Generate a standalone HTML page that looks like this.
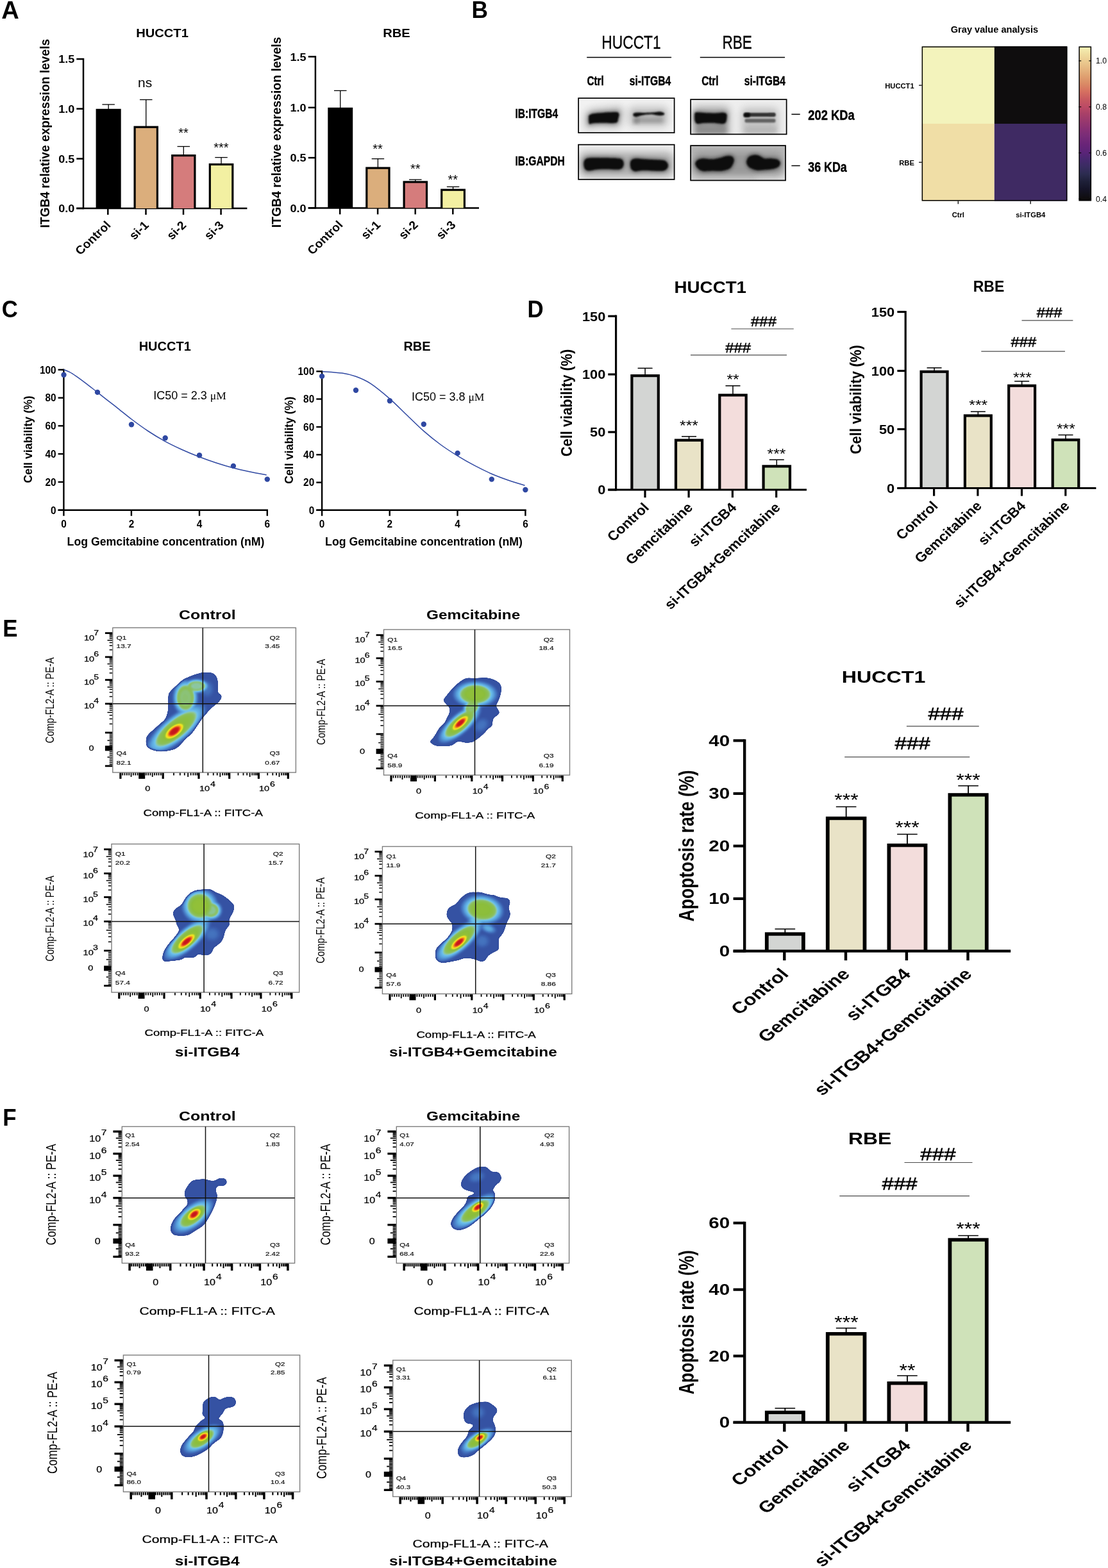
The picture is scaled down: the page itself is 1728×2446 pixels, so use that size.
<!DOCTYPE html>
<html lang="en"><head><meta charset="utf-8"><title>ITGB4 knockdown and gemcitabine sensitivity figure</title>
<style>
html,body{margin:0;padding:0;background:#fff;}
body{width:1728px;height:2446px;overflow:hidden;font-family:"Liberation Sans",sans-serif;}
svg{display:block;}
text{white-space:pre;}
</style></head>
<body>
<svg width="1728" height="2446" viewBox="0 0 1728 2446" role="img" aria-label="Figure: ITGB4 knockdown enhances gemcitabine sensitivity">
<defs>
<filter id="bl1" x="-30%" y="-60%" width="160%" height="220%"><feGaussianBlur stdDeviation="1.25"/></filter>
<filter id="bl2" x="-30%" y="-80%" width="160%" height="260%"><feGaussianBlur stdDeviation="3.2"/></filter>
<filter id="bl3" x="-40%" y="-100%" width="180%" height="300%"><feGaussianBlur stdDeviation="6"/></filter>
<clipPath id="bc1"><rect x="901.3" y="152.3" width="151.20000000000005" height="55.599999999999994"/></clipPath>
<clipPath id="bc2"><rect x="901.3" y="224.8" width="151.20000000000005" height="56.0"/></clipPath>
<clipPath id="bc3"><rect x="1076.3" y="154.3" width="151.20000000000005" height="56.0"/></clipPath>
<clipPath id="bc4"><rect x="1076.3" y="226.3" width="149.60000000000014" height="56.0"/></clipPath>
<linearGradient id="magma" x1="0" y1="0" x2="0" y2="1"><stop offset="0.0000" stop-color="#F5F2B5"/><stop offset="0.0463" stop-color="#F0DDA0"/><stop offset="0.0937" stop-color="#EBCB90"/><stop offset="0.1439" stop-color="#E5B680"/><stop offset="0.1927" stop-color="#DFA070"/><stop offset="0.2415" stop-color="#DA8A65"/><stop offset="0.2902" stop-color="#D67060"/><stop offset="0.3390" stop-color="#C85A60"/><stop offset="0.3912" stop-color="#BC4A65"/><stop offset="0.4366" stop-color="#A84068"/><stop offset="0.4854" stop-color="#98386E"/><stop offset="0.5341" stop-color="#883074"/><stop offset="0.5829" stop-color="#782C78"/><stop offset="0.6317" stop-color="#6A2478"/><stop offset="0.6888" stop-color="#5A2478"/><stop offset="0.7293" stop-color="#482870"/><stop offset="0.7780" stop-color="#3A2C62"/><stop offset="0.8268" stop-color="#2C2C50"/><stop offset="0.8756" stop-color="#1E2038"/><stop offset="0.9244" stop-color="#151428"/><stop offset="0.9863" stop-color="#0F0D0F"/></linearGradient>
<filter id="cmap" color-interpolation-filters="sRGB" x="0" y="0" width="100%" height="100%">
<feGaussianBlur in="SourceGraphic" stdDeviation="1.5" result="b"/>
<feComponentTransfer in="b" result="col"><feFuncR type="table" tableValues="0.204 0.204 0.204 0.204 0.204 0.204 0.204 0.204 0.204 0.204 0.204 0.210 0.223 0.235 0.254 0.272 0.290 0.314 0.337 0.361 0.384 0.408 0.431 0.490 0.549 0.549 0.549 0.549 0.549 0.549 0.549 0.567 0.585 0.603 0.657 0.748 0.839 0.889 0.940 0.963 0.960 0.957 0.947 0.938 0.916 0.882 0.847 0.816 0.784 0.776 0.769"/><feFuncG type="table" tableValues="0.310 0.310 0.310 0.310 0.310 0.310 0.310 0.310 0.310 0.310 0.310 0.325 0.355 0.384 0.424 0.463 0.502 0.554 0.607 0.659 0.693 0.727 0.761 0.773 0.784 0.772 0.759 0.752 0.750 0.747 0.745 0.752 0.759 0.765 0.787 0.825 0.863 0.878 0.894 0.866 0.794 0.722 0.624 0.527 0.420 0.304 0.188 0.141 0.094 0.090 0.086"/><feFuncB type="table" tableValues="0.627 0.627 0.627 0.627 0.627 0.627 0.627 0.627 0.627 0.627 0.627 0.642 0.670 0.698 0.727 0.756 0.784 0.816 0.847 0.878 0.894 0.910 0.925 0.792 0.659 0.546 0.433 0.356 0.316 0.276 0.235 0.226 0.217 0.208 0.196 0.180 0.165 0.146 0.127 0.118 0.118 0.118 0.118 0.118 0.118 0.118 0.118 0.114 0.110 0.110 0.110"/></feComponentTransfer>
<feColorMatrix in="b" type="matrix" values="1 0 0 0 0  0 1 0 0 0  0 0 1 0 0  1 0 0 0 0" result="m0"/>
<feComponentTransfer in="m0" result="mask"><feFuncA type="table" tableValues="0 0 0 0 0 0 1 1 1 1 1 1 1 1 1 1 1 1 1 1 1 1 1 1 1 1 1 1 1 1 1 1 1 1 1 1 1 1 1 1 1 1 1 1 1 1 1 1 1 1 1"/></feComponentTransfer>
<feComposite in="col" in2="mask" operator="in"/>
</filter>
<clipPath id="ol1"><path d="M316.4,1049.1C319.3,1048.8 324.3,1048.5 327.2,1048.9C330.2,1049.2 332.4,1050.1 334.1,1051.2C335.8,1052.3 336.6,1053.7 337.6,1055.5C338.5,1057.4 339.3,1058.4 339.7,1062.4C340.2,1066.5 339.4,1076.3 340.2,1079.7C340.9,1083.2 343.5,1081.9 344.5,1083.2C345.4,1084.4 345.8,1085.6 345.8,1087.0C345.7,1088.5 345.1,1090.1 344.0,1091.8C343.0,1093.4 340.9,1095.4 339.3,1097.0C337.6,1098.5 336.1,1099.6 334.1,1101.3C332.1,1103.0 329.4,1105.2 327.2,1107.3C325.0,1109.5 323.0,1112.2 321.2,1114.2C319.3,1116.2 317.9,1117.1 316.0,1119.4C314.1,1121.7 312.1,1124.9 309.9,1128.0C307.8,1131.2 305.1,1135.5 303.0,1138.4C301.0,1141.3 299.9,1143.1 297.9,1145.3C295.8,1147.5 293.3,1149.0 291.0,1151.3C288.7,1153.6 286.4,1156.7 284.0,1159.1C281.7,1161.6 279.4,1164.3 277.1,1166.0C274.8,1167.7 273.4,1168.5 270.2,1169.5C267.1,1170.4 262.3,1171.3 258.2,1171.6C254.0,1171.9 249.2,1171.8 245.2,1171.2C241.2,1170.5 236.8,1169.2 234.0,1167.7C231.2,1166.3 229.4,1165.3 228.4,1162.6C227.4,1159.8 227.3,1154.4 227.9,1151.3C228.6,1148.3 230.1,1146.9 232.3,1144.4C234.4,1142.0 238.0,1139.3 240.9,1136.7C243.8,1134.1 246.9,1131.2 249.5,1128.9C252.1,1126.6 254.7,1125.0 256.4,1122.9C258.2,1120.7 258.9,1118.8 259.9,1116.0C260.8,1113.1 261.6,1110.8 262.0,1105.6C262.5,1100.4 261.8,1089.5 262.5,1084.9C263.1,1080.3 264.1,1080.3 265.9,1078.0C267.8,1075.7 270.8,1073.7 273.7,1071.1C276.6,1068.5 280.3,1064.7 283.2,1062.4C286.1,1060.1 287.9,1058.8 291.0,1057.3C294.0,1055.7 298.1,1054.1 301.3,1052.9C304.5,1051.8 307.4,1051.0 309.9,1050.4C312.5,1049.7 313.5,1049.3 316.4,1049.1Z"/></clipPath>
<radialGradient id="pg2" gradientUnits="userSpaceOnUse" cx="0" cy="0" r="1"><stop offset="0.000" stop-color="#999999"/><stop offset="0.377" stop-color="#969696"/><stop offset="0.534" stop-color="#8f8f8f"/><stop offset="0.629" stop-color="#808080"/><stop offset="0.674" stop-color="#737373"/><stop offset="0.724" stop-color="#696969"/><stop offset="0.810" stop-color="#5c5c5c"/><stop offset="0.900" stop-color="#4f4f4f"/><stop offset="1.000" stop-color="#3b3b3b"/></radialGradient>
<radialGradient id="pg3" gradientUnits="userSpaceOnUse" cx="0" cy="0" r="1"><stop offset="0.000" stop-color="#858585"/><stop offset="0.377" stop-color="#828282"/><stop offset="0.534" stop-color="#8f8f8f"/><stop offset="0.629" stop-color="#808080"/><stop offset="0.674" stop-color="#737373"/><stop offset="0.724" stop-color="#696969"/><stop offset="0.810" stop-color="#5c5c5c"/><stop offset="0.900" stop-color="#4f4f4f"/><stop offset="1.000" stop-color="#3b3b3b"/></radialGradient>
<radialGradient id="pg4" gradientUnits="userSpaceOnUse" cx="0" cy="0" r="1"><stop offset="0.000" stop-color="#7d7d7d"/><stop offset="0.377" stop-color="#7a7a7a"/><stop offset="0.534" stop-color="#8f8f8f"/><stop offset="0.629" stop-color="#808080"/><stop offset="0.674" stop-color="#737373"/><stop offset="0.724" stop-color="#696969"/><stop offset="0.810" stop-color="#5c5c5c"/><stop offset="0.900" stop-color="#4f4f4f"/><stop offset="1.000" stop-color="#3b3b3b"/></radialGradient>
<radialGradient id="pg5" gradientUnits="userSpaceOnUse" cx="0" cy="0" r="1"><stop offset="0.000" stop-color="#4c4c4c"/><stop offset="0.400" stop-color="#494949"/><stop offset="0.700" stop-color="#3e3e3e"/><stop offset="1.000" stop-color="#333333"/></radialGradient>
<radialGradient id="pg6" gradientUnits="userSpaceOnUse" cx="0" cy="0" r="1"><stop offset="0.000" stop-color="#ffffff"/><stop offset="0.300" stop-color="#f7f7f7"/><stop offset="0.460" stop-color="#ebebeb"/><stop offset="0.580" stop-color="#dbdbdb"/><stop offset="0.700" stop-color="#c9c9c9"/><stop offset="0.820" stop-color="#bababa"/><stop offset="0.920" stop-color="#a8a8a8"/><stop offset="1.000" stop-color="#8c8c8c"/></radialGradient>
<clipPath id="ol7"><path d="M729.0,1057.5C732.2,1057.1 737.1,1057.8 741.1,1057.8C745.2,1057.7 749.5,1057.2 753.2,1057.3C757.0,1057.3 760.4,1057.3 763.6,1057.9C766.7,1058.6 769.6,1059.7 772.2,1061.0C774.8,1062.3 777.5,1064.1 779.1,1065.7C780.7,1067.4 781.2,1068.9 781.7,1070.9C782.2,1072.9 782.2,1075.2 781.9,1077.8C781.6,1080.4 780.9,1083.6 780.0,1086.4C779.1,1089.3 777.5,1092.6 776.5,1095.1C775.5,1097.5 774.0,1099.4 773.9,1101.1C773.9,1102.8 775.2,1103.7 776.1,1105.4C777.0,1107.1 779.2,1109.7 779.1,1111.5C779.0,1113.2 777.2,1114.2 775.7,1115.8C774.1,1117.4 770.8,1119.1 769.6,1121.0C768.4,1122.8 768.8,1125.0 768.3,1127.0C767.9,1129.0 768.1,1131.5 767.0,1133.0C765.9,1134.6 763.9,1134.6 761.8,1136.5C759.8,1138.4 757.2,1142.0 754.9,1144.3C752.6,1146.6 750.3,1148.4 748.0,1150.3C745.7,1152.2 743.1,1154.2 741.1,1155.5C739.1,1156.8 738.3,1157.5 736.0,1158.1C733.7,1158.6 729.9,1159.0 727.3,1158.9C724.7,1158.9 722.7,1157.9 720.4,1157.6C718.1,1157.3 715.5,1156.7 713.5,1157.2C711.5,1157.7 710.1,1159.6 708.3,1160.7C706.6,1161.7 706.2,1162.7 703.2,1163.2C700.1,1163.8 694.2,1164.1 690.2,1164.1C686.2,1164.1 681.9,1164.0 679.0,1163.2C676.1,1162.5 674.4,1160.9 672.9,1159.8C671.5,1158.7 670.1,1158.1 670.4,1156.8C670.6,1155.5 673.1,1154.1 674.7,1152.0C676.3,1149.9 678.1,1147.0 679.9,1144.3C681.6,1141.5 682.9,1138.4 685.0,1135.6C687.2,1132.9 690.8,1130.6 692.8,1127.9C694.8,1125.1 695.8,1121.8 697.1,1119.2C698.4,1116.6 700.0,1114.9 700.6,1112.3C701.1,1109.7 701.1,1105.7 700.6,1103.7C700.0,1101.7 698.4,1101.7 697.1,1100.2C695.8,1098.8 693.7,1096.5 692.8,1095.1C691.9,1093.6 691.2,1092.9 691.5,1091.6C691.8,1090.3 693.0,1089.3 694.5,1087.3C696.0,1085.3 698.3,1082.3 700.6,1079.5C702.9,1076.8 705.9,1073.3 708.3,1070.9C710.8,1068.4 712.9,1066.6 715.2,1064.9C717.5,1063.1 719.8,1061.3 722.1,1060.1C724.4,1058.9 725.9,1057.9 729.0,1057.5Z"/></clipPath>
<radialGradient id="pg8" gradientUnits="userSpaceOnUse" cx="0" cy="0" r="1"><stop offset="0.000" stop-color="#9e9e9e"/><stop offset="0.377" stop-color="#9c9c9c"/><stop offset="0.534" stop-color="#8f8f8f"/><stop offset="0.629" stop-color="#808080"/><stop offset="0.674" stop-color="#737373"/><stop offset="0.724" stop-color="#696969"/><stop offset="0.810" stop-color="#5c5c5c"/><stop offset="0.900" stop-color="#4f4f4f"/><stop offset="1.000" stop-color="#3b3b3b"/></radialGradient>
<radialGradient id="pg9" gradientUnits="userSpaceOnUse" cx="0" cy="0" r="1"><stop offset="0.000" stop-color="#9e9e9e"/><stop offset="0.377" stop-color="#9c9c9c"/><stop offset="0.534" stop-color="#8f8f8f"/><stop offset="0.629" stop-color="#808080"/><stop offset="0.674" stop-color="#737373"/><stop offset="0.724" stop-color="#696969"/><stop offset="0.810" stop-color="#5c5c5c"/><stop offset="0.900" stop-color="#4f4f4f"/><stop offset="1.000" stop-color="#3b3b3b"/></radialGradient>
<radialGradient id="pg10" gradientUnits="userSpaceOnUse" cx="0" cy="0" r="1"><stop offset="0.000" stop-color="#858585"/><stop offset="0.377" stop-color="#828282"/><stop offset="0.534" stop-color="#8f8f8f"/><stop offset="0.629" stop-color="#808080"/><stop offset="0.674" stop-color="#737373"/><stop offset="0.724" stop-color="#696969"/><stop offset="0.810" stop-color="#5c5c5c"/><stop offset="0.900" stop-color="#4f4f4f"/><stop offset="1.000" stop-color="#3b3b3b"/></radialGradient>
<radialGradient id="pg11" gradientUnits="userSpaceOnUse" cx="0" cy="0" r="1"><stop offset="0.000" stop-color="#4c4c4c"/><stop offset="0.400" stop-color="#494949"/><stop offset="0.700" stop-color="#3e3e3e"/><stop offset="1.000" stop-color="#333333"/></radialGradient>
<radialGradient id="pg12" gradientUnits="userSpaceOnUse" cx="0" cy="0" r="1"><stop offset="0.000" stop-color="#ffffff"/><stop offset="0.300" stop-color="#f7f7f7"/><stop offset="0.460" stop-color="#ebebeb"/><stop offset="0.580" stop-color="#dbdbdb"/><stop offset="0.700" stop-color="#c9c9c9"/><stop offset="0.820" stop-color="#bababa"/><stop offset="0.920" stop-color="#a8a8a8"/><stop offset="1.000" stop-color="#8c8c8c"/></radialGradient>
<clipPath id="ol13"><path d="M317.7,1387.9C320.6,1387.7 324.0,1386.9 326.3,1387.1C328.6,1387.2 329.6,1387.9 331.5,1388.8C333.4,1389.7 335.1,1391.1 337.5,1392.3C340.0,1393.4 343.4,1394.3 346.2,1395.7C348.9,1397.2 351.5,1399.0 353.9,1400.9C356.4,1402.8 359.0,1405.2 360.8,1406.9C362.6,1408.7 364.0,1409.4 364.7,1411.3C365.4,1413.1 365.3,1415.9 365.0,1418.2C364.6,1420.5 363.5,1422.9 362.6,1425.1C361.6,1427.2 360.0,1429.1 359.1,1431.1C358.2,1433.1 357.6,1435.1 357.4,1437.1C357.2,1439.2 358.5,1441.2 357.8,1443.2C357.1,1445.2 354.3,1447.2 353.1,1449.2C351.8,1451.2 351.2,1453.1 350.5,1455.3C349.8,1457.4 349.6,1459.9 348.8,1462.2C347.9,1464.5 347.0,1466.9 345.3,1469.1C343.6,1471.2 340.4,1473.4 338.4,1475.1C336.4,1476.8 334.5,1477.7 333.2,1479.4C331.9,1481.2 331.9,1483.8 330.6,1485.5C329.3,1487.2 327.6,1489.0 325.4,1489.8C323.3,1490.6 320.4,1490.4 317.7,1490.2C314.9,1490.1 311.4,1488.4 309.0,1488.9C306.7,1489.4 305.9,1492.4 303.9,1493.2C301.9,1494.1 299.6,1494.0 297.0,1494.1C294.4,1494.3 290.9,1493.5 288.3,1494.1C285.7,1494.7 285.2,1496.7 281.4,1497.6C277.7,1498.4 270.1,1498.9 265.9,1499.3C261.7,1499.6 258.5,1500.2 256.4,1499.7C254.3,1499.3 253.8,1498.4 253.4,1496.7C252.9,1495.0 253.2,1492.4 253.8,1489.8C254.5,1487.2 255.5,1484.2 257.3,1481.2C259.0,1478.1 261.7,1474.7 264.2,1471.7C266.6,1468.6 269.6,1465.9 271.9,1463.0C274.2,1460.2 276.8,1456.7 278.0,1454.4C279.1,1452.1 279.3,1451.2 278.8,1449.2C278.4,1447.2 276.3,1444.6 275.4,1442.3C274.5,1440.0 274.6,1438.2 273.7,1435.4C272.7,1432.7 270.2,1428.4 269.8,1425.9C269.3,1423.5 270.0,1422.5 271.1,1420.7C272.2,1419.0 274.2,1417.1 276.3,1415.6C278.3,1414.0 281.1,1413.3 283.2,1411.3C285.2,1409.2 286.6,1405.9 288.3,1403.5C290.1,1401.0 291.5,1398.6 293.5,1396.6C295.5,1394.6 297.8,1392.7 300.4,1391.4C303.0,1390.1 306.2,1389.4 309.0,1388.8C311.9,1388.2 314.8,1388.2 317.7,1387.9Z"/></clipPath>
<radialGradient id="pg14" gradientUnits="userSpaceOnUse" cx="0" cy="0" r="1"><stop offset="0.000" stop-color="#9e9e9e"/><stop offset="0.377" stop-color="#9c9c9c"/><stop offset="0.534" stop-color="#8f8f8f"/><stop offset="0.629" stop-color="#808080"/><stop offset="0.674" stop-color="#737373"/><stop offset="0.724" stop-color="#696969"/><stop offset="0.810" stop-color="#5c5c5c"/><stop offset="0.900" stop-color="#4f4f4f"/><stop offset="1.000" stop-color="#3b3b3b"/></radialGradient>
<radialGradient id="pg15" gradientUnits="userSpaceOnUse" cx="0" cy="0" r="1"><stop offset="0.000" stop-color="#a1a1a1"/><stop offset="0.377" stop-color="#9e9e9e"/><stop offset="0.534" stop-color="#8f8f8f"/><stop offset="0.629" stop-color="#808080"/><stop offset="0.674" stop-color="#737373"/><stop offset="0.724" stop-color="#696969"/><stop offset="0.810" stop-color="#5c5c5c"/><stop offset="0.900" stop-color="#4f4f4f"/><stop offset="1.000" stop-color="#3b3b3b"/></radialGradient>
<radialGradient id="pg16" gradientUnits="userSpaceOnUse" cx="0" cy="0" r="1"><stop offset="0.000" stop-color="#808080"/><stop offset="0.377" stop-color="#7d7d7d"/><stop offset="0.534" stop-color="#8f8f8f"/><stop offset="0.629" stop-color="#808080"/><stop offset="0.674" stop-color="#737373"/><stop offset="0.724" stop-color="#696969"/><stop offset="0.810" stop-color="#5c5c5c"/><stop offset="0.900" stop-color="#4f4f4f"/><stop offset="1.000" stop-color="#3b3b3b"/></radialGradient>
<radialGradient id="pg17" gradientUnits="userSpaceOnUse" cx="0" cy="0" r="1"><stop offset="0.000" stop-color="#737373"/><stop offset="0.400" stop-color="#696969"/><stop offset="0.700" stop-color="#505050"/><stop offset="1.000" stop-color="#333333"/></radialGradient>
<radialGradient id="pg18" gradientUnits="userSpaceOnUse" cx="0" cy="0" r="1"><stop offset="0.000" stop-color="#4c4c4c"/><stop offset="0.400" stop-color="#494949"/><stop offset="0.700" stop-color="#3e3e3e"/><stop offset="1.000" stop-color="#333333"/></radialGradient>
<radialGradient id="pg19" gradientUnits="userSpaceOnUse" cx="0" cy="0" r="1"><stop offset="0.000" stop-color="#ffffff"/><stop offset="0.300" stop-color="#f7f7f7"/><stop offset="0.460" stop-color="#ebebeb"/><stop offset="0.580" stop-color="#dbdbdb"/><stop offset="0.700" stop-color="#c9c9c9"/><stop offset="0.820" stop-color="#bababa"/><stop offset="0.920" stop-color="#a8a8a8"/><stop offset="1.000" stop-color="#8c8c8c"/></radialGradient>
<clipPath id="ol20"><path d="M741.6,1391.7C744.1,1391.7 747.0,1391.3 749.4,1391.7C751.9,1392.0 754.0,1393.2 756.3,1393.8C758.6,1394.5 760.9,1395.2 763.2,1395.5C765.5,1395.9 768.0,1395.5 770.1,1396.0C772.3,1396.5 774.1,1397.8 776.2,1398.6C778.2,1399.3 779.9,1399.9 782.2,1400.3C784.5,1400.6 788.0,1400.2 790.0,1400.7C792.0,1401.2 793.4,1402.0 794.3,1403.3C795.2,1404.6 795.7,1406.3 795.6,1408.5C795.4,1410.6 793.4,1413.8 793.4,1416.3C793.4,1418.7 795.3,1420.9 795.6,1423.2C795.9,1425.5 795.8,1427.8 795.2,1430.1C794.5,1432.4 792.7,1434.7 791.7,1437.0C790.7,1439.3 790.1,1441.1 789.1,1443.9C788.1,1446.6 787.0,1450.6 785.7,1453.4C784.4,1456.1 782.6,1458.3 781.3,1460.3C780.0,1462.3 778.5,1462.1 777.9,1465.4C777.3,1468.8 778.5,1477.1 777.9,1480.1C777.3,1483.1 776.2,1482.4 774.4,1483.6C772.7,1484.7 769.7,1485.7 767.5,1487.0C765.4,1488.3 763.2,1489.6 761.5,1491.3C759.8,1493.1 758.6,1495.9 757.2,1497.4C755.7,1498.8 754.4,1499.6 752.9,1500.0C751.3,1500.3 749.6,1500.0 747.7,1499.5C745.8,1499.0 743.9,1497.7 741.6,1497.0C739.3,1496.2 736.6,1495.6 733.9,1495.2C731.1,1494.9 728.1,1494.4 725.2,1494.8C722.4,1495.2 720.1,1496.5 716.6,1497.4C713.2,1498.2 708.6,1499.2 704.5,1500.0C700.5,1500.8 695.6,1502.0 692.4,1502.1C689.3,1502.3 687.5,1501.8 685.5,1500.8C683.5,1499.9 681.4,1498.2 680.4,1496.5C679.3,1494.8 679.2,1492.9 679.1,1490.5C678.9,1488.0 678.7,1484.3 679.5,1481.8C680.3,1479.4 681.9,1477.8 683.8,1475.8C685.7,1473.8 688.3,1471.9 690.7,1469.8C693.2,1467.6 696.3,1465.3 698.5,1462.9C700.6,1460.4 702.5,1457.5 703.7,1455.1C704.8,1452.6 705.2,1450.6 705.4,1448.2C705.5,1445.7 705.4,1442.6 704.5,1440.4C703.7,1438.3 701.5,1437.1 700.2,1435.2C698.9,1433.4 697.3,1431.2 696.8,1429.2C696.2,1427.2 696.3,1425.2 696.8,1423.2C697.2,1421.1 698.1,1418.8 699.3,1417.1C700.6,1415.5 702.7,1414.4 704.5,1413.2C706.4,1412.1 708.7,1411.7 710.6,1410.2C712.4,1408.7 713.9,1406.2 715.7,1404.2C717.6,1402.2 719.8,1399.9 721.8,1398.1C723.8,1396.4 725.7,1394.9 727.8,1393.8C730.0,1392.7 732.4,1392.0 734.7,1391.7C737.0,1391.3 739.2,1391.7 741.6,1391.7Z"/></clipPath>
<radialGradient id="pg21" gradientUnits="userSpaceOnUse" cx="0" cy="0" r="1"><stop offset="0.000" stop-color="#9e9e9e"/><stop offset="0.377" stop-color="#9c9c9c"/><stop offset="0.534" stop-color="#8f8f8f"/><stop offset="0.629" stop-color="#808080"/><stop offset="0.674" stop-color="#737373"/><stop offset="0.724" stop-color="#696969"/><stop offset="0.810" stop-color="#5c5c5c"/><stop offset="0.900" stop-color="#4f4f4f"/><stop offset="1.000" stop-color="#3b3b3b"/></radialGradient>
<radialGradient id="pg22" gradientUnits="userSpaceOnUse" cx="0" cy="0" r="1"><stop offset="0.000" stop-color="#9c9c9c"/><stop offset="0.377" stop-color="#999999"/><stop offset="0.534" stop-color="#8f8f8f"/><stop offset="0.629" stop-color="#808080"/><stop offset="0.674" stop-color="#737373"/><stop offset="0.724" stop-color="#696969"/><stop offset="0.810" stop-color="#5c5c5c"/><stop offset="0.900" stop-color="#4f4f4f"/><stop offset="1.000" stop-color="#3b3b3b"/></radialGradient>
<radialGradient id="pg23" gradientUnits="userSpaceOnUse" cx="0" cy="0" r="1"><stop offset="0.000" stop-color="#787878"/><stop offset="0.400" stop-color="#6e6e6e"/><stop offset="0.700" stop-color="#525252"/><stop offset="1.000" stop-color="#333333"/></radialGradient>
<radialGradient id="pg24" gradientUnits="userSpaceOnUse" cx="0" cy="0" r="1"><stop offset="0.000" stop-color="#666666"/><stop offset="0.400" stop-color="#5e5e5e"/><stop offset="0.700" stop-color="#4a4a4a"/><stop offset="1.000" stop-color="#333333"/></radialGradient>
<radialGradient id="pg25" gradientUnits="userSpaceOnUse" cx="0" cy="0" r="1"><stop offset="0.000" stop-color="#4c4c4c"/><stop offset="0.400" stop-color="#494949"/><stop offset="0.700" stop-color="#3e3e3e"/><stop offset="1.000" stop-color="#333333"/></radialGradient>
<radialGradient id="pg26" gradientUnits="userSpaceOnUse" cx="0" cy="0" r="1"><stop offset="0.000" stop-color="#ffffff"/><stop offset="0.300" stop-color="#f7f7f7"/><stop offset="0.460" stop-color="#ebebeb"/><stop offset="0.580" stop-color="#dbdbdb"/><stop offset="0.700" stop-color="#c9c9c9"/><stop offset="0.820" stop-color="#bababa"/><stop offset="0.920" stop-color="#a8a8a8"/><stop offset="1.000" stop-color="#8c8c8c"/></radialGradient>
<clipPath id="ol27"><path d="M320.3,1839.4C322.9,1839.7 326.0,1841.1 328.4,1841.5C330.9,1841.8 332.9,1842.0 335.1,1841.5C337.3,1840.9 339.4,1838.7 341.7,1838.1C344.1,1837.6 347.2,1837.6 349.1,1838.1C351.0,1838.6 352.5,1839.8 353.2,1841.1C353.9,1842.4 353.9,1844.7 353.6,1845.9C353.3,1847.1 352.3,1847.8 351.4,1848.5C350.4,1849.2 349.5,1849.7 347.7,1850.0C345.8,1850.3 342.0,1849.8 340.3,1850.3C338.5,1850.9 337.9,1851.9 337.3,1853.3C336.7,1854.6 336.7,1856.7 336.9,1858.5C337.2,1860.2 338.5,1861.7 338.8,1863.6C339.0,1865.6 338.9,1867.8 338.4,1870.3C337.9,1872.8 337.0,1875.5 335.8,1878.4C334.6,1881.4 332.9,1885.0 331.4,1888.1C329.9,1891.1 328.3,1894.4 326.9,1896.9C325.6,1899.5 324.6,1901.4 323.2,1903.6C321.9,1905.8 320.7,1908.3 318.8,1910.3C317.0,1912.2 314.5,1913.8 312.1,1915.4C309.8,1917.0 307.1,1918.4 304.7,1919.9C302.4,1921.4 300.3,1923.1 298.1,1924.3C295.9,1925.5 295.1,1926.7 291.4,1927.3C287.7,1927.8 279.6,1928.0 275.9,1927.6C272.2,1927.3 270.9,1926.5 269.2,1925.1C267.6,1923.6 266.3,1921.4 265.9,1919.1C265.5,1916.9 266.0,1914.2 266.6,1911.7C267.3,1909.3 268.7,1906.6 270.0,1904.3C271.3,1902.1 272.6,1900.4 274.4,1898.4C276.3,1896.4 279.0,1894.7 281.1,1892.5C283.2,1890.3 285.1,1887.4 287.0,1885.1C288.8,1882.8 291.4,1880.7 292.2,1878.4C293.0,1876.2 292.3,1873.5 291.8,1871.8C291.3,1870.1 289.9,1869.3 289.2,1868.1C288.5,1866.9 287.9,1866.0 287.7,1864.4C287.5,1862.8 287.5,1860.6 288.1,1858.5C288.7,1856.4 289.9,1854.3 291.4,1851.8C293.0,1849.3 295.4,1845.5 297.3,1843.7C299.3,1841.8 300.7,1841.4 303.3,1840.7C305.9,1840.0 310.0,1839.6 312.9,1839.4C315.7,1839.2 317.7,1839.0 320.3,1839.4Z"/></clipPath>
<radialGradient id="pg28" gradientUnits="userSpaceOnUse" cx="0" cy="0" r="1"><stop offset="0.000" stop-color="#9c9c9c"/><stop offset="0.337" stop-color="#999999"/><stop offset="0.478" stop-color="#8f8f8f"/><stop offset="0.562" stop-color="#808080"/><stop offset="0.616" stop-color="#737373"/><stop offset="0.674" stop-color="#696969"/><stop offset="0.776" stop-color="#5c5c5c"/><stop offset="0.883" stop-color="#4f4f4f"/><stop offset="1.000" stop-color="#3b3b3b"/></radialGradient>
<radialGradient id="pg29" gradientUnits="userSpaceOnUse" cx="0" cy="0" r="1"><stop offset="0.000" stop-color="#ffffff"/><stop offset="0.300" stop-color="#f7f7f7"/><stop offset="0.460" stop-color="#ebebeb"/><stop offset="0.580" stop-color="#dbdbdb"/><stop offset="0.700" stop-color="#c9c9c9"/><stop offset="0.820" stop-color="#bababa"/><stop offset="0.920" stop-color="#a8a8a8"/><stop offset="1.000" stop-color="#8c8c8c"/></radialGradient>
<clipPath id="ol30"><path d="M749.2,1820.0C751.4,1819.7 754.6,1819.6 756.6,1820.0C758.6,1820.4 759.3,1821.0 761.0,1822.2C762.7,1823.4 765.0,1826.5 766.9,1827.4C768.9,1828.3 771.0,1827.4 772.9,1827.8C774.7,1828.1 776.6,1828.5 778.0,1829.6C779.5,1830.7 780.7,1832.7 781.4,1834.4C782.0,1836.1 782.2,1837.9 781.7,1839.6C781.3,1841.3 780.0,1843.4 778.8,1844.8C777.5,1846.1 775.7,1846.4 774.3,1847.7C773.0,1849.1 771.6,1851.4 770.6,1852.9C769.7,1854.4 768.7,1855.3 768.8,1856.6C768.9,1858.0 770.9,1859.3 771.4,1861.0C771.9,1862.8 771.9,1864.9 771.7,1867.0C771.6,1869.1 771.4,1871.3 770.6,1873.6C769.8,1876.0 768.4,1878.7 766.9,1881.0C765.5,1883.4 763.7,1885.5 761.8,1887.7C759.8,1889.9 757.3,1892.4 755.1,1894.3C752.9,1896.3 750.4,1897.9 748.4,1899.5C746.5,1901.1 745.4,1902.2 743.3,1904.0C741.2,1905.7 738.3,1908.0 735.9,1909.9C733.4,1911.7 731.2,1913.6 728.5,1915.1C725.8,1916.5 722.3,1917.8 719.6,1918.4C716.9,1918.9 714.4,1918.8 712.2,1918.4C710.0,1918.0 707.8,1917.1 706.3,1915.8C704.8,1914.5 703.7,1912.5 703.3,1910.6C702.9,1908.8 703.2,1906.9 704.1,1904.7C704.9,1902.5 706.6,1899.8 708.5,1897.3C710.3,1894.8 712.8,1892.4 715.2,1889.9C717.5,1887.4 720.6,1885.0 722.6,1882.5C724.5,1880.0 726.1,1877.2 727.0,1875.1C727.9,1873.0 727.5,1871.5 728.1,1869.9C728.7,1868.3 729.1,1866.6 730.7,1865.5C732.2,1864.4 735.7,1864.0 737.3,1863.3C739.0,1862.5 740.3,1861.7 740.3,1861.0C740.3,1860.4 739.2,1860.2 737.3,1859.6C735.5,1859.0 731.7,1858.2 729.2,1857.3C726.7,1856.5 724.2,1855.6 722.6,1854.4C720.9,1853.2 719.7,1851.8 719.2,1849.9C718.7,1848.1 718.9,1845.5 719.6,1843.3C720.3,1841.1 721.6,1838.9 723.3,1836.6C725.0,1834.4 727.6,1831.9 729.9,1830.0C732.3,1828.0 735.1,1826.2 737.3,1824.8C739.6,1823.4 741.3,1822.3 743.3,1821.5C745.2,1820.7 747.0,1820.2 749.2,1820.0Z"/></clipPath>
<radialGradient id="pg31" gradientUnits="userSpaceOnUse" cx="0" cy="0" r="1"><stop offset="0.000" stop-color="#9c9c9c"/><stop offset="0.337" stop-color="#999999"/><stop offset="0.478" stop-color="#8f8f8f"/><stop offset="0.562" stop-color="#808080"/><stop offset="0.616" stop-color="#737373"/><stop offset="0.674" stop-color="#696969"/><stop offset="0.776" stop-color="#5c5c5c"/><stop offset="0.883" stop-color="#4f4f4f"/><stop offset="1.000" stop-color="#3b3b3b"/></radialGradient>
<radialGradient id="pg32" gradientUnits="userSpaceOnUse" cx="0" cy="0" r="1"><stop offset="0.000" stop-color="#4f4f4f"/><stop offset="0.400" stop-color="#4b4b4b"/><stop offset="0.700" stop-color="#404040"/><stop offset="1.000" stop-color="#333333"/></radialGradient>
<radialGradient id="pg33" gradientUnits="userSpaceOnUse" cx="0" cy="0" r="1"><stop offset="0.000" stop-color="#ffffff"/><stop offset="0.300" stop-color="#f7f7f7"/><stop offset="0.460" stop-color="#ebebeb"/><stop offset="0.580" stop-color="#dbdbdb"/><stop offset="0.700" stop-color="#c9c9c9"/><stop offset="0.820" stop-color="#bababa"/><stop offset="0.920" stop-color="#a8a8a8"/><stop offset="1.000" stop-color="#8c8c8c"/></radialGradient>
<clipPath id="ol34"><path d="M330.1,2178.7C332.1,2178.2 333.8,2178.7 335.3,2179.1C336.8,2179.4 337.7,2180.1 339.0,2180.9C340.2,2181.7 341.4,2183.7 342.7,2183.9C343.9,2184.0 344.8,2182.4 346.4,2181.6C348.0,2180.9 350.1,2179.9 352.3,2179.4C354.5,2178.9 357.6,2178.5 359.7,2178.7C361.8,2178.9 363.6,2179.6 364.9,2180.5C366.2,2181.5 367.0,2182.8 367.5,2184.2C368.0,2185.7 368.1,2187.9 367.8,2189.4C367.5,2190.9 366.7,2192.1 365.6,2193.1C364.5,2194.1 363.1,2194.7 361.2,2195.3C359.2,2195.9 355.6,2196.1 353.8,2196.8C351.9,2197.6 351.1,2198.5 350.1,2199.8C349.1,2201.0 348.6,2203.0 347.9,2204.2C347.1,2205.4 346.4,2206.4 345.6,2207.2C344.9,2207.9 343.8,2208.0 343.4,2208.6C343.0,2209.3 344.2,2210.3 343.4,2210.9C342.7,2211.5 339.0,2211.7 339.0,2212.3C339.0,2213.0 342.1,2213.7 343.4,2214.6C344.8,2215.4 346.3,2216.4 347.1,2217.5C348.0,2218.6 348.4,2218.9 348.6,2221.2C348.8,2223.6 348.9,2228.6 348.6,2231.6C348.3,2234.5 347.6,2236.9 346.7,2239.0C345.9,2241.1 345.0,2242.6 343.4,2244.2C341.9,2245.8 339.5,2247.1 337.5,2248.6C335.5,2250.1 333.3,2251.4 331.6,2253.0C329.9,2254.6 328.9,2256.6 327.1,2258.2C325.4,2259.8 323.4,2261.2 321.2,2262.7C319.0,2264.1 316.3,2265.7 313.8,2267.1C311.4,2268.4 309.0,2269.8 306.4,2270.8C303.8,2271.8 301.1,2272.6 298.3,2273.0C295.5,2273.4 291.9,2273.5 289.4,2273.0C286.9,2272.5 284.9,2271.5 283.5,2270.1C282.1,2268.6 281.2,2266.2 280.9,2264.1C280.7,2262.0 281.2,2259.7 282.0,2257.5C282.8,2255.3 284.2,2252.9 285.7,2250.8C287.2,2248.7 289.2,2246.9 290.9,2244.9C292.6,2242.9 294.5,2240.7 296.1,2239.0C297.7,2237.3 299.4,2236.0 300.5,2234.5C301.6,2233.1 302.0,2231.7 302.7,2230.1C303.5,2228.5 303.8,2226.5 304.9,2224.9C306.1,2223.3 307.9,2222.0 309.4,2220.5C310.9,2219.0 312.0,2217.5 313.8,2216.0C315.7,2214.6 320.0,2212.8 320.5,2211.6C321.0,2210.4 317.6,2209.8 316.8,2208.6C315.9,2207.5 315.4,2206.4 315.3,2204.9C315.2,2203.5 315.9,2202.4 316.0,2199.8C316.2,2197.2 316.0,2191.8 316.4,2189.4C316.8,2187.1 317.1,2186.9 318.3,2185.7C319.4,2184.5 321.5,2183.2 323.4,2182.0C325.4,2180.8 328.1,2179.2 330.1,2178.7Z"/></clipPath>
<radialGradient id="pg35" gradientUnits="userSpaceOnUse" cx="0" cy="0" r="1"><stop offset="0.000" stop-color="#9c9c9c"/><stop offset="0.337" stop-color="#999999"/><stop offset="0.478" stop-color="#8f8f8f"/><stop offset="0.562" stop-color="#808080"/><stop offset="0.616" stop-color="#737373"/><stop offset="0.674" stop-color="#696969"/><stop offset="0.776" stop-color="#5c5c5c"/><stop offset="0.883" stop-color="#4f4f4f"/><stop offset="1.000" stop-color="#3b3b3b"/></radialGradient>
<radialGradient id="pg36" gradientUnits="userSpaceOnUse" cx="0" cy="0" r="1"><stop offset="0.000" stop-color="#ffffff"/><stop offset="0.300" stop-color="#f7f7f7"/><stop offset="0.460" stop-color="#ebebeb"/><stop offset="0.580" stop-color="#dbdbdb"/><stop offset="0.700" stop-color="#c9c9c9"/><stop offset="0.820" stop-color="#bababa"/><stop offset="0.920" stop-color="#a8a8a8"/><stop offset="1.000" stop-color="#8c8c8c"/></radialGradient>
<clipPath id="ol37"><path d="M748.4,2187.0C751.9,2186.5 756.8,2186.3 759.5,2186.6C762.3,2187.0 763.0,2187.9 764.7,2188.9C766.4,2189.9 768.4,2191.5 769.9,2192.6C771.4,2193.7 772.7,2194.4 773.6,2195.5C774.5,2196.6 775.2,2197.9 775.4,2199.2C775.7,2200.5 775.6,2202.0 775.1,2203.3C774.5,2204.6 773.0,2205.7 772.1,2207.0C771.2,2208.3 770.1,2209.6 769.5,2211.1C769.0,2212.5 768.6,2214.3 768.8,2215.9C769.0,2217.4 770.0,2218.7 770.6,2220.3C771.3,2221.9 772.1,2223.5 772.5,2225.5C772.9,2227.5 773.4,2229.9 773.2,2232.1C773.0,2234.4 772.4,2236.7 771.4,2238.8C770.3,2240.9 768.7,2242.9 766.9,2244.7C765.2,2246.6 763.0,2248.2 761.0,2249.9C759.0,2251.6 757.0,2253.5 755.1,2255.1C753.3,2256.7 751.7,2258.0 749.9,2259.5C748.2,2261.0 746.3,2262.5 744.7,2264.0C743.1,2265.4 742.5,2267.0 740.3,2268.4C738.1,2269.8 734.3,2271.6 731.4,2272.5C728.6,2273.3 725.6,2273.6 723.3,2273.6C720.9,2273.6 718.9,2273.3 717.4,2272.5C715.9,2271.6 715.0,2269.9 714.4,2268.4C713.8,2266.9 713.4,2265.2 713.7,2263.2C713.9,2261.2 714.7,2258.9 715.9,2256.6C717.1,2254.2 719.3,2251.4 721.1,2249.2C722.8,2246.9 724.9,2245.1 726.3,2243.2C727.6,2241.4 728.5,2239.7 729.2,2238.1C729.9,2236.5 729.7,2235.1 730.3,2233.6C730.9,2232.1 731.6,2230.7 732.9,2229.2C734.2,2227.7 737.6,2226.0 738.1,2224.7C738.6,2223.5 737.2,2222.4 735.9,2221.8C734.5,2221.2 731.7,2221.7 729.9,2221.0C728.2,2220.4 726.6,2219.4 725.5,2218.1C724.4,2216.7 723.7,2215.3 723.3,2212.9C722.9,2210.6 722.8,2206.5 723.3,2204.0C723.8,2201.6 724.9,2200.0 726.3,2198.1C727.6,2196.3 729.3,2194.4 731.4,2192.9C733.5,2191.5 736.0,2190.6 738.8,2189.6C741.7,2188.6 745.0,2187.5 748.4,2187.0Z"/></clipPath>
<radialGradient id="pg38" gradientUnits="userSpaceOnUse" cx="0" cy="0" r="1"><stop offset="0.000" stop-color="#9c9c9c"/><stop offset="0.337" stop-color="#999999"/><stop offset="0.478" stop-color="#8f8f8f"/><stop offset="0.562" stop-color="#808080"/><stop offset="0.616" stop-color="#737373"/><stop offset="0.674" stop-color="#696969"/><stop offset="0.776" stop-color="#5c5c5c"/><stop offset="0.883" stop-color="#4f4f4f"/><stop offset="1.000" stop-color="#3b3b3b"/></radialGradient>
<radialGradient id="pg39" gradientUnits="userSpaceOnUse" cx="0" cy="0" r="1"><stop offset="0.000" stop-color="#575757"/><stop offset="0.400" stop-color="#515151"/><stop offset="0.700" stop-color="#434343"/><stop offset="1.000" stop-color="#333333"/></radialGradient>
<radialGradient id="pg40" gradientUnits="userSpaceOnUse" cx="0" cy="0" r="1"><stop offset="0.000" stop-color="#4c4c4c"/><stop offset="0.400" stop-color="#494949"/><stop offset="0.700" stop-color="#3e3e3e"/><stop offset="1.000" stop-color="#333333"/></radialGradient>
<radialGradient id="pg41" gradientUnits="userSpaceOnUse" cx="0" cy="0" r="1"><stop offset="0.000" stop-color="#ffffff"/><stop offset="0.300" stop-color="#f7f7f7"/><stop offset="0.460" stop-color="#ebebeb"/><stop offset="0.580" stop-color="#dbdbdb"/><stop offset="0.700" stop-color="#c9c9c9"/><stop offset="0.820" stop-color="#bababa"/><stop offset="0.920" stop-color="#a8a8a8"/><stop offset="1.000" stop-color="#8c8c8c"/></radialGradient>
</defs>
<rect x="0" y="0" width="1728" height="2446" fill="#ffffff"/>
<text transform="translate(2.30,29.00) scale(0.9900,1.0000)" font-family='"Liberation Sans", sans-serif' font-size="38.5" font-weight="bold" text-anchor="start" fill="#000" >A</text>
<text transform="translate(735.50,28.30) scale(0.9500,1.0000)" font-family='"Liberation Sans", sans-serif' font-size="37.2" font-weight="bold" text-anchor="start" fill="#000" >B</text>
<text transform="translate(2.70,495.00) scale(0.9200,1.0000)" font-family='"Liberation Sans", sans-serif' font-size="37.7" font-weight="bold" text-anchor="start" fill="#000" >C</text>
<text transform="translate(822.60,495.00) scale(0.9300,1.0000)" font-family='"Liberation Sans", sans-serif' font-size="37.5" font-weight="bold" text-anchor="start" fill="#000" >D</text>
<text transform="translate(4.20,992.80) scale(0.9300,1.0000)" font-family='"Liberation Sans", sans-serif' font-size="37.5" font-weight="bold" text-anchor="start" fill="#000" >E</text>
<text transform="translate(4.20,1755.80) scale(0.9300,1.0000)" font-family='"Liberation Sans", sans-serif' font-size="37.5" font-weight="bold" text-anchor="start" fill="#000" >F</text>
<text transform="translate(253.00,57.90) scale(1.0500,1.0000)" font-family='"Liberation Sans", sans-serif' font-size="19.2" font-weight="bold" text-anchor="middle" fill="#000" >HUCCT1</text>
<text transform="translate(76.80,208.20) scale(1.0600,1) rotate(-90) scale(1.0015,1.0000)" font-family='"Liberation Sans", sans-serif' font-size="19.2" font-weight="bold" text-anchor="middle" fill="#000" >ITGB4 relative expression levels</text>
<line x1="130.00" y1="90.85" x2="130.00" y2="326.25" stroke="#000" stroke-width="2.5" stroke-linecap="butt"/>
<line x1="119.30" y1="92.10" x2="130.00" y2="92.10" stroke="#000" stroke-width="2.5" stroke-linecap="butt"/>
<line x1="119.30" y1="169.70" x2="130.00" y2="169.70" stroke="#000" stroke-width="2.5" stroke-linecap="butt"/>
<line x1="119.30" y1="247.60" x2="130.00" y2="247.60" stroke="#000" stroke-width="2.5" stroke-linecap="butt"/>
<line x1="119.30" y1="325.00" x2="130.00" y2="325.00" stroke="#000" stroke-width="2.5" stroke-linecap="butt"/>
<line x1="119.30" y1="325.00" x2="385.40" y2="325.00" stroke="#000" stroke-width="2.5" stroke-linecap="butt"/>
<line x1="168.30" y1="325.00" x2="168.30" y2="335.00" stroke="#000" stroke-width="2.5" stroke-linecap="butt"/>
<line x1="227.50" y1="325.00" x2="227.50" y2="335.00" stroke="#000" stroke-width="2.5" stroke-linecap="butt"/>
<line x1="286.00" y1="325.00" x2="286.00" y2="335.00" stroke="#000" stroke-width="2.5" stroke-linecap="butt"/>
<line x1="344.60" y1="325.00" x2="344.60" y2="335.00" stroke="#000" stroke-width="2.5" stroke-linecap="butt"/>
<text transform="translate(116.40,98.40) scale(1.0500,1.0000)" font-family='"Liberation Sans", sans-serif' font-size="17.2" font-weight="bold" text-anchor="end" fill="#000" >1.5</text>
<text transform="translate(116.40,176.00) scale(1.0500,1.0000)" font-family='"Liberation Sans", sans-serif' font-size="17.2" font-weight="bold" text-anchor="end" fill="#000" >1.0</text>
<text transform="translate(116.40,253.90) scale(1.0500,1.0000)" font-family='"Liberation Sans", sans-serif' font-size="17.2" font-weight="bold" text-anchor="end" fill="#000" >0.5</text>
<text transform="translate(116.40,331.30) scale(1.0500,1.0000)" font-family='"Liberation Sans", sans-serif' font-size="17.2" font-weight="bold" text-anchor="end" fill="#000" >0.0</text>
<line x1="169.15" y1="163.00" x2="169.15" y2="170.80" stroke="#000" stroke-width="1.3" stroke-linecap="butt"/>
<line x1="159.40" y1="163.00" x2="178.90" y2="163.00" stroke="#000" stroke-width="1.3" stroke-linecap="butt"/>
<rect x="149.60" y="169.80" width="39.10" height="155.20" fill="#000" stroke="none" stroke-width="0" />
<line x1="227.75" y1="155.50" x2="227.75" y2="197.60" stroke="#000" stroke-width="1.3" stroke-linecap="butt"/>
<line x1="218.00" y1="155.50" x2="237.50" y2="155.50" stroke="#000" stroke-width="1.3" stroke-linecap="butt"/>
<rect x="208.50" y="196.60" width="38.50" height="128.40" fill="#000" stroke="none" stroke-width="0" />
<rect x="211.70" y="199.80" width="32.10" height="125.20" fill="#DBAE7C" stroke="none" stroke-width="0" />
<line x1="286.30" y1="228.50" x2="286.30" y2="242.00" stroke="#000" stroke-width="1.3" stroke-linecap="butt"/>
<line x1="276.55" y1="228.50" x2="296.05" y2="228.50" stroke="#000" stroke-width="1.3" stroke-linecap="butt"/>
<rect x="267.10" y="241.00" width="38.40" height="84.00" fill="#000" stroke="none" stroke-width="0" />
<rect x="270.30" y="244.20" width="32.00" height="80.80" fill="#D57C7C" stroke="none" stroke-width="0" />
<line x1="345.05" y1="245.60" x2="345.05" y2="255.90" stroke="#000" stroke-width="1.3" stroke-linecap="butt"/>
<line x1="335.30" y1="245.60" x2="354.80" y2="245.60" stroke="#000" stroke-width="1.3" stroke-linecap="butt"/>
<rect x="325.70" y="254.90" width="38.70" height="70.10" fill="#000" stroke="none" stroke-width="0" />
<rect x="328.90" y="258.10" width="32.30" height="66.90" fill="#F3F0A2" stroke="none" stroke-width="0" />
<text transform="translate(226.20,136.00)" font-family='"Liberation Sans", sans-serif' font-size="21" text-anchor="middle" fill="#000" >ns</text>
<text transform="translate(286.00,213.50)" font-family='"Liberation Sans", sans-serif' font-size="20" text-anchor="middle" fill="#000" >**</text>
<text transform="translate(344.80,237.00)" font-family='"Liberation Sans", sans-serif' font-size="20" text-anchor="middle" fill="#000" >***</text>
<text transform="translate(173.80,352.50) scale(1.0500,1) rotate(-45)" font-family='"Liberation Sans", sans-serif' font-size="18.4" font-weight="bold" text-anchor="end" fill="#000" >Control</text>
<text transform="translate(233.00,352.50) scale(1.0500,1) rotate(-45)" font-family='"Liberation Sans", sans-serif' font-size="18.4" font-weight="bold" text-anchor="end" fill="#000" >si-1</text>
<text transform="translate(291.50,352.50) scale(1.0500,1) rotate(-45)" font-family='"Liberation Sans", sans-serif' font-size="18.4" font-weight="bold" text-anchor="end" fill="#000" >si-2</text>
<text transform="translate(350.10,352.50) scale(1.0500,1) rotate(-45)" font-family='"Liberation Sans", sans-serif' font-size="18.4" font-weight="bold" text-anchor="end" fill="#000" >si-3</text>
<text transform="translate(618.40,57.90) scale(1.0500,1.0000)" font-family='"Liberation Sans", sans-serif' font-size="19.2" font-weight="bold" text-anchor="middle" fill="#000" >RBE</text>
<text transform="translate(438.20,206.50) scale(1.0600,1) rotate(-90) scale(1.0117,1.0000)" font-family='"Liberation Sans", sans-serif' font-size="19.2" font-weight="bold" text-anchor="middle" fill="#000" >ITGB4 relative expression levels</text>
<line x1="491.90" y1="87.15" x2="491.90" y2="325.65" stroke="#000" stroke-width="2.5" stroke-linecap="butt"/>
<line x1="480.70" y1="88.40" x2="491.90" y2="88.40" stroke="#000" stroke-width="2.5" stroke-linecap="butt"/>
<line x1="480.70" y1="167.80" x2="491.90" y2="167.80" stroke="#000" stroke-width="2.5" stroke-linecap="butt"/>
<line x1="480.70" y1="246.10" x2="491.90" y2="246.10" stroke="#000" stroke-width="2.5" stroke-linecap="butt"/>
<line x1="480.70" y1="324.40" x2="491.90" y2="324.40" stroke="#000" stroke-width="2.5" stroke-linecap="butt"/>
<line x1="480.70" y1="324.40" x2="747.00" y2="324.40" stroke="#000" stroke-width="2.5" stroke-linecap="butt"/>
<line x1="530.20" y1="324.40" x2="530.20" y2="334.40" stroke="#000" stroke-width="2.5" stroke-linecap="butt"/>
<line x1="589.10" y1="324.40" x2="589.10" y2="334.40" stroke="#000" stroke-width="2.5" stroke-linecap="butt"/>
<line x1="647.70" y1="324.40" x2="647.70" y2="334.40" stroke="#000" stroke-width="2.5" stroke-linecap="butt"/>
<line x1="706.30" y1="324.40" x2="706.30" y2="334.40" stroke="#000" stroke-width="2.5" stroke-linecap="butt"/>
<text transform="translate(477.60,94.70) scale(1.0500,1.0000)" font-family='"Liberation Sans", sans-serif' font-size="17.2" font-weight="bold" text-anchor="end" fill="#000" >1.5</text>
<text transform="translate(477.60,174.10) scale(1.0500,1.0000)" font-family='"Liberation Sans", sans-serif' font-size="17.2" font-weight="bold" text-anchor="end" fill="#000" >1.0</text>
<text transform="translate(477.60,252.40) scale(1.0500,1.0000)" font-family='"Liberation Sans", sans-serif' font-size="17.2" font-weight="bold" text-anchor="end" fill="#000" >0.5</text>
<text transform="translate(477.60,330.70) scale(1.0500,1.0000)" font-family='"Liberation Sans", sans-serif' font-size="17.2" font-weight="bold" text-anchor="end" fill="#000" >0.0</text>
<line x1="530.75" y1="141.40" x2="530.75" y2="168.80" stroke="#000" stroke-width="1.3" stroke-linecap="butt"/>
<line x1="521.00" y1="141.40" x2="540.50" y2="141.40" stroke="#000" stroke-width="1.3" stroke-linecap="butt"/>
<rect x="511.30" y="167.80" width="38.90" height="156.60" fill="#000" stroke="none" stroke-width="0" />
<line x1="589.40" y1="247.70" x2="589.40" y2="261.50" stroke="#000" stroke-width="1.3" stroke-linecap="butt"/>
<line x1="579.65" y1="247.70" x2="599.15" y2="247.70" stroke="#000" stroke-width="1.3" stroke-linecap="butt"/>
<rect x="570.20" y="260.50" width="38.40" height="63.90" fill="#000" stroke="none" stroke-width="0" />
<rect x="573.40" y="263.70" width="32.00" height="60.70" fill="#DBAE7C" stroke="none" stroke-width="0" />
<line x1="647.80" y1="280.20" x2="647.80" y2="283.30" stroke="#000" stroke-width="1.3" stroke-linecap="butt"/>
<line x1="638.05" y1="280.20" x2="657.55" y2="280.20" stroke="#000" stroke-width="1.3" stroke-linecap="butt"/>
<rect x="628.50" y="282.30" width="38.60" height="42.10" fill="#000" stroke="none" stroke-width="0" />
<rect x="631.70" y="285.50" width="32.20" height="38.90" fill="#D57C7C" stroke="none" stroke-width="0" />
<line x1="706.55" y1="291.40" x2="706.55" y2="295.60" stroke="#000" stroke-width="1.3" stroke-linecap="butt"/>
<line x1="696.80" y1="291.40" x2="716.30" y2="291.40" stroke="#000" stroke-width="1.3" stroke-linecap="butt"/>
<rect x="687.10" y="294.60" width="38.90" height="29.80" fill="#000" stroke="none" stroke-width="0" />
<rect x="690.30" y="297.80" width="32.50" height="26.60" fill="#F3F0A2" stroke="none" stroke-width="0" />
<text transform="translate(589.10,238.50)" font-family='"Liberation Sans", sans-serif' font-size="20" text-anchor="middle" fill="#000" >**</text>
<text transform="translate(647.70,270.00)" font-family='"Liberation Sans", sans-serif' font-size="20" text-anchor="middle" fill="#000" >**</text>
<text transform="translate(706.30,286.50)" font-family='"Liberation Sans", sans-serif' font-size="20" text-anchor="middle" fill="#000" >**</text>
<text transform="translate(535.70,351.90) scale(1.0500,1) rotate(-45)" font-family='"Liberation Sans", sans-serif' font-size="18.4" font-weight="bold" text-anchor="end" fill="#000" >Control</text>
<text transform="translate(594.60,351.90) scale(1.0500,1) rotate(-45)" font-family='"Liberation Sans", sans-serif' font-size="18.4" font-weight="bold" text-anchor="end" fill="#000" >si-1</text>
<text transform="translate(653.20,351.90) scale(1.0500,1) rotate(-45)" font-family='"Liberation Sans", sans-serif' font-size="18.4" font-weight="bold" text-anchor="end" fill="#000" >si-2</text>
<text transform="translate(711.80,351.90) scale(1.0500,1) rotate(-45)" font-family='"Liberation Sans", sans-serif' font-size="18.4" font-weight="bold" text-anchor="end" fill="#000" >si-3</text>
<text transform="translate(938.20,76.40) scale(0.7873,1.0000)" font-family='"Liberation Sans", sans-serif' font-size="29" text-anchor="start" fill="#000" stroke="#000" stroke-width="0.3">HUCCT1</text>
<text transform="translate(1126.40,76.40) scale(0.7815,1.0000)" font-family='"Liberation Sans", sans-serif' font-size="29" text-anchor="start" fill="#000" stroke="#000" stroke-width="0.3">RBE</text>
<line x1="915.20" y1="89.40" x2="1047.10" y2="89.40" stroke="#000" stroke-width="1.5" stroke-linecap="butt"/>
<line x1="1091.80" y1="89.40" x2="1224.10" y2="89.40" stroke="#000" stroke-width="1.5" stroke-linecap="butt"/>
<text transform="translate(915.40,132.60) scale(0.7792,1.0000)" font-family='"Liberation Sans", sans-serif' font-size="19.6" font-weight="bold" text-anchor="start" fill="#000" stroke="#000" stroke-width="0.45">Ctrl</text>
<text transform="translate(981.80,132.60) scale(0.7991,1.0000)" font-family='"Liberation Sans", sans-serif' font-size="19.6" font-weight="bold" text-anchor="start" fill="#000" stroke="#000" stroke-width="0.45">si-ITGB4</text>
<text transform="translate(1094.20,132.60) scale(0.7792,1.0000)" font-family='"Liberation Sans", sans-serif' font-size="19.6" font-weight="bold" text-anchor="start" fill="#000" stroke="#000" stroke-width="0.45">Ctrl</text>
<text transform="translate(1160.80,132.60) scale(0.7966,1.0000)" font-family='"Liberation Sans", sans-serif' font-size="19.6" font-weight="bold" text-anchor="start" fill="#000" stroke="#000" stroke-width="0.45">si-ITGB4</text>
<text transform="translate(803.50,184.40) scale(0.7943,1.0000)" font-family='"Liberation Sans", sans-serif' font-size="19.6" font-weight="bold" text-anchor="start" fill="#000" stroke="#000" stroke-width="0.45">IB:ITGB4</text>
<text transform="translate(803.50,257.60) scale(0.7977,1.0000)" font-family='"Liberation Sans", sans-serif' font-size="19.6" font-weight="bold" text-anchor="start" fill="#000" stroke="#000" stroke-width="0.45">IB:GAPDH</text>
<line x1="1234.40" y1="178.30" x2="1247.70" y2="178.30" stroke="#000" stroke-width="1.5" stroke-linecap="butt"/>
<line x1="1234.40" y1="258.50" x2="1247.70" y2="258.50" stroke="#000" stroke-width="1.5" stroke-linecap="butt"/>
<text transform="translate(1260.30,187.00) scale(0.8584,1.0000)" font-family='"Liberation Sans", sans-serif' font-size="21.4" font-weight="bold" text-anchor="start" fill="#000" stroke="#000" stroke-width="0.45">202 KDa</text>
<text transform="translate(1260.30,267.90) scale(0.8338,1.0000)" font-family='"Liberation Sans", sans-serif' font-size="21.4" font-weight="bold" text-anchor="start" fill="#000" stroke="#000" stroke-width="0.45">36 KDa</text>
<g clip-path="url(#bc1)">
<rect x="901.30" y="152.30" width="151.20" height="55.60" fill="#f2f2f2" stroke="none" stroke-width="0" />
<path d="M913.4,176.4C914.9,174.7 917.1,172.5 921.6,171.2C926.2,169.9 934.4,169.4 940.7,168.7C947.1,168.0 955.2,167.2 959.8,166.9C964.4,166.7 966.5,166.2 968.4,167.3C970.4,168.5 971.3,170.9 971.5,173.9C971.7,176.9 970.3,181.7 969.7,185.5C969.1,189.2 969.5,194.1 967.8,196.3C966.1,198.6 964.3,198.7 959.8,199.0C955.3,199.3 947.1,198.0 940.7,198.0C934.4,198.0 926.1,198.4 921.6,199.0C917.2,199.6 915.8,202.7 914.3,201.7C912.7,200.7 912.8,196.2 912.5,192.8C912.2,189.5 912.3,184.4 912.5,181.6C912.6,178.9 911.9,178.1 913.4,176.4Z" fill="#808080" opacity="0.55" filter="url(#bl3)"/>
<rect x="980.0" y="166.0" width="62.0" height="32.0" rx="8" ry="8" fill="#9a9a9a" opacity="0.5" filter="url(#bl3)"/>
<path d="M918.2,179.6C919.5,178.6 921.3,177.3 925.1,176.5C928.8,175.8 935.5,175.4 940.8,175.0C946.0,174.6 952.7,174.1 956.5,174.0C960.3,173.9 962.0,173.5 963.6,174.2C965.2,174.9 966.0,176.3 966.1,178.1C966.3,179.9 965.2,182.7 964.7,184.9C964.2,187.1 964.5,190.0 963.1,191.3C961.7,192.7 960.2,192.7 956.5,192.9C952.8,193.1 946.0,192.3 940.8,192.3C935.5,192.3 928.7,192.6 925.1,192.9C921.4,193.3 920.2,195.1 919.0,194.5C917.7,193.9 917.8,191.2 917.5,189.3C917.3,187.3 917.4,184.3 917.5,182.7C917.6,181.1 917.0,180.6 918.2,179.6Z" fill="#0d0d0d" opacity="0.5" filter="url(#bl2)"/>
<path d="M918.9,180.1C920.1,179.2 921.9,178.0 925.5,177.3C929.2,176.7 935.7,176.4 940.8,176.0C945.9,175.6 952.3,175.2 956.0,175.1C959.7,175.0 961.4,174.7 963.0,175.3C964.5,175.9 965.2,177.2 965.4,178.8C965.6,180.4 964.5,182.9 964.0,184.9C963.5,186.8 963.8,189.4 962.4,190.6C961.1,191.7 959.6,191.8 956.0,192.0C952.4,192.1 945.9,191.5 940.8,191.5C935.7,191.5 929.0,191.7 925.5,192.0C922.0,192.3 920.8,193.9 919.6,193.4C918.4,192.9 918.4,190.5 918.2,188.7C918.0,187.0 918.1,184.3 918.2,182.8C918.3,181.4 917.7,181.0 918.9,180.1Z" fill="#0d0d0d" opacity="1" filter="url(#bl1)"/>
<rect x="989.0" y="184.5" width="46.0" height="6.5" rx="3" ry="3" fill="#7c7c7c" opacity="0.75" filter="url(#bl2)"/>
<rect x="988.0" y="186.0" width="8.0" height="5.5" rx="3" ry="3" fill="#555" opacity="0.7" filter="url(#bl2)"/>
<path d="M987.4,178.6C987.6,177.7 988.0,176.7 989.6,176.2C991.2,175.7 993.8,175.7 996.7,175.7C999.6,175.7 1003.5,176.0 1006.9,176.0C1010.3,176.0 1014.0,175.8 1017.1,175.6C1020.1,175.4 1022.7,174.8 1025.2,174.7C1027.8,174.6 1030.5,174.5 1032.3,174.9C1034.2,175.3 1035.9,176.3 1036.2,177.1C1036.5,177.9 1035.7,179.1 1034.2,179.6C1032.7,180.1 1030.1,180.3 1027.2,180.1C1024.4,179.9 1020.5,178.6 1017.1,178.3C1013.7,178.1 1010.3,178.3 1006.9,178.8C1003.5,179.2 999.3,180.3 996.7,180.9C994.2,181.5 993.1,182.2 991.6,182.2C990.2,182.2 989.0,181.7 988.3,181.1C987.6,180.5 987.1,179.4 987.4,178.6Z" fill="#0d0d0d" opacity="1" filter="url(#bl1)"/>
<path d="M987.4,178.6C987.6,177.7 988.0,176.7 989.6,176.2C991.2,175.7 993.8,175.7 996.7,175.7C999.6,175.7 1003.5,176.0 1006.9,176.0C1010.3,176.0 1014.0,175.8 1017.1,175.6C1020.1,175.4 1022.7,174.8 1025.2,174.7C1027.8,174.6 1030.5,174.5 1032.3,174.9C1034.2,175.3 1035.9,176.3 1036.2,177.1C1036.5,177.9 1035.7,179.1 1034.2,179.6C1032.7,180.1 1030.1,180.3 1027.2,180.1C1024.4,179.9 1020.5,178.6 1017.1,178.3C1013.7,178.1 1010.3,178.3 1006.9,178.8C1003.5,179.2 999.3,180.3 996.7,180.9C994.2,181.5 993.1,182.2 991.6,182.2C990.2,182.2 989.0,181.7 988.3,181.1C987.6,180.5 987.1,179.4 987.4,178.6Z" fill="#0d0d0d" opacity="0.35" filter="url(#bl2)"/>
</g>
<rect x="902.15" y="153.15" width="149.50" height="53.90" fill="none" stroke="#000" stroke-width="1.7" />
<g clip-path="url(#bc2)">
<rect x="901.30" y="224.80" width="151.20" height="56.00" fill="#efefef" stroke="none" stroke-width="0" />
<rect x="903.0" y="237.0" width="148.0" height="39.0" rx="12" ry="12" fill="#858585" opacity="0.62" filter="url(#bl3)"/>
<path d="M909.6,255.8C909.6,253.0 909.9,249.7 911.6,247.9C913.4,246.1 915.0,245.6 919.8,245.1C924.7,244.7 933.8,245.0 940.8,245.1C947.8,245.2 956.7,245.3 961.7,245.7C966.8,246.2 969.0,246.4 971.0,247.9C972.9,249.4 973.3,252.4 973.5,254.6C973.6,256.9 973.3,259.6 972.0,261.4C970.7,263.2 970.3,264.7 965.9,265.3C961.6,265.9 952.0,264.9 946.0,264.9C940.1,264.9 935.0,264.9 930.3,265.3C925.6,265.8 920.8,267.7 917.7,267.6C914.6,267.6 913.0,266.8 911.6,264.9C910.3,262.9 909.6,258.6 909.6,255.8Z" fill="#0d0d0d" opacity="0.55" filter="url(#bl2)"/>
<path d="M982.1,255.6C982.1,253.0 982.4,250.5 983.9,248.9C985.4,247.3 987.3,246.4 991.1,246.1C994.9,245.8 1000.7,246.9 1006.8,247.2C1012.9,247.6 1022.5,247.9 1027.7,248.4C1033.0,248.9 1035.7,248.6 1038.2,250.0C1040.7,251.4 1042.1,254.5 1042.6,256.8C1043.1,259.0 1042.4,261.7 1041.2,263.5C1039.9,265.3 1039.1,266.8 1035.1,267.4C1031.1,268.1 1022.8,267.5 1017.3,267.4C1011.7,267.3 1006.1,266.8 1001.5,267.0C997.0,267.2 993.0,269.0 990.0,268.6C987.1,268.2 985.3,266.8 983.9,264.6C982.6,262.5 982.1,258.2 982.1,255.6Z" fill="#0d0d0d" opacity="0.55" filter="url(#bl2)"/>
<path d="M910.5,255.9C910.5,253.4 910.8,250.5 912.5,249.0C914.2,247.4 915.7,246.9 920.4,246.5C925.1,246.1 934.0,246.4 940.8,246.5C947.6,246.6 956.2,246.6 961.1,247.0C966.0,247.4 968.2,247.6 970.1,249.0C972.0,250.3 972.3,252.9 972.5,254.9C972.7,256.8 972.3,259.2 971.1,260.8C969.9,262.3 969.4,263.7 965.2,264.2C961.0,264.7 951.6,263.8 945.9,263.8C940.1,263.8 935.2,263.8 930.6,264.2C926.0,264.6 921.4,266.3 918.4,266.2C915.4,266.2 913.8,265.5 912.5,263.8C911.2,262.1 910.5,258.3 910.5,255.9Z" fill="#0d0d0d" opacity="1" filter="url(#bl1)"/>
<path d="M982.9,255.9C982.9,253.6 983.3,251.4 984.7,250.0C986.2,248.6 987.9,247.8 991.6,247.5C995.3,247.3 1001.0,248.2 1006.9,248.5C1012.8,248.9 1022.2,249.2 1027.2,249.6C1032.3,250.0 1035.0,249.8 1037.4,251.0C1039.8,252.2 1041.2,254.9 1041.7,256.9C1042.2,258.9 1041.5,261.2 1040.3,262.8C1039.0,264.3 1038.2,265.7 1034.4,266.2C1030.5,266.8 1022.5,266.3 1017.1,266.2C1011.6,266.2 1006.2,265.7 1001.8,265.8C997.4,266.0 993.5,267.6 990.6,267.3C987.8,266.9 986.0,265.7 984.7,263.8C983.4,261.9 982.9,258.2 982.9,255.9Z" fill="#0d0d0d" opacity="1" filter="url(#bl1)"/>
</g>
<rect x="902.15" y="225.65" width="149.50" height="54.30" fill="none" stroke="#000" stroke-width="1.7" />
<g clip-path="url(#bc3)">
<rect x="1076.30" y="154.30" width="151.20" height="56.00" fill="#eeeeee" stroke="none" stroke-width="0" />
<rect x="1080.0" y="166.0" width="58.0" height="48.0" rx="8" ry="8" fill="#777" opacity="0.55" filter="url(#bl3)"/>
<rect x="1156.0" y="168.0" width="58.0" height="46.0" rx="8" ry="8" fill="#999" opacity="0.5" filter="url(#bl3)"/>
<rect x="1085.0" y="196.0" width="48.0" height="12.5" rx="3" ry="3" fill="#868686" opacity="0.85" filter="url(#bl2)"/>
<path d="M1082.8,177.9C1083.2,175.3 1082.9,174.6 1085.8,174.2C1088.7,173.8 1095.2,175.1 1100.3,175.3C1105.3,175.6 1111.4,176.0 1116.0,175.9C1120.5,175.8 1124.6,174.6 1127.5,174.8C1130.4,175.0 1132.5,175.5 1133.6,176.9C1134.7,178.4 1134.2,181.2 1134.0,183.6C1133.8,185.9 1133.6,189.6 1132.5,191.3C1131.5,193.0 1131.1,193.8 1127.5,194.0C1123.9,194.2 1116.2,192.6 1110.7,192.4C1105.3,192.2 1099.0,192.6 1095.0,192.9C1091.0,193.2 1088.8,194.6 1086.9,194.0C1084.9,193.4 1084.0,191.9 1083.3,189.2C1082.6,186.6 1082.3,180.4 1082.8,177.9Z" fill="#0d0d0d" opacity="0.5" filter="url(#bl2)"/>
<path d="M1083.5,178.5C1083.9,176.3 1083.6,175.6 1086.5,175.3C1089.3,174.9 1095.6,176.0 1100.5,176.3C1105.4,176.5 1111.4,176.9 1115.8,176.8C1120.2,176.7 1124.1,175.6 1127.0,175.8C1129.8,175.9 1131.8,176.4 1132.9,177.7C1133.9,179.0 1133.4,181.5 1133.3,183.6C1133.1,185.7 1132.9,189.0 1131.9,190.5C1130.8,192.1 1130.5,192.8 1127.0,193.0C1123.4,193.1 1115.9,191.7 1110.7,191.5C1105.4,191.4 1099.3,191.7 1095.4,191.9C1091.6,192.2 1089.4,193.5 1087.5,193.0C1085.6,192.4 1084.7,191.1 1084.0,188.7C1083.4,186.3 1083.1,180.8 1083.5,178.5Z" fill="#0d0d0d" opacity="1" filter="url(#bl1)"/>
<rect x="1161.0" y="176.0" width="48.5" height="6.0" rx="2.5" ry="2.5" fill="#333" opacity="1" filter="url(#bl1)"/>
<rect x="1159.5" y="176.0" width="10.5" height="7.0" rx="3" ry="3" fill="#0d0d0d" opacity="1" filter="url(#bl1)"/>
<rect x="1198.0" y="176.8" width="11.0" height="3.8" rx="2" ry="2" fill="#3a3a3a" opacity="0.8" filter="url(#bl1)"/>
<rect x="1161.5" y="185.2" width="48.0" height="6.0" rx="2.5" ry="2.5" fill="#5c5c5c" opacity="0.95" filter="url(#bl1)"/>
<rect x="1162.0" y="198.5" width="49.0" height="7.0" rx="3" ry="3" fill="#b4b4b4" opacity="0.95" filter="url(#bl2)"/>
</g>
<rect x="1077.15" y="155.15" width="149.50" height="54.30" fill="none" stroke="#000" stroke-width="1.7" />
<g clip-path="url(#bc4)">
<rect x="1076.30" y="226.30" width="149.60" height="56.00" fill="#d6d6d6" stroke="none" stroke-width="0" />
<rect x="1070.0" y="222.0" width="162.0" height="20.0" rx="0" ry="0" fill="#b0b0b0" opacity="0.85" filter="url(#bl3)"/>
<rect x="1180.0" y="268.0" width="52.0" height="22.0" rx="0" ry="0" fill="#e6e6e6" opacity="0.9" filter="url(#bl3)"/>
<rect x="1078.0" y="238.0" width="146.0" height="38.0" rx="12" ry="12" fill="#707070" opacity="0.6" filter="url(#bl3)"/>
<path d="M1083.6,256.0C1083.4,253.6 1084.6,250.9 1086.6,249.3C1088.7,247.7 1091.9,246.8 1095.9,246.5C1099.8,246.2 1106.0,247.8 1110.5,247.7C1115.1,247.5 1119.3,246.3 1123.1,245.3C1126.9,244.4 1130.4,242.3 1133.6,241.9C1136.7,241.4 1140.0,241.4 1142.0,242.4C1143.9,243.4 1145.0,245.6 1145.3,247.9C1145.6,250.1 1145.0,253.3 1143.9,256.0C1142.7,258.7 1141.4,261.9 1138.6,263.9C1135.9,265.9 1132.0,267.2 1127.3,267.8C1122.6,268.5 1115.8,267.7 1110.5,267.8C1105.3,267.9 1099.7,269.1 1095.9,268.4C1092.1,267.8 1089.7,266.0 1087.7,263.9C1085.6,261.8 1083.8,258.4 1083.6,256.0Z" fill="#0d0d0d" opacity="0.55" filter="url(#bl2)"/>
<path d="M1163.7,251.5C1164.1,249.2 1165.3,245.5 1167.2,243.6C1169.2,241.7 1172.6,240.6 1175.4,240.3C1178.2,239.9 1181.0,240.4 1183.8,241.4C1186.6,242.5 1189.0,245.7 1192.2,246.5C1195.3,247.4 1199.2,246.2 1202.7,246.5C1206.1,246.8 1210.6,247.0 1213.1,248.3C1215.6,249.5 1217.2,251.8 1217.5,253.8C1217.8,255.9 1216.8,258.8 1215.0,260.6C1213.2,262.3 1210.6,263.6 1206.8,264.5C1203.0,265.4 1196.7,265.9 1192.2,266.2C1187.6,266.6 1183.4,267.4 1179.6,266.8C1175.8,266.3 1171.8,264.5 1169.3,262.9C1166.9,261.3 1165.7,259.2 1164.7,257.3C1163.8,255.4 1163.3,253.8 1163.7,251.5Z" fill="#0d0d0d" opacity="0.55" filter="url(#bl2)"/>
<path d="M1084.5,255.8C1084.4,253.7 1085.5,251.3 1087.5,249.9C1089.5,248.5 1092.6,247.7 1096.4,247.5C1100.3,247.3 1106.3,248.7 1110.7,248.5C1115.1,248.3 1119.2,247.3 1122.9,246.5C1126.6,245.6 1130.0,243.8 1133.1,243.4C1136.1,243.0 1139.3,243.0 1141.2,243.9C1143.1,244.8 1144.2,246.7 1144.5,248.7C1144.8,250.7 1144.1,253.5 1143.0,255.8C1142.0,258.2 1140.6,261.0 1138.0,262.8C1135.3,264.5 1131.5,265.6 1127.0,266.2C1122.4,266.8 1115.8,266.1 1110.7,266.2C1105.6,266.3 1100.1,267.3 1096.4,266.7C1092.8,266.1 1090.5,264.6 1088.5,262.8C1086.5,260.9 1084.7,258.0 1084.5,255.8Z" fill="#0d0d0d" opacity="1" filter="url(#bl1)"/>
<path d="M1164.4,251.8C1164.8,249.8 1166.0,246.5 1167.9,244.8C1169.8,243.2 1173.1,242.2 1175.8,241.9C1178.5,241.6 1181.2,242.0 1183.9,242.9C1186.6,243.8 1189.0,246.6 1192.1,247.4C1195.1,248.1 1198.9,247.1 1202.2,247.4C1205.6,247.6 1210.0,247.8 1212.4,248.9C1214.8,250.0 1216.4,252.0 1216.7,253.8C1217.0,255.6 1216.0,258.1 1214.3,259.7C1212.5,261.3 1210.0,262.3 1206.3,263.2C1202.6,264.0 1196.5,264.3 1192.1,264.7C1187.7,265.0 1183.6,265.7 1179.9,265.2C1176.2,264.7 1172.3,263.1 1169.9,261.7C1167.5,260.3 1166.3,258.5 1165.4,256.9C1164.5,255.2 1164.0,253.8 1164.4,251.8Z" fill="#0d0d0d" opacity="1" filter="url(#bl1)"/>
</g>
<rect x="1077.15" y="227.15" width="147.90" height="54.30" fill="none" stroke="#000" stroke-width="1.7" />
<text transform="translate(1550.90,51.40)" font-family='"Liberation Sans", sans-serif' font-size="14.6" font-weight="bold" text-anchor="middle" fill="#000" >Gray value analysis</text>
<rect x="1437.60" y="72.40" width="113.20" height="120.60" fill="#F3F3BC" stroke="none" stroke-width="0" />
<rect x="1550.80" y="72.40" width="113.60" height="120.60" fill="#0F0D0E" stroke="none" stroke-width="0" />
<rect x="1437.60" y="193.00" width="113.20" height="120.50" fill="#F0DEA6" stroke="none" stroke-width="0" />
<rect x="1550.80" y="193.00" width="113.60" height="120.50" fill="#3F2A63" stroke="none" stroke-width="0" />
<rect x="1438.35" y="73.15" width="225.30" height="239.60" fill="none" stroke="#000" stroke-width="1.5" />
<line x1="1433.10" y1="133.10" x2="1437.60" y2="133.10" stroke="#000" stroke-width="1.3" stroke-linecap="butt"/>
<line x1="1433.10" y1="253.20" x2="1437.60" y2="253.20" stroke="#000" stroke-width="1.3" stroke-linecap="butt"/>
<line x1="1494.30" y1="313.50" x2="1494.30" y2="318.30" stroke="#000" stroke-width="1.3" stroke-linecap="butt"/>
<line x1="1607.20" y1="313.50" x2="1607.20" y2="318.30" stroke="#000" stroke-width="1.3" stroke-linecap="butt"/>
<text transform="translate(1425.60,137.90)" font-family='"Liberation Sans", sans-serif' font-size="11.2" font-weight="bold" text-anchor="end" fill="#000" >HUCCT1</text>
<text transform="translate(1425.90,258.00)" font-family='"Liberation Sans", sans-serif' font-size="11.2" font-weight="bold" text-anchor="end" fill="#000" >RBE</text>
<text transform="translate(1494.30,339.00)" font-family='"Liberation Sans", sans-serif' font-size="11.2" font-weight="bold" text-anchor="middle" fill="#000" >Ctrl</text>
<text transform="translate(1607.20,339.00)" font-family='"Liberation Sans", sans-serif' font-size="11.2" font-weight="bold" text-anchor="middle" fill="#000" >si-ITGB4</text>
<rect x="1683.15" y="73.15" width="18.20" height="239.60" fill="url(#magma)" stroke="#000" stroke-width="1.5" />
<line x1="1682.40" y1="94.90" x2="1686.20" y2="94.90" stroke="#000" stroke-width="1.2" stroke-linecap="butt"/>
<line x1="1698.30" y1="94.90" x2="1702.10" y2="94.90" stroke="#000" stroke-width="1.2" stroke-linecap="butt"/>
<text transform="translate(1709.00,99.30)" font-family='"Liberation Sans", sans-serif' font-size="12.2" text-anchor="start" fill="#000" >1.0</text>
<line x1="1682.40" y1="166.70" x2="1686.20" y2="166.70" stroke="#000" stroke-width="1.2" stroke-linecap="butt"/>
<line x1="1698.30" y1="166.70" x2="1702.10" y2="166.70" stroke="#000" stroke-width="1.2" stroke-linecap="butt"/>
<text transform="translate(1709.00,171.10)" font-family='"Liberation Sans", sans-serif' font-size="12.2" text-anchor="start" fill="#000" >0.8</text>
<line x1="1682.40" y1="238.50" x2="1686.20" y2="238.50" stroke="#000" stroke-width="1.2" stroke-linecap="butt"/>
<line x1="1698.30" y1="238.50" x2="1702.10" y2="238.50" stroke="#000" stroke-width="1.2" stroke-linecap="butt"/>
<text transform="translate(1709.00,242.90)" font-family='"Liberation Sans", sans-serif' font-size="12.2" text-anchor="start" fill="#000" >0.6</text>
<line x1="1682.40" y1="310.20" x2="1686.20" y2="310.20" stroke="#000" stroke-width="1.2" stroke-linecap="butt"/>
<line x1="1698.30" y1="310.20" x2="1702.10" y2="310.20" stroke="#000" stroke-width="1.2" stroke-linecap="butt"/>
<text transform="translate(1709.00,314.60)" font-family='"Liberation Sans", sans-serif' font-size="12.2" text-anchor="start" fill="#000" >0.4</text>
<line x1="99.40" y1="575.60" x2="99.40" y2="797.00" stroke="#000" stroke-width="2.4" stroke-linecap="butt"/>
<line x1="90.60" y1="576.80" x2="99.40" y2="576.80" stroke="#000" stroke-width="2.4" stroke-linecap="butt"/>
<line x1="90.60" y1="620.60" x2="99.40" y2="620.60" stroke="#000" stroke-width="2.4" stroke-linecap="butt"/>
<line x1="90.60" y1="664.30" x2="99.40" y2="664.30" stroke="#000" stroke-width="2.4" stroke-linecap="butt"/>
<line x1="90.60" y1="708.10" x2="99.40" y2="708.10" stroke="#000" stroke-width="2.4" stroke-linecap="butt"/>
<line x1="90.60" y1="751.90" x2="99.40" y2="751.90" stroke="#000" stroke-width="2.4" stroke-linecap="butt"/>
<line x1="90.60" y1="795.80" x2="99.40" y2="795.80" stroke="#000" stroke-width="2.4" stroke-linecap="butt"/>
<line x1="90.60" y1="795.80" x2="418.00" y2="795.80" stroke="#000" stroke-width="2.4" stroke-linecap="butt"/>
<line x1="99.40" y1="795.80" x2="99.40" y2="804.80" stroke="#000" stroke-width="2.4" stroke-linecap="butt"/>
<line x1="204.90" y1="795.80" x2="204.90" y2="804.80" stroke="#000" stroke-width="2.4" stroke-linecap="butt"/>
<line x1="311.00" y1="795.80" x2="311.00" y2="804.80" stroke="#000" stroke-width="2.4" stroke-linecap="butt"/>
<line x1="416.80" y1="795.80" x2="416.80" y2="804.80" stroke="#000" stroke-width="2.4" stroke-linecap="butt"/>
<text transform="translate(87.60,582.50) scale(0.9600,1.0000)" font-family='"Liberation Sans", sans-serif' font-size="16.0" font-weight="bold" text-anchor="end" fill="#000" >100</text>
<text transform="translate(87.60,626.30) scale(0.9600,1.0000)" font-family='"Liberation Sans", sans-serif' font-size="16.0" font-weight="bold" text-anchor="end" fill="#000" >80</text>
<text transform="translate(87.60,670.00) scale(0.9600,1.0000)" font-family='"Liberation Sans", sans-serif' font-size="16.0" font-weight="bold" text-anchor="end" fill="#000" >60</text>
<text transform="translate(87.60,713.80) scale(0.9600,1.0000)" font-family='"Liberation Sans", sans-serif' font-size="16.0" font-weight="bold" text-anchor="end" fill="#000" >40</text>
<text transform="translate(87.60,757.60) scale(0.9600,1.0000)" font-family='"Liberation Sans", sans-serif' font-size="16.0" font-weight="bold" text-anchor="end" fill="#000" >20</text>
<text transform="translate(87.60,801.50) scale(0.9600,1.0000)" font-family='"Liberation Sans", sans-serif' font-size="16.0" font-weight="bold" text-anchor="end" fill="#000" >0</text>
<text transform="translate(99.40,823.30) scale(0.9600,1.0000)" font-family='"Liberation Sans", sans-serif' font-size="16.0" font-weight="bold" text-anchor="middle" fill="#000" >0</text>
<text transform="translate(204.90,823.30) scale(0.9600,1.0000)" font-family='"Liberation Sans", sans-serif' font-size="16.0" font-weight="bold" text-anchor="middle" fill="#000" >2</text>
<text transform="translate(311.00,823.30) scale(0.9600,1.0000)" font-family='"Liberation Sans", sans-serif' font-size="16.0" font-weight="bold" text-anchor="middle" fill="#000" >4</text>
<text transform="translate(416.80,823.30) scale(0.9600,1.0000)" font-family='"Liberation Sans", sans-serif' font-size="16.0" font-weight="bold" text-anchor="middle" fill="#000" >6</text>
<text transform="translate(257.20,546.80)" font-family='"Liberation Sans", sans-serif' font-size="20" font-weight="bold" text-anchor="middle" fill="#000" >HUCCT1</text>
<text transform="translate(50.40,685.40) rotate(-90)" font-family='"Liberation Sans", sans-serif' font-size="17.8" font-weight="bold" text-anchor="middle" fill="#000" >Cell viability (%)</text>
<text transform="translate(258.50,851.20)" font-family='"Liberation Sans", sans-serif' font-size="17.7" font-weight="bold" text-anchor="middle" fill="#000" >Log Gemcitabine concentration (nM)</text>
<path d="M99.40,576.60 C100.92,577.22 105.27,578.60 108.50,580.30 C111.73,582.00 114.92,584.13 118.80,586.80 C122.68,589.47 127.33,592.93 131.80,596.30 C136.27,599.67 142.22,604.35 145.60,607.00 C148.98,609.65 148.65,609.47 152.10,612.20 C155.55,614.93 161.05,619.30 166.30,623.40 C171.55,627.50 177.12,631.70 183.60,636.80 C190.08,641.90 197.30,648.05 205.20,654.00 C213.10,659.95 222.25,666.73 231.00,672.50 C239.75,678.27 248.87,683.77 257.70,688.60 C266.53,693.43 275.12,697.47 284.00,701.50 C292.88,705.53 302.17,709.38 311.00,712.80 C319.83,716.22 328.18,719.13 337.00,722.00 C345.82,724.87 355.07,727.67 363.90,730.00 C372.73,732.33 381.37,734.17 390.00,736.00 C398.63,737.83 411.42,740.17 415.70,741.00" fill="none" stroke="#2F48A2" stroke-width="1.5"/>
<circle cx="99.5" cy="584.7" r="4.2" fill="#2F48A2"/>
<circle cx="152.0" cy="611.9" r="4.2" fill="#2F48A2"/>
<circle cx="205.0" cy="662.3" r="4.2" fill="#2F48A2"/>
<circle cx="257.7" cy="683.3" r="4.2" fill="#2F48A2"/>
<circle cx="311.0" cy="710.3" r="4.2" fill="#2F48A2"/>
<circle cx="363.9" cy="726.9" r="4.2" fill="#2F48A2"/>
<circle cx="416.8" cy="747.6" r="4.2" fill="#2F48A2"/>
<text x="239.2" y="622.6" font-family='"Liberation Sans", sans-serif' font-size="18" fill="#000">IC50 = 2.3 <tspan font-family='"Liberation Serif", serif' font-size="17.5">μM</tspan></text>
<line x1="502.10" y1="578.10" x2="502.10" y2="797.00" stroke="#000" stroke-width="2.4" stroke-linecap="butt"/>
<line x1="493.30" y1="579.30" x2="502.10" y2="579.30" stroke="#000" stroke-width="2.4" stroke-linecap="butt"/>
<line x1="493.30" y1="622.50" x2="502.10" y2="622.50" stroke="#000" stroke-width="2.4" stroke-linecap="butt"/>
<line x1="493.30" y1="666.00" x2="502.10" y2="666.00" stroke="#000" stroke-width="2.4" stroke-linecap="butt"/>
<line x1="493.30" y1="709.30" x2="502.10" y2="709.30" stroke="#000" stroke-width="2.4" stroke-linecap="butt"/>
<line x1="493.30" y1="752.60" x2="502.10" y2="752.60" stroke="#000" stroke-width="2.4" stroke-linecap="butt"/>
<line x1="493.30" y1="795.80" x2="502.10" y2="795.80" stroke="#000" stroke-width="2.4" stroke-linecap="butt"/>
<line x1="493.30" y1="795.80" x2="820.70" y2="795.80" stroke="#000" stroke-width="2.4" stroke-linecap="butt"/>
<line x1="502.10" y1="795.80" x2="502.10" y2="804.80" stroke="#000" stroke-width="2.4" stroke-linecap="butt"/>
<line x1="607.70" y1="795.80" x2="607.70" y2="804.80" stroke="#000" stroke-width="2.4" stroke-linecap="butt"/>
<line x1="713.50" y1="795.80" x2="713.50" y2="804.80" stroke="#000" stroke-width="2.4" stroke-linecap="butt"/>
<line x1="819.40" y1="795.80" x2="819.40" y2="804.80" stroke="#000" stroke-width="2.4" stroke-linecap="butt"/>
<text transform="translate(490.20,585.00) scale(0.9600,1.0000)" font-family='"Liberation Sans", sans-serif' font-size="16.0" font-weight="bold" text-anchor="end" fill="#000" >100</text>
<text transform="translate(490.20,628.20) scale(0.9600,1.0000)" font-family='"Liberation Sans", sans-serif' font-size="16.0" font-weight="bold" text-anchor="end" fill="#000" >80</text>
<text transform="translate(490.20,671.70) scale(0.9600,1.0000)" font-family='"Liberation Sans", sans-serif' font-size="16.0" font-weight="bold" text-anchor="end" fill="#000" >60</text>
<text transform="translate(490.20,715.00) scale(0.9600,1.0000)" font-family='"Liberation Sans", sans-serif' font-size="16.0" font-weight="bold" text-anchor="end" fill="#000" >40</text>
<text transform="translate(490.20,758.30) scale(0.9600,1.0000)" font-family='"Liberation Sans", sans-serif' font-size="16.0" font-weight="bold" text-anchor="end" fill="#000" >20</text>
<text transform="translate(490.20,801.50) scale(0.9600,1.0000)" font-family='"Liberation Sans", sans-serif' font-size="16.0" font-weight="bold" text-anchor="end" fill="#000" >0</text>
<text transform="translate(502.10,823.30) scale(0.9600,1.0000)" font-family='"Liberation Sans", sans-serif' font-size="16.0" font-weight="bold" text-anchor="middle" fill="#000" >0</text>
<text transform="translate(607.70,823.30) scale(0.9600,1.0000)" font-family='"Liberation Sans", sans-serif' font-size="16.0" font-weight="bold" text-anchor="middle" fill="#000" >2</text>
<text transform="translate(713.50,823.30) scale(0.9600,1.0000)" font-family='"Liberation Sans", sans-serif' font-size="16.0" font-weight="bold" text-anchor="middle" fill="#000" >4</text>
<text transform="translate(819.40,823.30) scale(0.9600,1.0000)" font-family='"Liberation Sans", sans-serif' font-size="16.0" font-weight="bold" text-anchor="middle" fill="#000" >6</text>
<text transform="translate(650.50,546.80)" font-family='"Liberation Sans", sans-serif' font-size="20" font-weight="bold" text-anchor="middle" fill="#000" >RBE</text>
<text transform="translate(456.70,686.70) rotate(-90)" font-family='"Liberation Sans", sans-serif' font-size="17.8" font-weight="bold" text-anchor="middle" fill="#000" >Cell viability (%)</text>
<text transform="translate(661.00,851.20)" font-family='"Liberation Sans", sans-serif' font-size="17.7" font-weight="bold" text-anchor="middle" fill="#000" >Log Gemcitabine concentration (nM)</text>
<path d="M502.50,579.50 C507.68,579.93 524.85,580.80 533.60,582.10 C542.35,583.40 547.60,584.58 555.00,587.30 C562.40,590.02 569.18,592.60 578.00,598.40 C586.82,604.20 598.57,614.00 607.90,622.10 C617.23,630.20 625.18,638.62 634.00,647.00 C642.82,655.38 651.97,664.65 660.80,672.40 C669.63,680.15 678.20,687.05 687.00,693.50 C695.80,699.95 704.77,705.65 713.60,711.10 C722.43,716.55 731.13,721.52 740.00,726.20 C748.87,730.88 757.97,735.37 766.80,739.20 C775.63,743.03 784.38,746.20 793.00,749.20 C801.62,752.20 814.25,755.87 818.50,757.20" fill="none" stroke="#2F48A2" stroke-width="1.5"/>
<circle cx="502.1" cy="586.9" r="4.2" fill="#2F48A2"/>
<circle cx="555.0" cy="608.8" r="4.2" fill="#2F48A2"/>
<circle cx="607.9" cy="625.2" r="4.2" fill="#2F48A2"/>
<circle cx="660.8" cy="661.8" r="4.2" fill="#2F48A2"/>
<circle cx="713.6" cy="706.9" r="4.2" fill="#2F48A2"/>
<circle cx="766.8" cy="747.6" r="4.2" fill="#2F48A2"/>
<circle cx="819.4" cy="764.0" r="4.2" fill="#2F48A2"/>
<text x="641.9" y="624.5" font-family='"Liberation Sans", sans-serif' font-size="18" fill="#000">IC50 = 3.8 <tspan font-family='"Liberation Serif", serif' font-size="17.5">μM</tspan></text>
<line x1="1006.10" y1="574.40" x2="1006.10" y2="585.00" stroke="#000" stroke-width="1.5" stroke-linecap="butt"/>
<line x1="994.60" y1="574.40" x2="1017.60" y2="574.40" stroke="#000" stroke-width="1.5" stroke-linecap="butt"/>
<rect x="983.30" y="584.00" width="45.60" height="180.00" fill="#000" stroke="none" stroke-width="0" />
<rect x="987.50" y="588.20" width="37.20" height="175.80" fill="#D3D5D3" stroke="none" stroke-width="0" />
<line x1="1074.55" y1="680.90" x2="1074.55" y2="685.60" stroke="#000" stroke-width="1.5" stroke-linecap="butt"/>
<line x1="1063.05" y1="680.90" x2="1086.05" y2="680.90" stroke="#000" stroke-width="1.5" stroke-linecap="butt"/>
<rect x="1051.90" y="684.60" width="45.30" height="79.40" fill="#000" stroke="none" stroke-width="0" />
<rect x="1056.10" y="688.80" width="36.90" height="75.20" fill="#E9E3C7" stroke="none" stroke-width="0" />
<line x1="1143.00" y1="601.80" x2="1143.00" y2="615.30" stroke="#000" stroke-width="1.5" stroke-linecap="butt"/>
<line x1="1131.50" y1="601.80" x2="1154.50" y2="601.80" stroke="#000" stroke-width="1.5" stroke-linecap="butt"/>
<rect x="1120.20" y="614.30" width="45.60" height="149.70" fill="#000" stroke="none" stroke-width="0" />
<rect x="1124.40" y="618.50" width="37.20" height="145.50" fill="#F3DDDC" stroke="none" stroke-width="0" />
<line x1="1211.30" y1="717.20" x2="1211.30" y2="726.30" stroke="#000" stroke-width="1.5" stroke-linecap="butt"/>
<line x1="1199.80" y1="717.20" x2="1222.80" y2="717.20" stroke="#000" stroke-width="1.5" stroke-linecap="butt"/>
<rect x="1188.50" y="725.30" width="45.60" height="38.70" fill="#000" stroke="none" stroke-width="0" />
<rect x="1192.70" y="729.50" width="37.20" height="34.50" fill="#CFE2B9" stroke="none" stroke-width="0" />
<line x1="960.60" y1="491.60" x2="960.60" y2="765.60" stroke="#000" stroke-width="3.2" stroke-linecap="butt"/>
<line x1="948.30" y1="493.20" x2="960.60" y2="493.20" stroke="#000" stroke-width="3.2" stroke-linecap="butt"/>
<line x1="948.30" y1="584.00" x2="960.60" y2="584.00" stroke="#000" stroke-width="3.2" stroke-linecap="butt"/>
<line x1="948.30" y1="674.00" x2="960.60" y2="674.00" stroke="#000" stroke-width="3.2" stroke-linecap="butt"/>
<line x1="948.30" y1="764.00" x2="960.60" y2="764.00" stroke="#000" stroke-width="3.2" stroke-linecap="butt"/>
<line x1="948.30" y1="764.00" x2="1258.00" y2="764.00" stroke="#000" stroke-width="3.2" stroke-linecap="butt"/>
<line x1="1006.00" y1="764.00" x2="1006.00" y2="776.20" stroke="#000" stroke-width="3.2" stroke-linecap="butt"/>
<line x1="1074.10" y1="764.00" x2="1074.10" y2="776.20" stroke="#000" stroke-width="3.2" stroke-linecap="butt"/>
<line x1="1142.40" y1="764.00" x2="1142.40" y2="776.20" stroke="#000" stroke-width="3.2" stroke-linecap="butt"/>
<line x1="1210.70" y1="764.00" x2="1210.70" y2="776.20" stroke="#000" stroke-width="3.2" stroke-linecap="butt"/>
<text transform="translate(944.40,500.60) scale(1.0600,1.0000)" font-family='"Liberation Sans", sans-serif' font-size="20.6" font-weight="bold" text-anchor="end" fill="#000" >150</text>
<text transform="translate(944.40,591.40) scale(1.0600,1.0000)" font-family='"Liberation Sans", sans-serif' font-size="20.6" font-weight="bold" text-anchor="end" fill="#000" >100</text>
<text transform="translate(944.40,681.40) scale(1.0600,1.0000)" font-family='"Liberation Sans", sans-serif' font-size="20.6" font-weight="bold" text-anchor="end" fill="#000" >50</text>
<text transform="translate(944.40,771.40) scale(1.0600,1.0000)" font-family='"Liberation Sans", sans-serif' font-size="20.6" font-weight="bold" text-anchor="end" fill="#000" >0</text>
<text transform="translate(1107.80,457.40) scale(1.0835,1.0000)" font-family='"Liberation Sans", sans-serif' font-size="25.6" font-weight="bold" text-anchor="middle" fill="#000" >HUCCT1</text>
<text transform="translate(892.30,628.40) scale(1.0850,1) rotate(-90) scale(0.9940,1.0000)" font-family='"Liberation Sans", sans-serif' font-size="22.0" font-weight="bold" text-anchor="middle" fill="#000" >Cell viability (%)</text>
<text transform="translate(1074.50,670.90) scale(1.0850,1.0000)" font-family='"Liberation Sans", sans-serif' font-size="22.8" text-anchor="middle" fill="#000" >***</text>
<text transform="translate(1143.00,599.40) scale(1.0850,1.0000)" font-family='"Liberation Sans", sans-serif' font-size="22.8" text-anchor="middle" fill="#000" >**</text>
<text transform="translate(1211.00,715.30) scale(1.0850,1.0000)" font-family='"Liberation Sans", sans-serif' font-size="22.8" text-anchor="middle" fill="#000" >***</text>
<text transform="translate(1191.00,508.90) scale(1.0600,1.0000)" font-family='"Liberation Sans", sans-serif' font-size="22.6" text-anchor="middle" fill="#000" stroke="#000" stroke-width="0.5">###</text>
<line x1="1140.40" y1="513.00" x2="1237.80" y2="513.00" stroke="#4a4a4a" stroke-width="1.1" stroke-linecap="butt"/>
<text transform="translate(1151.20,549.60) scale(1.0600,1.0000)" font-family='"Liberation Sans", sans-serif' font-size="22.6" text-anchor="middle" fill="#000" stroke="#000" stroke-width="0.5">###</text>
<line x1="1077.00" y1="553.90" x2="1227.00" y2="553.90" stroke="#4a4a4a" stroke-width="1.1" stroke-linecap="butt"/>
<text transform="translate(1013.50,793.00) scale(1.0850,1) rotate(-45)" font-family='"Liberation Sans", sans-serif' font-size="21.0" font-weight="bold" text-anchor="end" fill="#000" >Control</text>
<text transform="translate(1081.60,793.00) scale(1.0850,1) rotate(-45)" font-family='"Liberation Sans", sans-serif' font-size="21.0" font-weight="bold" text-anchor="end" fill="#000" >Gemcitabine</text>
<text transform="translate(1149.90,793.00) scale(1.0850,1) rotate(-45)" font-family='"Liberation Sans", sans-serif' font-size="21.0" font-weight="bold" text-anchor="end" fill="#000" >si-ITGB4</text>
<text transform="translate(1218.20,793.00) scale(1.0850,1) rotate(-45)" font-family='"Liberation Sans", sans-serif' font-size="21.0" font-weight="bold" text-anchor="end" fill="#000" >si-ITGB4+Gemcitabine</text>
<line x1="1457.05" y1="573.80" x2="1457.05" y2="578.70" stroke="#000" stroke-width="1.5" stroke-linecap="butt"/>
<line x1="1445.55" y1="573.80" x2="1468.55" y2="573.80" stroke="#000" stroke-width="1.5" stroke-linecap="butt"/>
<rect x="1434.50" y="577.70" width="45.10" height="183.80" fill="#000" stroke="none" stroke-width="0" />
<rect x="1438.70" y="581.90" width="36.70" height="179.60" fill="#D3D5D3" stroke="none" stroke-width="0" />
<line x1="1525.35" y1="642.10" x2="1525.35" y2="647.30" stroke="#000" stroke-width="1.5" stroke-linecap="butt"/>
<line x1="1513.85" y1="642.10" x2="1536.85" y2="642.10" stroke="#000" stroke-width="1.5" stroke-linecap="butt"/>
<rect x="1502.80" y="646.30" width="45.10" height="115.20" fill="#000" stroke="none" stroke-width="0" />
<rect x="1507.00" y="650.50" width="36.70" height="111.00" fill="#E9E3C7" stroke="none" stroke-width="0" />
<line x1="1593.65" y1="594.70" x2="1593.65" y2="600.60" stroke="#000" stroke-width="1.5" stroke-linecap="butt"/>
<line x1="1582.15" y1="594.70" x2="1605.15" y2="594.70" stroke="#000" stroke-width="1.5" stroke-linecap="butt"/>
<rect x="1571.10" y="599.60" width="45.10" height="161.90" fill="#000" stroke="none" stroke-width="0" />
<rect x="1575.30" y="603.80" width="36.70" height="157.70" fill="#F3DDDC" stroke="none" stroke-width="0" />
<line x1="1662.00" y1="678.50" x2="1662.00" y2="685.10" stroke="#000" stroke-width="1.5" stroke-linecap="butt"/>
<line x1="1650.50" y1="678.50" x2="1673.50" y2="678.50" stroke="#000" stroke-width="1.5" stroke-linecap="butt"/>
<rect x="1639.60" y="684.10" width="44.80" height="77.40" fill="#000" stroke="none" stroke-width="0" />
<rect x="1643.80" y="688.30" width="36.40" height="73.20" fill="#CFE2B9" stroke="none" stroke-width="0" />
<line x1="1412.20" y1="484.90" x2="1412.20" y2="763.10" stroke="#000" stroke-width="3.2" stroke-linecap="butt"/>
<line x1="1399.40" y1="486.50" x2="1412.20" y2="486.50" stroke="#000" stroke-width="3.2" stroke-linecap="butt"/>
<line x1="1399.40" y1="578.50" x2="1412.20" y2="578.50" stroke="#000" stroke-width="3.2" stroke-linecap="butt"/>
<line x1="1399.40" y1="669.50" x2="1412.20" y2="669.50" stroke="#000" stroke-width="3.2" stroke-linecap="butt"/>
<line x1="1399.40" y1="761.50" x2="1412.20" y2="761.50" stroke="#000" stroke-width="3.2" stroke-linecap="butt"/>
<line x1="1399.40" y1="761.50" x2="1709.40" y2="761.50" stroke="#000" stroke-width="3.2" stroke-linecap="butt"/>
<line x1="1456.60" y1="761.50" x2="1456.60" y2="773.70" stroke="#000" stroke-width="3.2" stroke-linecap="butt"/>
<line x1="1524.90" y1="761.50" x2="1524.90" y2="773.70" stroke="#000" stroke-width="3.2" stroke-linecap="butt"/>
<line x1="1593.50" y1="761.50" x2="1593.50" y2="773.70" stroke="#000" stroke-width="3.2" stroke-linecap="butt"/>
<line x1="1661.80" y1="761.50" x2="1661.80" y2="773.70" stroke="#000" stroke-width="3.2" stroke-linecap="butt"/>
<text transform="translate(1395.20,493.90) scale(1.0600,1.0000)" font-family='"Liberation Sans", sans-serif' font-size="20.6" font-weight="bold" text-anchor="end" fill="#000" >150</text>
<text transform="translate(1395.20,585.90) scale(1.0600,1.0000)" font-family='"Liberation Sans", sans-serif' font-size="20.6" font-weight="bold" text-anchor="end" fill="#000" >100</text>
<text transform="translate(1395.20,676.90) scale(1.0600,1.0000)" font-family='"Liberation Sans", sans-serif' font-size="20.6" font-weight="bold" text-anchor="end" fill="#000" >50</text>
<text transform="translate(1395.20,768.90) scale(1.0600,1.0000)" font-family='"Liberation Sans", sans-serif' font-size="20.6" font-weight="bold" text-anchor="end" fill="#000" >0</text>
<text transform="translate(1542.00,454.80) scale(0.9817,1.0000)" font-family='"Liberation Sans", sans-serif' font-size="23.4" font-weight="bold" text-anchor="middle" fill="#000" >RBE</text>
<text transform="translate(1343.20,623.30) scale(1.0850,1) rotate(-90) scale(1.0112,1.0000)" font-family='"Liberation Sans", sans-serif' font-size="22.0" font-weight="bold" text-anchor="middle" fill="#000" >Cell viability (%)</text>
<text transform="translate(1525.80,638.50) scale(1.0850,1.0000)" font-family='"Liberation Sans", sans-serif' font-size="22.8" text-anchor="middle" fill="#000" >***</text>
<text transform="translate(1594.50,595.70) scale(1.0850,1.0000)" font-family='"Liberation Sans", sans-serif' font-size="22.8" text-anchor="middle" fill="#000" >***</text>
<text transform="translate(1662.40,675.60) scale(1.0850,1.0000)" font-family='"Liberation Sans", sans-serif' font-size="22.8" text-anchor="middle" fill="#000" >***</text>
<text transform="translate(1636.60,494.80) scale(1.0600,1.0000)" font-family='"Liberation Sans", sans-serif' font-size="22.6" text-anchor="middle" fill="#000" stroke="#000" stroke-width="0.5">###</text>
<line x1="1593.50" y1="499.90" x2="1673.40" y2="499.90" stroke="#4a4a4a" stroke-width="1.1" stroke-linecap="butt"/>
<text transform="translate(1596.40,540.70) scale(1.0600,1.0000)" font-family='"Liberation Sans", sans-serif' font-size="22.6" text-anchor="middle" fill="#000" stroke="#000" stroke-width="0.5">###</text>
<line x1="1530.30" y1="548.10" x2="1661.00" y2="548.10" stroke="#4a4a4a" stroke-width="1.1" stroke-linecap="butt"/>
<text transform="translate(1464.10,790.50) scale(1.0850,1) rotate(-45)" font-family='"Liberation Sans", sans-serif' font-size="21.0" font-weight="bold" text-anchor="end" fill="#000" >Control</text>
<text transform="translate(1532.40,790.50) scale(1.0850,1) rotate(-45)" font-family='"Liberation Sans", sans-serif' font-size="21.0" font-weight="bold" text-anchor="end" fill="#000" >Gemcitabine</text>
<text transform="translate(1601.00,790.50) scale(1.0850,1) rotate(-45)" font-family='"Liberation Sans", sans-serif' font-size="21.0" font-weight="bold" text-anchor="end" fill="#000" >si-ITGB4</text>
<text transform="translate(1669.30,790.50) scale(1.0850,1) rotate(-45)" font-family='"Liberation Sans", sans-serif' font-size="21.0" font-weight="bold" text-anchor="end" fill="#000" >si-ITGB4+Gemcitabine</text>
<line x1="1224.35" y1="1449.20" x2="1224.35" y2="1455.30" stroke="#000" stroke-width="1.8" stroke-linecap="butt"/>
<line x1="1208.55" y1="1449.20" x2="1240.15" y2="1449.20" stroke="#000" stroke-width="1.5" stroke-linecap="butt"/>
<rect x="1192.90" y="1454.30" width="62.90" height="29.40" fill="#000" stroke="none" stroke-width="0" />
<rect x="1198.70" y="1459.70" width="51.30" height="24.00" fill="#D3D5D3" stroke="none" stroke-width="0" />
<line x1="1319.65" y1="1258.60" x2="1319.65" y2="1274.80" stroke="#000" stroke-width="1.8" stroke-linecap="butt"/>
<line x1="1303.85" y1="1258.60" x2="1335.45" y2="1258.60" stroke="#000" stroke-width="1.5" stroke-linecap="butt"/>
<rect x="1287.90" y="1273.80" width="63.50" height="209.90" fill="#000" stroke="none" stroke-width="0" />
<rect x="1293.70" y="1279.20" width="51.90" height="204.50" fill="#E9E3C7" stroke="none" stroke-width="0" />
<line x1="1414.95" y1="1301.40" x2="1414.95" y2="1316.90" stroke="#000" stroke-width="1.8" stroke-linecap="butt"/>
<line x1="1399.15" y1="1301.40" x2="1430.75" y2="1301.40" stroke="#000" stroke-width="1.5" stroke-linecap="butt"/>
<rect x="1383.50" y="1315.90" width="62.90" height="167.80" fill="#000" stroke="none" stroke-width="0" />
<rect x="1389.30" y="1321.30" width="51.30" height="162.40" fill="#F3DDDC" stroke="none" stroke-width="0" />
<line x1="1510.10" y1="1225.80" x2="1510.10" y2="1238.20" stroke="#000" stroke-width="1.8" stroke-linecap="butt"/>
<line x1="1494.30" y1="1225.80" x2="1525.90" y2="1225.80" stroke="#000" stroke-width="1.5" stroke-linecap="butt"/>
<rect x="1478.50" y="1237.20" width="63.20" height="246.50" fill="#000" stroke="none" stroke-width="0" />
<rect x="1484.30" y="1242.60" width="51.60" height="241.10" fill="#CFE2B9" stroke="none" stroke-width="0" />
<line x1="1161.20" y1="1153.20" x2="1161.20" y2="1485.80" stroke="#000" stroke-width="4.4" stroke-linecap="butt"/>
<line x1="1143.60" y1="1155.30" x2="1161.20" y2="1155.30" stroke="#000" stroke-width="4.2" stroke-linecap="butt"/>
<line x1="1143.60" y1="1237.90" x2="1161.20" y2="1237.90" stroke="#000" stroke-width="4.2" stroke-linecap="butt"/>
<line x1="1143.60" y1="1319.70" x2="1161.20" y2="1319.70" stroke="#000" stroke-width="4.2" stroke-linecap="butt"/>
<line x1="1143.60" y1="1401.90" x2="1161.20" y2="1401.90" stroke="#000" stroke-width="4.2" stroke-linecap="butt"/>
<line x1="1143.60" y1="1483.70" x2="1161.20" y2="1483.70" stroke="#000" stroke-width="4.2" stroke-linecap="butt"/>
<line x1="1143.60" y1="1483.70" x2="1576.20" y2="1483.70" stroke="#000" stroke-width="4.2" stroke-linecap="butt"/>
<line x1="1223.30" y1="1483.70" x2="1223.30" y2="1498.20" stroke="#000" stroke-width="4.4" stroke-linecap="butt"/>
<line x1="1319.00" y1="1483.70" x2="1319.00" y2="1498.20" stroke="#000" stroke-width="4.4" stroke-linecap="butt"/>
<line x1="1413.90" y1="1483.70" x2="1413.90" y2="1498.20" stroke="#000" stroke-width="4.4" stroke-linecap="butt"/>
<line x1="1509.50" y1="1483.70" x2="1509.50" y2="1498.20" stroke="#000" stroke-width="4.4" stroke-linecap="butt"/>
<text transform="translate(1138.20,1163.80) scale(1.2200,1.0000)" font-family='"Liberation Sans", sans-serif' font-size="24.3" font-weight="bold" text-anchor="end" fill="#000" >40</text>
<text transform="translate(1138.20,1246.40) scale(1.2200,1.0000)" font-family='"Liberation Sans", sans-serif' font-size="24.3" font-weight="bold" text-anchor="end" fill="#000" >30</text>
<text transform="translate(1138.20,1328.20) scale(1.2200,1.0000)" font-family='"Liberation Sans", sans-serif' font-size="24.3" font-weight="bold" text-anchor="end" fill="#000" >20</text>
<text transform="translate(1138.20,1410.40) scale(1.2200,1.0000)" font-family='"Liberation Sans", sans-serif' font-size="24.3" font-weight="bold" text-anchor="end" fill="#000" >10</text>
<text transform="translate(1138.20,1492.20) scale(1.2200,1.0000)" font-family='"Liberation Sans", sans-serif' font-size="24.3" font-weight="bold" text-anchor="end" fill="#000" >0</text>
<text transform="translate(1312.80,1064.90) scale(1.2142,1.0000)" font-family='"Liberation Sans", sans-serif' font-size="26.5" font-weight="bold" text-anchor="start" fill="#000" >HUCCT1</text>
<text transform="translate(1081.60,1319.50) scale(1.2200,1) rotate(-90) scale(0.9989,1.0000)" font-family='"Liberation Sans", sans-serif' font-size="26.8" font-weight="bold" text-anchor="middle" fill="#000" >Apoptosis rate (%)</text>
<text transform="translate(1320.00,1256.70) scale(1.1700,1.0000)" font-family='"Liberation Sans", sans-serif' font-size="27.5" text-anchor="middle" fill="#000" >***</text>
<text transform="translate(1415.00,1299.90) scale(1.1700,1.0000)" font-family='"Liberation Sans", sans-serif' font-size="27.5" text-anchor="middle" fill="#000" >***</text>
<text transform="translate(1510.00,1225.60) scale(1.1700,1.0000)" font-family='"Liberation Sans", sans-serif' font-size="27.5" text-anchor="middle" fill="#000" >***</text>
<text transform="translate(1447.40,1122.50) scale(1.1816,1.0000)" font-family='"Liberation Sans", sans-serif' font-size="28" text-anchor="start" fill="#000" stroke="#000" stroke-width="0.5">###</text>
<line x1="1413.90" y1="1132.90" x2="1526.80" y2="1132.90" stroke="#4a4a4a" stroke-width="1.2" stroke-linecap="butt"/>
<text transform="translate(1395.60,1168.50) scale(1.1837,1.0000)" font-family='"Liberation Sans", sans-serif' font-size="28" text-anchor="start" fill="#000" stroke="#000" stroke-width="0.5">###</text>
<line x1="1317.20" y1="1180.90" x2="1512.30" y2="1180.90" stroke="#4a4a4a" stroke-width="1.2" stroke-linecap="butt"/>
<text transform="translate(1231.30,1521.20) scale(1.2450,1) rotate(-45)" font-family='"Liberation Sans", sans-serif' font-size="25.0" font-weight="bold" text-anchor="end" fill="#000" >Control</text>
<text transform="translate(1327.00,1521.20) scale(1.2450,1) rotate(-45)" font-family='"Liberation Sans", sans-serif' font-size="25.0" font-weight="bold" text-anchor="end" fill="#000" >Gemcitabine</text>
<text transform="translate(1421.90,1521.20) scale(1.2450,1) rotate(-45)" font-family='"Liberation Sans", sans-serif' font-size="25.0" font-weight="bold" text-anchor="end" fill="#000" >si-ITGB4</text>
<text transform="translate(1517.50,1521.20) scale(1.2450,1) rotate(-45)" font-family='"Liberation Sans", sans-serif' font-size="25.0" font-weight="bold" text-anchor="end" fill="#000" >si-ITGB4+Gemcitabine</text>
<line x1="1224.35" y1="2196.80" x2="1224.35" y2="2201.60" stroke="#000" stroke-width="1.8" stroke-linecap="butt"/>
<line x1="1208.55" y1="2196.80" x2="1240.15" y2="2196.80" stroke="#000" stroke-width="1.5" stroke-linecap="butt"/>
<rect x="1192.90" y="2200.60" width="62.90" height="18.30" fill="#000" stroke="none" stroke-width="0" />
<rect x="1198.70" y="2206.00" width="51.30" height="12.90" fill="#D3D5D3" stroke="none" stroke-width="0" />
<line x1="1319.65" y1="2071.80" x2="1319.65" y2="2079.00" stroke="#000" stroke-width="1.8" stroke-linecap="butt"/>
<line x1="1303.85" y1="2071.80" x2="1335.45" y2="2071.80" stroke="#000" stroke-width="1.5" stroke-linecap="butt"/>
<rect x="1287.90" y="2078.00" width="63.50" height="140.90" fill="#000" stroke="none" stroke-width="0" />
<rect x="1293.70" y="2083.40" width="51.90" height="135.50" fill="#E9E3C7" stroke="none" stroke-width="0" />
<line x1="1414.95" y1="2146.00" x2="1414.95" y2="2156.00" stroke="#000" stroke-width="1.8" stroke-linecap="butt"/>
<line x1="1399.15" y1="2146.00" x2="1430.75" y2="2146.00" stroke="#000" stroke-width="1.5" stroke-linecap="butt"/>
<rect x="1383.50" y="2155.00" width="62.90" height="63.90" fill="#000" stroke="none" stroke-width="0" />
<rect x="1389.30" y="2160.40" width="51.30" height="58.50" fill="#F3DDDC" stroke="none" stroke-width="0" />
<line x1="1510.10" y1="1927.50" x2="1510.10" y2="1932.30" stroke="#000" stroke-width="1.8" stroke-linecap="butt"/>
<line x1="1494.30" y1="1927.50" x2="1525.90" y2="1927.50" stroke="#000" stroke-width="1.5" stroke-linecap="butt"/>
<rect x="1478.50" y="1931.30" width="63.20" height="287.60" fill="#000" stroke="none" stroke-width="0" />
<rect x="1484.30" y="1936.70" width="51.60" height="282.20" fill="#CFE2B9" stroke="none" stroke-width="0" />
<line x1="1161.20" y1="1905.70" x2="1161.20" y2="2221.00" stroke="#000" stroke-width="4.4" stroke-linecap="butt"/>
<line x1="1143.60" y1="1907.80" x2="1161.20" y2="1907.80" stroke="#000" stroke-width="4.2" stroke-linecap="butt"/>
<line x1="1143.60" y1="2011.70" x2="1161.20" y2="2011.70" stroke="#000" stroke-width="4.2" stroke-linecap="butt"/>
<line x1="1143.60" y1="2115.30" x2="1161.20" y2="2115.30" stroke="#000" stroke-width="4.2" stroke-linecap="butt"/>
<line x1="1143.60" y1="2218.90" x2="1161.20" y2="2218.90" stroke="#000" stroke-width="4.2" stroke-linecap="butt"/>
<line x1="1143.60" y1="2218.90" x2="1576.20" y2="2218.90" stroke="#000" stroke-width="4.2" stroke-linecap="butt"/>
<line x1="1223.30" y1="2218.90" x2="1223.30" y2="2233.40" stroke="#000" stroke-width="4.4" stroke-linecap="butt"/>
<line x1="1319.00" y1="2218.90" x2="1319.00" y2="2233.40" stroke="#000" stroke-width="4.4" stroke-linecap="butt"/>
<line x1="1413.90" y1="2218.90" x2="1413.90" y2="2233.40" stroke="#000" stroke-width="4.4" stroke-linecap="butt"/>
<line x1="1509.50" y1="2218.90" x2="1509.50" y2="2233.40" stroke="#000" stroke-width="4.4" stroke-linecap="butt"/>
<text transform="translate(1138.20,1916.30) scale(1.2200,1.0000)" font-family='"Liberation Sans", sans-serif' font-size="24.3" font-weight="bold" text-anchor="end" fill="#000" >60</text>
<text transform="translate(1138.20,2020.20) scale(1.2200,1.0000)" font-family='"Liberation Sans", sans-serif' font-size="24.3" font-weight="bold" text-anchor="end" fill="#000" >40</text>
<text transform="translate(1138.20,2123.80) scale(1.2200,1.0000)" font-family='"Liberation Sans", sans-serif' font-size="24.3" font-weight="bold" text-anchor="end" fill="#000" >20</text>
<text transform="translate(1138.20,2227.40) scale(1.2200,1.0000)" font-family='"Liberation Sans", sans-serif' font-size="24.3" font-weight="bold" text-anchor="end" fill="#000" >0</text>
<text transform="translate(1323.10,1784.50) scale(1.2028,1.0000)" font-family='"Liberation Sans", sans-serif' font-size="26.5" font-weight="bold" text-anchor="start" fill="#000" >RBE</text>
<text transform="translate(1081.60,2062.80) scale(1.2200,1) rotate(-90) scale(0.9512,1.0000)" font-family='"Liberation Sans", sans-serif' font-size="26.8" font-weight="bold" text-anchor="middle" fill="#000" >Apoptosis rate (%)</text>
<text transform="translate(1320.00,2072.00) scale(1.1700,1.0000)" font-family='"Liberation Sans", sans-serif' font-size="27.5" text-anchor="middle" fill="#000" >***</text>
<text transform="translate(1415.00,2147.20) scale(1.1700,1.0000)" font-family='"Liberation Sans", sans-serif' font-size="27.5" text-anchor="middle" fill="#000" >**</text>
<text transform="translate(1510.00,1926.30) scale(1.1700,1.0000)" font-family='"Liberation Sans", sans-serif' font-size="27.5" text-anchor="middle" fill="#000" >***</text>
<text transform="translate(1435.30,1809.70) scale(1.1837,1.0000)" font-family='"Liberation Sans", sans-serif' font-size="28" text-anchor="start" fill="#000" stroke="#000" stroke-width="0.5">###</text>
<line x1="1410.50" y1="1813.50" x2="1516.50" y2="1813.50" stroke="#4a4a4a" stroke-width="1.2" stroke-linecap="butt"/>
<text transform="translate(1375.60,1856.00) scale(1.1816,1.0000)" font-family='"Liberation Sans", sans-serif' font-size="28" text-anchor="start" fill="#000" stroke="#000" stroke-width="0.5">###</text>
<line x1="1309.30" y1="1865.70" x2="1512.00" y2="1865.70" stroke="#4a4a4a" stroke-width="1.2" stroke-linecap="butt"/>
<text transform="translate(1231.30,2256.40) scale(1.2450,1) rotate(-45)" font-family='"Liberation Sans", sans-serif' font-size="25.0" font-weight="bold" text-anchor="end" fill="#000" >Control</text>
<text transform="translate(1327.00,2256.40) scale(1.2450,1) rotate(-45)" font-family='"Liberation Sans", sans-serif' font-size="25.0" font-weight="bold" text-anchor="end" fill="#000" >Gemcitabine</text>
<text transform="translate(1421.90,2256.40) scale(1.2450,1) rotate(-45)" font-family='"Liberation Sans", sans-serif' font-size="25.0" font-weight="bold" text-anchor="end" fill="#000" >si-ITGB4</text>
<text transform="translate(1517.50,2256.40) scale(1.2450,1) rotate(-45)" font-family='"Liberation Sans", sans-serif' font-size="25.0" font-weight="bold" text-anchor="end" fill="#000" >si-ITGB4+Gemcitabine</text>
<rect x="175.80" y="979.30" width="285.60" height="225.70" fill="#fff" stroke="#7d7d7d" stroke-width="1.4" />
<rect x="190.33" y="1205.70" width="1.80" height="3.80" fill="#000" stroke="none" stroke-width="0" />
<rect x="193.66" y="1205.70" width="1.80" height="3.80" fill="#000" stroke="none" stroke-width="0" />
<rect x="196.99" y="1205.70" width="1.80" height="3.80" fill="#000" stroke="none" stroke-width="0" />
<rect x="200.32" y="1205.70" width="1.80" height="3.80" fill="#000" stroke="none" stroke-width="0" />
<rect x="203.65" y="1205.70" width="1.80" height="6.20" fill="#000" stroke="none" stroke-width="0" />
<rect x="206.98" y="1205.70" width="1.80" height="3.80" fill="#000" stroke="none" stroke-width="0" />
<rect x="210.31" y="1205.70" width="1.80" height="3.80" fill="#000" stroke="none" stroke-width="0" />
<rect x="213.64" y="1205.70" width="1.80" height="3.80" fill="#000" stroke="none" stroke-width="0" />
<rect x="216.97" y="1205.70" width="1.80" height="3.80" fill="#000" stroke="none" stroke-width="0" />
<rect x="223.60" y="1205.70" width="1.80" height="3.80" fill="#000" stroke="none" stroke-width="0" />
<rect x="226.90" y="1205.70" width="1.80" height="3.80" fill="#000" stroke="none" stroke-width="0" />
<rect x="230.20" y="1205.70" width="1.80" height="3.80" fill="#000" stroke="none" stroke-width="0" />
<rect x="233.50" y="1205.70" width="1.80" height="3.80" fill="#000" stroke="none" stroke-width="0" />
<rect x="236.80" y="1205.70" width="1.80" height="6.20" fill="#000" stroke="none" stroke-width="0" />
<rect x="240.10" y="1205.70" width="1.80" height="3.80" fill="#000" stroke="none" stroke-width="0" />
<rect x="243.40" y="1205.70" width="1.80" height="3.80" fill="#000" stroke="none" stroke-width="0" />
<rect x="246.70" y="1205.70" width="1.80" height="3.80" fill="#000" stroke="none" stroke-width="0" />
<rect x="250.00" y="1205.70" width="1.80" height="3.80" fill="#000" stroke="none" stroke-width="0" />
<rect x="270.10" y="1205.70" width="1.80" height="3.80" fill="#000" stroke="none" stroke-width="0" />
<rect x="279.92" y="1205.70" width="1.80" height="3.80" fill="#000" stroke="none" stroke-width="0" />
<rect x="286.89" y="1205.70" width="1.80" height="3.80" fill="#000" stroke="none" stroke-width="0" />
<rect x="292.30" y="1205.70" width="1.80" height="6.20" fill="#000" stroke="none" stroke-width="0" />
<rect x="296.72" y="1205.70" width="1.80" height="3.80" fill="#000" stroke="none" stroke-width="0" />
<rect x="300.46" y="1205.70" width="1.80" height="3.80" fill="#000" stroke="none" stroke-width="0" />
<rect x="303.69" y="1205.70" width="1.80" height="3.80" fill="#000" stroke="none" stroke-width="0" />
<rect x="306.55" y="1205.70" width="1.80" height="3.80" fill="#000" stroke="none" stroke-width="0" />
<rect x="323.46" y="1205.70" width="1.80" height="3.80" fill="#000" stroke="none" stroke-width="0" />
<rect x="331.86" y="1205.70" width="1.80" height="3.80" fill="#000" stroke="none" stroke-width="0" />
<rect x="337.82" y="1205.70" width="1.80" height="3.80" fill="#000" stroke="none" stroke-width="0" />
<rect x="342.44" y="1205.70" width="1.80" height="6.20" fill="#000" stroke="none" stroke-width="0" />
<rect x="346.22" y="1205.70" width="1.80" height="3.80" fill="#000" stroke="none" stroke-width="0" />
<rect x="349.41" y="1205.70" width="1.80" height="3.80" fill="#000" stroke="none" stroke-width="0" />
<rect x="352.18" y="1205.70" width="1.80" height="3.80" fill="#000" stroke="none" stroke-width="0" />
<rect x="354.62" y="1205.70" width="1.80" height="3.80" fill="#000" stroke="none" stroke-width="0" />
<rect x="370.56" y="1205.70" width="1.80" height="3.80" fill="#000" stroke="none" stroke-width="0" />
<rect x="378.60" y="1205.70" width="1.80" height="3.80" fill="#000" stroke="none" stroke-width="0" />
<rect x="384.31" y="1205.70" width="1.80" height="3.80" fill="#000" stroke="none" stroke-width="0" />
<rect x="388.74" y="1205.70" width="1.80" height="6.20" fill="#000" stroke="none" stroke-width="0" />
<rect x="392.36" y="1205.70" width="1.80" height="3.80" fill="#000" stroke="none" stroke-width="0" />
<rect x="395.42" y="1205.70" width="1.80" height="3.80" fill="#000" stroke="none" stroke-width="0" />
<rect x="398.07" y="1205.70" width="1.80" height="3.80" fill="#000" stroke="none" stroke-width="0" />
<rect x="400.41" y="1205.70" width="1.80" height="3.80" fill="#000" stroke="none" stroke-width="0" />
<rect x="416.32" y="1205.70" width="1.80" height="3.80" fill="#000" stroke="none" stroke-width="0" />
<rect x="424.40" y="1205.70" width="1.80" height="3.80" fill="#000" stroke="none" stroke-width="0" />
<rect x="430.13" y="1205.70" width="1.80" height="3.80" fill="#000" stroke="none" stroke-width="0" />
<rect x="434.58" y="1205.70" width="1.80" height="6.20" fill="#000" stroke="none" stroke-width="0" />
<rect x="438.22" y="1205.70" width="1.80" height="3.80" fill="#000" stroke="none" stroke-width="0" />
<rect x="441.29" y="1205.70" width="1.80" height="3.80" fill="#000" stroke="none" stroke-width="0" />
<rect x="443.95" y="1205.70" width="1.80" height="3.80" fill="#000" stroke="none" stroke-width="0" />
<rect x="446.30" y="1205.70" width="1.80" height="3.80" fill="#000" stroke="none" stroke-width="0" />
<rect x="186.30" y="1205.70" width="3.20" height="9.20" fill="#000" stroke="none" stroke-width="0" />
<rect x="216.20" y="1205.70" width="10.00" height="9.20" fill="#000" stroke="none" stroke-width="0" />
<rect x="252.60" y="1205.70" width="3.20" height="9.20" fill="#000" stroke="none" stroke-width="0" />
<rect x="308.40" y="1205.70" width="3.20" height="9.20" fill="#000" stroke="none" stroke-width="0" />
<rect x="356.10" y="1205.70" width="3.20" height="9.20" fill="#000" stroke="none" stroke-width="0" />
<rect x="401.80" y="1205.70" width="3.20" height="9.20" fill="#000" stroke="none" stroke-width="0" />
<rect x="447.70" y="1205.70" width="3.20" height="9.20" fill="#000" stroke="none" stroke-width="0" />
<rect x="170.70" y="1191.39" width="4.40" height="1.50" fill="#000" stroke="none" stroke-width="0" />
<rect x="170.70" y="1188.63" width="4.40" height="1.50" fill="#000" stroke="none" stroke-width="0" />
<rect x="170.70" y="1185.87" width="4.40" height="1.50" fill="#000" stroke="none" stroke-width="0" />
<rect x="170.70" y="1183.11" width="4.40" height="1.50" fill="#000" stroke="none" stroke-width="0" />
<rect x="167.50" y="1180.35" width="7.60" height="1.50" fill="#000" stroke="none" stroke-width="0" />
<rect x="170.70" y="1177.59" width="4.40" height="1.50" fill="#000" stroke="none" stroke-width="0" />
<rect x="170.70" y="1174.83" width="4.40" height="1.50" fill="#000" stroke="none" stroke-width="0" />
<rect x="170.70" y="1172.07" width="4.40" height="1.50" fill="#000" stroke="none" stroke-width="0" />
<rect x="170.70" y="1169.31" width="4.40" height="1.50" fill="#000" stroke="none" stroke-width="0" />
<rect x="170.70" y="1164.11" width="4.40" height="1.50" fill="#000" stroke="none" stroke-width="0" />
<rect x="170.70" y="1161.67" width="4.40" height="1.50" fill="#000" stroke="none" stroke-width="0" />
<rect x="170.70" y="1159.23" width="4.40" height="1.50" fill="#000" stroke="none" stroke-width="0" />
<rect x="170.70" y="1156.79" width="4.40" height="1.50" fill="#000" stroke="none" stroke-width="0" />
<rect x="167.50" y="1154.35" width="7.60" height="1.50" fill="#000" stroke="none" stroke-width="0" />
<rect x="170.70" y="1151.91" width="4.40" height="1.50" fill="#000" stroke="none" stroke-width="0" />
<rect x="170.70" y="1149.47" width="4.40" height="1.50" fill="#000" stroke="none" stroke-width="0" />
<rect x="170.70" y="1147.03" width="4.40" height="1.50" fill="#000" stroke="none" stroke-width="0" />
<rect x="170.70" y="1144.59" width="4.40" height="1.50" fill="#000" stroke="none" stroke-width="0" />
<rect x="170.70" y="1128.57" width="4.40" height="1.50" fill="#000" stroke="none" stroke-width="0" />
<rect x="170.70" y="1120.63" width="4.40" height="1.50" fill="#000" stroke="none" stroke-width="0" />
<rect x="170.70" y="1115.00" width="4.40" height="1.50" fill="#000" stroke="none" stroke-width="0" />
<rect x="167.50" y="1110.63" width="7.60" height="1.50" fill="#000" stroke="none" stroke-width="0" />
<rect x="170.70" y="1107.06" width="4.40" height="1.50" fill="#000" stroke="none" stroke-width="0" />
<rect x="170.70" y="1104.04" width="4.40" height="1.50" fill="#000" stroke="none" stroke-width="0" />
<rect x="170.70" y="1101.42" width="4.40" height="1.50" fill="#000" stroke="none" stroke-width="0" />
<rect x="170.70" y="1099.11" width="4.40" height="1.50" fill="#000" stroke="none" stroke-width="0" />
<rect x="170.70" y="1085.85" width="4.40" height="1.50" fill="#000" stroke="none" stroke-width="0" />
<rect x="170.70" y="1079.30" width="4.40" height="1.50" fill="#000" stroke="none" stroke-width="0" />
<rect x="170.70" y="1074.65" width="4.40" height="1.50" fill="#000" stroke="none" stroke-width="0" />
<rect x="167.50" y="1071.05" width="7.60" height="1.50" fill="#000" stroke="none" stroke-width="0" />
<rect x="170.70" y="1068.10" width="4.40" height="1.50" fill="#000" stroke="none" stroke-width="0" />
<rect x="170.70" y="1065.61" width="4.40" height="1.50" fill="#000" stroke="none" stroke-width="0" />
<rect x="170.70" y="1063.46" width="4.40" height="1.50" fill="#000" stroke="none" stroke-width="0" />
<rect x="170.70" y="1061.55" width="4.40" height="1.50" fill="#000" stroke="none" stroke-width="0" />
<rect x="170.70" y="1049.10" width="4.40" height="1.50" fill="#000" stroke="none" stroke-width="0" />
<rect x="170.70" y="1042.82" width="4.40" height="1.50" fill="#000" stroke="none" stroke-width="0" />
<rect x="170.70" y="1038.36" width="4.40" height="1.50" fill="#000" stroke="none" stroke-width="0" />
<rect x="167.50" y="1034.90" width="7.60" height="1.50" fill="#000" stroke="none" stroke-width="0" />
<rect x="170.70" y="1032.07" width="4.40" height="1.50" fill="#000" stroke="none" stroke-width="0" />
<rect x="170.70" y="1029.68" width="4.40" height="1.50" fill="#000" stroke="none" stroke-width="0" />
<rect x="170.70" y="1027.61" width="4.40" height="1.50" fill="#000" stroke="none" stroke-width="0" />
<rect x="170.70" y="1025.78" width="4.40" height="1.50" fill="#000" stroke="none" stroke-width="0" />
<rect x="170.70" y="1012.92" width="4.40" height="1.50" fill="#000" stroke="none" stroke-width="0" />
<rect x="170.70" y="1006.35" width="4.40" height="1.50" fill="#000" stroke="none" stroke-width="0" />
<rect x="170.70" y="1001.69" width="4.40" height="1.50" fill="#000" stroke="none" stroke-width="0" />
<rect x="167.50" y="998.08" width="7.60" height="1.50" fill="#000" stroke="none" stroke-width="0" />
<rect x="170.70" y="995.12" width="4.40" height="1.50" fill="#000" stroke="none" stroke-width="0" />
<rect x="170.70" y="992.63" width="4.40" height="1.50" fill="#000" stroke="none" stroke-width="0" />
<rect x="170.70" y="990.46" width="4.40" height="1.50" fill="#000" stroke="none" stroke-width="0" />
<rect x="170.70" y="988.56" width="4.40" height="1.50" fill="#000" stroke="none" stroke-width="0" />
<rect x="163.90" y="1193.50" width="11.20" height="2.80" fill="#000" stroke="none" stroke-width="0" />
<rect x="163.90" y="1163.30" width="11.20" height="8.00" fill="#000" stroke="none" stroke-width="0" />
<rect x="163.90" y="1141.50" width="11.20" height="2.80" fill="#000" stroke="none" stroke-width="0" />
<rect x="163.90" y="1096.40" width="11.20" height="2.80" fill="#000" stroke="none" stroke-width="0" />
<rect x="163.90" y="1059.20" width="11.20" height="2.80" fill="#000" stroke="none" stroke-width="0" />
<rect x="163.90" y="1023.50" width="11.20" height="2.80" fill="#000" stroke="none" stroke-width="0" />
<rect x="163.90" y="986.20" width="11.20" height="2.80" fill="#000" stroke="none" stroke-width="0" />
<g filter="url(#cmap)">
<rect x="219.9" y="1040.9" width="133.8" height="138.7" fill="#000"/>
<g clip-path="url(#ol1)">
<rect x="219.9" y="1040.9" width="133.8" height="138.7" fill="#383838"/>
<ellipse cx="0" cy="0" rx="1" ry="1" transform="translate(274.55,1137.10) rotate(-39) scale(59.45,21.25)" fill="url(#pg2)" style="mix-blend-mode:lighten"/>
<ellipse cx="0" cy="0" rx="1" ry="1" transform="translate(289.23,1088.33) rotate(0) scale(20.76,29.43)" fill="url(#pg3)" style="mix-blend-mode:lighten"/>
<ellipse cx="0" cy="0" rx="1" ry="1" transform="translate(306.49,1070.21) rotate(0) scale(20.76,11.99)" fill="url(#pg4)" style="mix-blend-mode:lighten"/>
<ellipse cx="0" cy="0" rx="1" ry="1" transform="translate(322.89,1074.52) rotate(0) scale(13.81,17.26)" fill="url(#pg5)" style="mix-blend-mode:lighten"/>
<ellipse cx="0" cy="0" rx="1" ry="1" transform="translate(271.97,1140.55) rotate(-37) scale(19.33,9.18)" fill="url(#pg6)" style="mix-blend-mode:lighten"/>
</g></g>
<line x1="316.30" y1="979.30" x2="316.30" y2="1205.00" stroke="#111" stroke-width="1.5" stroke-linecap="butt"/>
<line x1="175.80" y1="1097.80" x2="461.40" y2="1097.80" stroke="#111" stroke-width="1.5" stroke-linecap="butt"/>
<text transform="translate(181.60,997.70) scale(1.2000,1.0000)" font-family='"Liberation Sans", sans-serif' font-size="9.9" text-anchor="start" fill="#111" stroke="#111" stroke-width="0.2">Q1</text>
<text transform="translate(181.60,1011.30) scale(1.2000,1.0000)" font-family='"Liberation Sans", sans-serif' font-size="9.9" text-anchor="start" fill="#111" stroke="#111" stroke-width="0.2">13.7</text>
<text transform="translate(436.40,997.70) scale(1.2000,1.0000)" font-family='"Liberation Sans", sans-serif' font-size="9.9" text-anchor="end" fill="#111" stroke="#111" stroke-width="0.2">Q2</text>
<text transform="translate(436.40,1011.30) scale(1.2000,1.0000)" font-family='"Liberation Sans", sans-serif' font-size="9.9" text-anchor="end" fill="#111" stroke="#111" stroke-width="0.2">3.45</text>
<text transform="translate(436.40,1178.20) scale(1.2000,1.0000)" font-family='"Liberation Sans", sans-serif' font-size="9.9" text-anchor="end" fill="#111" stroke="#111" stroke-width="0.2">Q3</text>
<text transform="translate(436.40,1192.60) scale(1.2000,1.0000)" font-family='"Liberation Sans", sans-serif' font-size="9.9" text-anchor="end" fill="#111" stroke="#111" stroke-width="0.2">0.67</text>
<text transform="translate(181.60,1178.20) scale(1.2000,1.0000)" font-family='"Liberation Sans", sans-serif' font-size="9.9" text-anchor="start" fill="#111" stroke="#111" stroke-width="0.2">Q4</text>
<text transform="translate(181.60,1192.60) scale(1.2000,1.0000)" font-family='"Liberation Sans", sans-serif' font-size="9.9" text-anchor="start" fill="#111" stroke="#111" stroke-width="0.2">82.1</text>
<text transform="translate(130.90,999.20) scale(1.2800,1.0000)" font-family='"Liberation Sans", sans-serif' font-size="11.4" text-anchor="start" fill="#000" stroke="#000" stroke-width="0.25">10</text>
<text transform="translate(146.23,991.22) scale(1.2800,1.0000)" font-family='"Liberation Sans", sans-serif' font-size="11.058" text-anchor="start" fill="#000" stroke="#000" stroke-width="0.25">7</text>
<text transform="translate(130.90,1031.90) scale(1.2800,1.0000)" font-family='"Liberation Sans", sans-serif' font-size="11.4" text-anchor="start" fill="#000" stroke="#000" stroke-width="0.25">10</text>
<text transform="translate(146.23,1023.92) scale(1.2800,1.0000)" font-family='"Liberation Sans", sans-serif' font-size="11.058" text-anchor="start" fill="#000" stroke="#000" stroke-width="0.25">6</text>
<text transform="translate(130.90,1067.60) scale(1.2800,1.0000)" font-family='"Liberation Sans", sans-serif' font-size="11.4" text-anchor="start" fill="#000" stroke="#000" stroke-width="0.25">10</text>
<text transform="translate(146.23,1059.62) scale(1.2800,1.0000)" font-family='"Liberation Sans", sans-serif' font-size="11.058" text-anchor="start" fill="#000" stroke="#000" stroke-width="0.25">5</text>
<text transform="translate(130.90,1104.80) scale(1.2800,1.0000)" font-family='"Liberation Sans", sans-serif' font-size="11.4" text-anchor="start" fill="#000" stroke="#000" stroke-width="0.25">10</text>
<text transform="translate(146.23,1096.82) scale(1.2800,1.0000)" font-family='"Liberation Sans", sans-serif' font-size="11.058" text-anchor="start" fill="#000" stroke="#000" stroke-width="0.25">4</text>
<text transform="translate(138.50,1170.90) scale(1.2800,1.0000)" font-family='"Liberation Sans", sans-serif' font-size="11.4" text-anchor="start" fill="#000" stroke="#000" stroke-width="0.25">0</text>
<text transform="translate(230.40,1234.40) scale(1.2800,1.0000)" font-family='"Liberation Sans", sans-serif' font-size="11.4" text-anchor="middle" fill="#000" stroke="#000" stroke-width="0.25">0</text>
<text transform="translate(310.90,1234.40) scale(1.2800,1.0000)" font-family='"Liberation Sans", sans-serif' font-size="11.4" text-anchor="start" fill="#000" stroke="#000" stroke-width="0.25">10</text>
<text transform="translate(328.03,1227.10) scale(1.2800,1.0000)" font-family='"Liberation Sans", sans-serif' font-size="11.058" text-anchor="start" fill="#000" stroke="#000" stroke-width="0.25">4</text>
<text transform="translate(403.90,1234.40) scale(1.2800,1.0000)" font-family='"Liberation Sans", sans-serif' font-size="11.4" text-anchor="start" fill="#000" stroke="#000" stroke-width="0.25">10</text>
<text transform="translate(421.03,1227.10) scale(1.2800,1.0000)" font-family='"Liberation Sans", sans-serif' font-size="11.058" text-anchor="start" fill="#000" stroke="#000" stroke-width="0.25">6</text>
<text transform="translate(223.50,1273.30) scale(1.3033,1.0000)" font-family='"Liberation Sans", sans-serif' font-size="14.3" text-anchor="start" fill="#000" stroke="#000" stroke-width="0.25">Comp-FL1-A :: FITC-A</text>
<text transform="translate(84.20,1092.30) scale(1.3000,1) rotate(-90) scale(1.0002,1.0000)" font-family='"Liberation Sans", sans-serif' font-size="14.7" text-anchor="middle" fill="#000" >Comp-FL2-A :: PE-A</text>
<text transform="translate(279.00,966.10) scale(1.2127,1.0000)" font-family='"Liberation Sans", sans-serif' font-size="20.6" font-weight="bold" text-anchor="start" fill="#000" >Control</text>
<rect x="598.50" y="982.10" width="290.00" height="227.00" fill="#fff" stroke="#7d7d7d" stroke-width="1.4" />
<rect x="612.60" y="1209.80" width="1.80" height="3.80" fill="#000" stroke="none" stroke-width="0" />
<rect x="616.10" y="1209.80" width="1.80" height="3.80" fill="#000" stroke="none" stroke-width="0" />
<rect x="619.60" y="1209.80" width="1.80" height="3.80" fill="#000" stroke="none" stroke-width="0" />
<rect x="623.10" y="1209.80" width="1.80" height="3.80" fill="#000" stroke="none" stroke-width="0" />
<rect x="626.60" y="1209.80" width="1.80" height="6.20" fill="#000" stroke="none" stroke-width="0" />
<rect x="630.10" y="1209.80" width="1.80" height="3.80" fill="#000" stroke="none" stroke-width="0" />
<rect x="633.60" y="1209.80" width="1.80" height="3.80" fill="#000" stroke="none" stroke-width="0" />
<rect x="637.10" y="1209.80" width="1.80" height="3.80" fill="#000" stroke="none" stroke-width="0" />
<rect x="640.60" y="1209.80" width="1.80" height="3.80" fill="#000" stroke="none" stroke-width="0" />
<rect x="647.44" y="1209.80" width="1.80" height="3.80" fill="#000" stroke="none" stroke-width="0" />
<rect x="650.78" y="1209.80" width="1.80" height="3.80" fill="#000" stroke="none" stroke-width="0" />
<rect x="654.12" y="1209.80" width="1.80" height="3.80" fill="#000" stroke="none" stroke-width="0" />
<rect x="657.46" y="1209.80" width="1.80" height="3.80" fill="#000" stroke="none" stroke-width="0" />
<rect x="660.80" y="1209.80" width="1.80" height="6.20" fill="#000" stroke="none" stroke-width="0" />
<rect x="664.14" y="1209.80" width="1.80" height="3.80" fill="#000" stroke="none" stroke-width="0" />
<rect x="667.48" y="1209.80" width="1.80" height="3.80" fill="#000" stroke="none" stroke-width="0" />
<rect x="670.82" y="1209.80" width="1.80" height="3.80" fill="#000" stroke="none" stroke-width="0" />
<rect x="674.16" y="1209.80" width="1.80" height="3.80" fill="#000" stroke="none" stroke-width="0" />
<rect x="694.78" y="1209.80" width="1.80" height="3.80" fill="#000" stroke="none" stroke-width="0" />
<rect x="704.89" y="1209.80" width="1.80" height="3.80" fill="#000" stroke="none" stroke-width="0" />
<rect x="712.06" y="1209.80" width="1.80" height="3.80" fill="#000" stroke="none" stroke-width="0" />
<rect x="717.62" y="1209.80" width="1.80" height="6.20" fill="#000" stroke="none" stroke-width="0" />
<rect x="722.17" y="1209.80" width="1.80" height="3.80" fill="#000" stroke="none" stroke-width="0" />
<rect x="726.01" y="1209.80" width="1.80" height="3.80" fill="#000" stroke="none" stroke-width="0" />
<rect x="729.34" y="1209.80" width="1.80" height="3.80" fill="#000" stroke="none" stroke-width="0" />
<rect x="732.27" y="1209.80" width="1.80" height="3.80" fill="#000" stroke="none" stroke-width="0" />
<rect x="749.26" y="1209.80" width="1.80" height="3.80" fill="#000" stroke="none" stroke-width="0" />
<rect x="757.66" y="1209.80" width="1.80" height="3.80" fill="#000" stroke="none" stroke-width="0" />
<rect x="763.62" y="1209.80" width="1.80" height="3.80" fill="#000" stroke="none" stroke-width="0" />
<rect x="768.24" y="1209.80" width="1.80" height="6.20" fill="#000" stroke="none" stroke-width="0" />
<rect x="772.02" y="1209.80" width="1.80" height="3.80" fill="#000" stroke="none" stroke-width="0" />
<rect x="775.21" y="1209.80" width="1.80" height="3.80" fill="#000" stroke="none" stroke-width="0" />
<rect x="777.98" y="1209.80" width="1.80" height="3.80" fill="#000" stroke="none" stroke-width="0" />
<rect x="780.42" y="1209.80" width="1.80" height="3.80" fill="#000" stroke="none" stroke-width="0" />
<rect x="797.02" y="1209.80" width="1.80" height="3.80" fill="#000" stroke="none" stroke-width="0" />
<rect x="805.45" y="1209.80" width="1.80" height="3.80" fill="#000" stroke="none" stroke-width="0" />
<rect x="811.44" y="1209.80" width="1.80" height="3.80" fill="#000" stroke="none" stroke-width="0" />
<rect x="816.08" y="1209.80" width="1.80" height="6.20" fill="#000" stroke="none" stroke-width="0" />
<rect x="819.87" y="1209.80" width="1.80" height="3.80" fill="#000" stroke="none" stroke-width="0" />
<rect x="823.08" y="1209.80" width="1.80" height="3.80" fill="#000" stroke="none" stroke-width="0" />
<rect x="825.86" y="1209.80" width="1.80" height="3.80" fill="#000" stroke="none" stroke-width="0" />
<rect x="828.31" y="1209.80" width="1.80" height="3.80" fill="#000" stroke="none" stroke-width="0" />
<rect x="844.32" y="1209.80" width="1.80" height="3.80" fill="#000" stroke="none" stroke-width="0" />
<rect x="852.40" y="1209.80" width="1.80" height="3.80" fill="#000" stroke="none" stroke-width="0" />
<rect x="858.13" y="1209.80" width="1.80" height="3.80" fill="#000" stroke="none" stroke-width="0" />
<rect x="862.58" y="1209.80" width="1.80" height="6.20" fill="#000" stroke="none" stroke-width="0" />
<rect x="866.22" y="1209.80" width="1.80" height="3.80" fill="#000" stroke="none" stroke-width="0" />
<rect x="869.29" y="1209.80" width="1.80" height="3.80" fill="#000" stroke="none" stroke-width="0" />
<rect x="871.95" y="1209.80" width="1.80" height="3.80" fill="#000" stroke="none" stroke-width="0" />
<rect x="874.30" y="1209.80" width="1.80" height="3.80" fill="#000" stroke="none" stroke-width="0" />
<rect x="608.40" y="1209.80" width="3.20" height="9.20" fill="#000" stroke="none" stroke-width="0" />
<rect x="640.00" y="1209.80" width="10.00" height="9.20" fill="#000" stroke="none" stroke-width="0" />
<rect x="676.80" y="1209.80" width="3.20" height="9.20" fill="#000" stroke="none" stroke-width="0" />
<rect x="734.20" y="1209.80" width="3.20" height="9.20" fill="#000" stroke="none" stroke-width="0" />
<rect x="781.90" y="1209.80" width="3.20" height="9.20" fill="#000" stroke="none" stroke-width="0" />
<rect x="829.80" y="1209.80" width="3.20" height="9.20" fill="#000" stroke="none" stroke-width="0" />
<rect x="875.70" y="1209.80" width="3.20" height="9.20" fill="#000" stroke="none" stroke-width="0" />
<rect x="593.40" y="1195.29" width="4.40" height="1.50" fill="#000" stroke="none" stroke-width="0" />
<rect x="593.40" y="1192.63" width="4.40" height="1.50" fill="#000" stroke="none" stroke-width="0" />
<rect x="593.40" y="1189.97" width="4.40" height="1.50" fill="#000" stroke="none" stroke-width="0" />
<rect x="593.40" y="1187.31" width="4.40" height="1.50" fill="#000" stroke="none" stroke-width="0" />
<rect x="590.20" y="1184.65" width="7.60" height="1.50" fill="#000" stroke="none" stroke-width="0" />
<rect x="593.40" y="1181.99" width="4.40" height="1.50" fill="#000" stroke="none" stroke-width="0" />
<rect x="593.40" y="1179.33" width="4.40" height="1.50" fill="#000" stroke="none" stroke-width="0" />
<rect x="593.40" y="1176.67" width="4.40" height="1.50" fill="#000" stroke="none" stroke-width="0" />
<rect x="593.40" y="1174.01" width="4.40" height="1.50" fill="#000" stroke="none" stroke-width="0" />
<rect x="593.40" y="1168.65" width="4.40" height="1.50" fill="#000" stroke="none" stroke-width="0" />
<rect x="593.40" y="1165.95" width="4.40" height="1.50" fill="#000" stroke="none" stroke-width="0" />
<rect x="593.40" y="1163.25" width="4.40" height="1.50" fill="#000" stroke="none" stroke-width="0" />
<rect x="593.40" y="1160.55" width="4.40" height="1.50" fill="#000" stroke="none" stroke-width="0" />
<rect x="590.20" y="1157.85" width="7.60" height="1.50" fill="#000" stroke="none" stroke-width="0" />
<rect x="593.40" y="1155.15" width="4.40" height="1.50" fill="#000" stroke="none" stroke-width="0" />
<rect x="593.40" y="1152.45" width="4.40" height="1.50" fill="#000" stroke="none" stroke-width="0" />
<rect x="593.40" y="1149.75" width="4.40" height="1.50" fill="#000" stroke="none" stroke-width="0" />
<rect x="593.40" y="1147.05" width="4.40" height="1.50" fill="#000" stroke="none" stroke-width="0" />
<rect x="593.40" y="1131.07" width="4.40" height="1.50" fill="#000" stroke="none" stroke-width="0" />
<rect x="593.40" y="1123.31" width="4.40" height="1.50" fill="#000" stroke="none" stroke-width="0" />
<rect x="593.40" y="1117.80" width="4.40" height="1.50" fill="#000" stroke="none" stroke-width="0" />
<rect x="590.20" y="1113.53" width="7.60" height="1.50" fill="#000" stroke="none" stroke-width="0" />
<rect x="593.40" y="1110.03" width="4.40" height="1.50" fill="#000" stroke="none" stroke-width="0" />
<rect x="593.40" y="1107.08" width="4.40" height="1.50" fill="#000" stroke="none" stroke-width="0" />
<rect x="593.40" y="1104.52" width="4.40" height="1.50" fill="#000" stroke="none" stroke-width="0" />
<rect x="593.40" y="1102.27" width="4.40" height="1.50" fill="#000" stroke="none" stroke-width="0" />
<rect x="593.40" y="1088.87" width="4.40" height="1.50" fill="#000" stroke="none" stroke-width="0" />
<rect x="593.40" y="1082.21" width="4.40" height="1.50" fill="#000" stroke="none" stroke-width="0" />
<rect x="593.40" y="1077.49" width="4.40" height="1.50" fill="#000" stroke="none" stroke-width="0" />
<rect x="590.20" y="1073.83" width="7.60" height="1.50" fill="#000" stroke="none" stroke-width="0" />
<rect x="593.40" y="1070.84" width="4.40" height="1.50" fill="#000" stroke="none" stroke-width="0" />
<rect x="593.40" y="1068.31" width="4.40" height="1.50" fill="#000" stroke="none" stroke-width="0" />
<rect x="593.40" y="1066.11" width="4.40" height="1.50" fill="#000" stroke="none" stroke-width="0" />
<rect x="593.40" y="1064.18" width="4.40" height="1.50" fill="#000" stroke="none" stroke-width="0" />
<rect x="593.40" y="1051.49" width="4.40" height="1.50" fill="#000" stroke="none" stroke-width="0" />
<rect x="593.40" y="1045.08" width="4.40" height="1.50" fill="#000" stroke="none" stroke-width="0" />
<rect x="593.40" y="1040.54" width="4.40" height="1.50" fill="#000" stroke="none" stroke-width="0" />
<rect x="590.20" y="1037.01" width="7.60" height="1.50" fill="#000" stroke="none" stroke-width="0" />
<rect x="593.40" y="1034.13" width="4.40" height="1.50" fill="#000" stroke="none" stroke-width="0" />
<rect x="593.40" y="1031.69" width="4.40" height="1.50" fill="#000" stroke="none" stroke-width="0" />
<rect x="593.40" y="1029.58" width="4.40" height="1.50" fill="#000" stroke="none" stroke-width="0" />
<rect x="593.40" y="1027.72" width="4.40" height="1.50" fill="#000" stroke="none" stroke-width="0" />
<rect x="593.40" y="1015.18" width="4.40" height="1.50" fill="#000" stroke="none" stroke-width="0" />
<rect x="593.40" y="1008.83" width="4.40" height="1.50" fill="#000" stroke="none" stroke-width="0" />
<rect x="593.40" y="1004.32" width="4.40" height="1.50" fill="#000" stroke="none" stroke-width="0" />
<rect x="590.20" y="1000.82" width="7.60" height="1.50" fill="#000" stroke="none" stroke-width="0" />
<rect x="593.40" y="997.96" width="4.40" height="1.50" fill="#000" stroke="none" stroke-width="0" />
<rect x="593.40" y="995.54" width="4.40" height="1.50" fill="#000" stroke="none" stroke-width="0" />
<rect x="593.40" y="993.45" width="4.40" height="1.50" fill="#000" stroke="none" stroke-width="0" />
<rect x="593.40" y="991.60" width="4.40" height="1.50" fill="#000" stroke="none" stroke-width="0" />
<rect x="586.60" y="1197.30" width="11.20" height="2.80" fill="#000" stroke="none" stroke-width="0" />
<rect x="586.60" y="1168.10" width="11.20" height="8.00" fill="#000" stroke="none" stroke-width="0" />
<rect x="586.60" y="1143.70" width="11.20" height="2.80" fill="#000" stroke="none" stroke-width="0" />
<rect x="586.60" y="1099.60" width="11.20" height="2.80" fill="#000" stroke="none" stroke-width="0" />
<rect x="586.60" y="1061.80" width="11.20" height="2.80" fill="#000" stroke="none" stroke-width="0" />
<rect x="586.60" y="1025.40" width="11.20" height="2.80" fill="#000" stroke="none" stroke-width="0" />
<rect x="586.60" y="989.30" width="11.20" height="2.80" fill="#000" stroke="none" stroke-width="0" />
<g filter="url(#cmap)">
<rect x="662.4" y="1049.3" width="127.5" height="122.9" fill="#000"/>
<g clip-path="url(#ol7)">
<rect x="662.4" y="1049.3" width="127.5" height="122.9" fill="#383838"/>
<ellipse cx="0" cy="0" rx="1" ry="1" transform="translate(716.97,1129.15) rotate(-41) scale(43.66,16.37)" fill="url(#pg8)" style="mix-blend-mode:lighten"/>
<ellipse cx="0" cy="0" rx="1" ry="1" transform="translate(741.13,1082.98) rotate(0) scale(36.06,21.83)" fill="url(#pg9)" style="mix-blend-mode:lighten"/>
<ellipse cx="0" cy="0" rx="1" ry="1" transform="translate(735.95,1103.69) rotate(-40) scale(16.37,13.06)" fill="url(#pg10)" style="mix-blend-mode:lighten"/>
<ellipse cx="0" cy="0" rx="1" ry="1" transform="translate(750.63,1131.31) rotate(-40) scale(17.26,12.95)" fill="url(#pg11)" style="mix-blend-mode:lighten"/>
<ellipse cx="0" cy="0" rx="1" ry="1" transform="translate(717.83,1127.86) rotate(-41) scale(17.88,6.96)" fill="url(#pg12)" style="mix-blend-mode:lighten"/>
</g></g>
<line x1="740.50" y1="982.10" x2="740.50" y2="1209.10" stroke="#111" stroke-width="1.5" stroke-linecap="butt"/>
<line x1="598.50" y1="1101.00" x2="888.50" y2="1101.00" stroke="#111" stroke-width="1.5" stroke-linecap="butt"/>
<text transform="translate(604.30,1000.50) scale(1.2000,1.0000)" font-family='"Liberation Sans", sans-serif' font-size="9.9" text-anchor="start" fill="#111" stroke="#111" stroke-width="0.2">Q1</text>
<text transform="translate(604.30,1014.10) scale(1.2000,1.0000)" font-family='"Liberation Sans", sans-serif' font-size="9.9" text-anchor="start" fill="#111" stroke="#111" stroke-width="0.2">16.5</text>
<text transform="translate(863.50,1000.50) scale(1.2000,1.0000)" font-family='"Liberation Sans", sans-serif' font-size="9.9" text-anchor="end" fill="#111" stroke="#111" stroke-width="0.2">Q2</text>
<text transform="translate(863.50,1014.10) scale(1.2000,1.0000)" font-family='"Liberation Sans", sans-serif' font-size="9.9" text-anchor="end" fill="#111" stroke="#111" stroke-width="0.2">18.4</text>
<text transform="translate(863.50,1182.30) scale(1.2000,1.0000)" font-family='"Liberation Sans", sans-serif' font-size="9.9" text-anchor="end" fill="#111" stroke="#111" stroke-width="0.2">Q3</text>
<text transform="translate(863.50,1196.70) scale(1.2000,1.0000)" font-family='"Liberation Sans", sans-serif' font-size="9.9" text-anchor="end" fill="#111" stroke="#111" stroke-width="0.2">6.19</text>
<text transform="translate(604.30,1182.30) scale(1.2000,1.0000)" font-family='"Liberation Sans", sans-serif' font-size="9.9" text-anchor="start" fill="#111" stroke="#111" stroke-width="0.2">Q4</text>
<text transform="translate(604.30,1196.70) scale(1.2000,1.0000)" font-family='"Liberation Sans", sans-serif' font-size="9.9" text-anchor="start" fill="#111" stroke="#111" stroke-width="0.2">58.9</text>
<text transform="translate(553.50,1002.30) scale(1.2800,1.0000)" font-family='"Liberation Sans", sans-serif' font-size="11.4" text-anchor="start" fill="#000" stroke="#000" stroke-width="0.25">10</text>
<text transform="translate(568.83,994.32) scale(1.2800,1.0000)" font-family='"Liberation Sans", sans-serif' font-size="11.058" text-anchor="start" fill="#000" stroke="#000" stroke-width="0.25">7</text>
<text transform="translate(553.50,1033.80) scale(1.2800,1.0000)" font-family='"Liberation Sans", sans-serif' font-size="11.4" text-anchor="start" fill="#000" stroke="#000" stroke-width="0.25">10</text>
<text transform="translate(568.83,1025.82) scale(1.2800,1.0000)" font-family='"Liberation Sans", sans-serif' font-size="11.058" text-anchor="start" fill="#000" stroke="#000" stroke-width="0.25">6</text>
<text transform="translate(553.50,1070.20) scale(1.2800,1.0000)" font-family='"Liberation Sans", sans-serif' font-size="11.4" text-anchor="start" fill="#000" stroke="#000" stroke-width="0.25">10</text>
<text transform="translate(568.83,1062.22) scale(1.2800,1.0000)" font-family='"Liberation Sans", sans-serif' font-size="11.058" text-anchor="start" fill="#000" stroke="#000" stroke-width="0.25">5</text>
<text transform="translate(553.50,1108.00) scale(1.2800,1.0000)" font-family='"Liberation Sans", sans-serif' font-size="11.4" text-anchor="start" fill="#000" stroke="#000" stroke-width="0.25">10</text>
<text transform="translate(568.83,1100.02) scale(1.2800,1.0000)" font-family='"Liberation Sans", sans-serif' font-size="11.058" text-anchor="start" fill="#000" stroke="#000" stroke-width="0.25">4</text>
<text transform="translate(561.10,1175.70) scale(1.2800,1.0000)" font-family='"Liberation Sans", sans-serif' font-size="11.4" text-anchor="start" fill="#000" stroke="#000" stroke-width="0.25">0</text>
<text transform="translate(653.00,1237.80) scale(1.2800,1.0000)" font-family='"Liberation Sans", sans-serif' font-size="11.4" text-anchor="middle" fill="#000" stroke="#000" stroke-width="0.25">0</text>
<text transform="translate(736.70,1237.80) scale(1.2800,1.0000)" font-family='"Liberation Sans", sans-serif' font-size="11.4" text-anchor="start" fill="#000" stroke="#000" stroke-width="0.25">10</text>
<text transform="translate(753.83,1230.50) scale(1.2800,1.0000)" font-family='"Liberation Sans", sans-serif' font-size="11.058" text-anchor="start" fill="#000" stroke="#000" stroke-width="0.25">4</text>
<text transform="translate(831.40,1237.80) scale(1.2800,1.0000)" font-family='"Liberation Sans", sans-serif' font-size="11.4" text-anchor="start" fill="#000" stroke="#000" stroke-width="0.25">10</text>
<text transform="translate(848.53,1230.50) scale(1.2800,1.0000)" font-family='"Liberation Sans", sans-serif' font-size="11.058" text-anchor="start" fill="#000" stroke="#000" stroke-width="0.25">6</text>
<text transform="translate(647.30,1276.80) scale(1.3082,1.0000)" font-family='"Liberation Sans", sans-serif' font-size="14.3" text-anchor="start" fill="#000" stroke="#000" stroke-width="0.25">Comp-FL1-A :: FITC-A</text>
<text transform="translate(506.60,1095.00) scale(1.3000,1) rotate(-90) scale(1.0002,1.0000)" font-family='"Liberation Sans", sans-serif' font-size="14.7" text-anchor="middle" fill="#000" >Comp-FL2-A :: PE-A</text>
<text transform="translate(665.10,966.10) scale(1.1825,1.0000)" font-family='"Liberation Sans", sans-serif' font-size="20.6" font-weight="bold" text-anchor="start" fill="#000" >Gemcitabine</text>
<rect x="174.00" y="1316.60" width="292.70" height="231.40" fill="#fff" stroke="#7d7d7d" stroke-width="1.4" />
<rect x="188.37" y="1548.70" width="1.80" height="3.80" fill="#000" stroke="none" stroke-width="0" />
<rect x="191.84" y="1548.70" width="1.80" height="3.80" fill="#000" stroke="none" stroke-width="0" />
<rect x="195.31" y="1548.70" width="1.80" height="3.80" fill="#000" stroke="none" stroke-width="0" />
<rect x="198.78" y="1548.70" width="1.80" height="3.80" fill="#000" stroke="none" stroke-width="0" />
<rect x="202.25" y="1548.70" width="1.80" height="6.20" fill="#000" stroke="none" stroke-width="0" />
<rect x="205.72" y="1548.70" width="1.80" height="3.80" fill="#000" stroke="none" stroke-width="0" />
<rect x="209.19" y="1548.70" width="1.80" height="3.80" fill="#000" stroke="none" stroke-width="0" />
<rect x="212.66" y="1548.70" width="1.80" height="3.80" fill="#000" stroke="none" stroke-width="0" />
<rect x="216.13" y="1548.70" width="1.80" height="3.80" fill="#000" stroke="none" stroke-width="0" />
<rect x="223.15" y="1548.70" width="1.80" height="3.80" fill="#000" stroke="none" stroke-width="0" />
<rect x="226.70" y="1548.70" width="1.80" height="3.80" fill="#000" stroke="none" stroke-width="0" />
<rect x="230.25" y="1548.70" width="1.80" height="3.80" fill="#000" stroke="none" stroke-width="0" />
<rect x="233.80" y="1548.70" width="1.80" height="3.80" fill="#000" stroke="none" stroke-width="0" />
<rect x="237.35" y="1548.70" width="1.80" height="6.20" fill="#000" stroke="none" stroke-width="0" />
<rect x="240.90" y="1548.70" width="1.80" height="3.80" fill="#000" stroke="none" stroke-width="0" />
<rect x="244.45" y="1548.70" width="1.80" height="3.80" fill="#000" stroke="none" stroke-width="0" />
<rect x="248.00" y="1548.70" width="1.80" height="3.80" fill="#000" stroke="none" stroke-width="0" />
<rect x="251.55" y="1548.70" width="1.80" height="3.80" fill="#000" stroke="none" stroke-width="0" />
<rect x="272.02" y="1548.70" width="1.80" height="3.80" fill="#000" stroke="none" stroke-width="0" />
<rect x="281.91" y="1548.70" width="1.80" height="3.80" fill="#000" stroke="none" stroke-width="0" />
<rect x="288.94" y="1548.70" width="1.80" height="3.80" fill="#000" stroke="none" stroke-width="0" />
<rect x="294.38" y="1548.70" width="1.80" height="6.20" fill="#000" stroke="none" stroke-width="0" />
<rect x="298.83" y="1548.70" width="1.80" height="3.80" fill="#000" stroke="none" stroke-width="0" />
<rect x="302.59" y="1548.70" width="1.80" height="3.80" fill="#000" stroke="none" stroke-width="0" />
<rect x="305.85" y="1548.70" width="1.80" height="3.80" fill="#000" stroke="none" stroke-width="0" />
<rect x="308.73" y="1548.70" width="1.80" height="3.80" fill="#000" stroke="none" stroke-width="0" />
<rect x="325.99" y="1548.70" width="1.80" height="3.80" fill="#000" stroke="none" stroke-width="0" />
<rect x="334.58" y="1548.70" width="1.80" height="3.80" fill="#000" stroke="none" stroke-width="0" />
<rect x="340.68" y="1548.70" width="1.80" height="3.80" fill="#000" stroke="none" stroke-width="0" />
<rect x="345.41" y="1548.70" width="1.80" height="6.20" fill="#000" stroke="none" stroke-width="0" />
<rect x="349.27" y="1548.70" width="1.80" height="3.80" fill="#000" stroke="none" stroke-width="0" />
<rect x="352.54" y="1548.70" width="1.80" height="3.80" fill="#000" stroke="none" stroke-width="0" />
<rect x="355.37" y="1548.70" width="1.80" height="3.80" fill="#000" stroke="none" stroke-width="0" />
<rect x="357.87" y="1548.70" width="1.80" height="3.80" fill="#000" stroke="none" stroke-width="0" />
<rect x="373.92" y="1548.70" width="1.80" height="3.80" fill="#000" stroke="none" stroke-width="0" />
<rect x="382.00" y="1548.70" width="1.80" height="3.80" fill="#000" stroke="none" stroke-width="0" />
<rect x="387.73" y="1548.70" width="1.80" height="3.80" fill="#000" stroke="none" stroke-width="0" />
<rect x="392.18" y="1548.70" width="1.80" height="6.20" fill="#000" stroke="none" stroke-width="0" />
<rect x="395.82" y="1548.70" width="1.80" height="3.80" fill="#000" stroke="none" stroke-width="0" />
<rect x="398.89" y="1548.70" width="1.80" height="3.80" fill="#000" stroke="none" stroke-width="0" />
<rect x="401.55" y="1548.70" width="1.80" height="3.80" fill="#000" stroke="none" stroke-width="0" />
<rect x="403.90" y="1548.70" width="1.80" height="3.80" fill="#000" stroke="none" stroke-width="0" />
<rect x="420.42" y="1548.70" width="1.80" height="3.80" fill="#000" stroke="none" stroke-width="0" />
<rect x="428.85" y="1548.70" width="1.80" height="3.80" fill="#000" stroke="none" stroke-width="0" />
<rect x="434.84" y="1548.70" width="1.80" height="3.80" fill="#000" stroke="none" stroke-width="0" />
<rect x="439.48" y="1548.70" width="1.80" height="6.20" fill="#000" stroke="none" stroke-width="0" />
<rect x="443.27" y="1548.70" width="1.80" height="3.80" fill="#000" stroke="none" stroke-width="0" />
<rect x="446.48" y="1548.70" width="1.80" height="3.80" fill="#000" stroke="none" stroke-width="0" />
<rect x="449.26" y="1548.70" width="1.80" height="3.80" fill="#000" stroke="none" stroke-width="0" />
<rect x="451.71" y="1548.70" width="1.80" height="3.80" fill="#000" stroke="none" stroke-width="0" />
<rect x="184.20" y="1548.70" width="3.20" height="9.20" fill="#000" stroke="none" stroke-width="0" />
<rect x="215.50" y="1548.70" width="10.00" height="9.20" fill="#000" stroke="none" stroke-width="0" />
<rect x="254.40" y="1548.70" width="3.20" height="9.20" fill="#000" stroke="none" stroke-width="0" />
<rect x="310.60" y="1548.70" width="3.20" height="9.20" fill="#000" stroke="none" stroke-width="0" />
<rect x="359.40" y="1548.70" width="3.20" height="9.20" fill="#000" stroke="none" stroke-width="0" />
<rect x="405.30" y="1548.70" width="3.20" height="9.20" fill="#000" stroke="none" stroke-width="0" />
<rect x="453.20" y="1548.70" width="3.20" height="9.20" fill="#000" stroke="none" stroke-width="0" />
<rect x="168.90" y="1534.23" width="4.40" height="1.50" fill="#000" stroke="none" stroke-width="0" />
<rect x="168.90" y="1531.51" width="4.40" height="1.50" fill="#000" stroke="none" stroke-width="0" />
<rect x="168.90" y="1528.79" width="4.40" height="1.50" fill="#000" stroke="none" stroke-width="0" />
<rect x="168.90" y="1526.07" width="4.40" height="1.50" fill="#000" stroke="none" stroke-width="0" />
<rect x="165.70" y="1523.35" width="7.60" height="1.50" fill="#000" stroke="none" stroke-width="0" />
<rect x="168.90" y="1520.63" width="4.40" height="1.50" fill="#000" stroke="none" stroke-width="0" />
<rect x="168.90" y="1517.91" width="4.40" height="1.50" fill="#000" stroke="none" stroke-width="0" />
<rect x="168.90" y="1515.19" width="4.40" height="1.50" fill="#000" stroke="none" stroke-width="0" />
<rect x="168.90" y="1512.47" width="4.40" height="1.50" fill="#000" stroke="none" stroke-width="0" />
<rect x="168.90" y="1507.00" width="4.40" height="1.50" fill="#000" stroke="none" stroke-width="0" />
<rect x="168.90" y="1504.25" width="4.40" height="1.50" fill="#000" stroke="none" stroke-width="0" />
<rect x="168.90" y="1501.50" width="4.40" height="1.50" fill="#000" stroke="none" stroke-width="0" />
<rect x="168.90" y="1498.75" width="4.40" height="1.50" fill="#000" stroke="none" stroke-width="0" />
<rect x="165.70" y="1496.00" width="7.60" height="1.50" fill="#000" stroke="none" stroke-width="0" />
<rect x="168.90" y="1493.25" width="4.40" height="1.50" fill="#000" stroke="none" stroke-width="0" />
<rect x="168.90" y="1490.50" width="4.40" height="1.50" fill="#000" stroke="none" stroke-width="0" />
<rect x="168.90" y="1487.75" width="4.40" height="1.50" fill="#000" stroke="none" stroke-width="0" />
<rect x="168.90" y="1485.00" width="4.40" height="1.50" fill="#000" stroke="none" stroke-width="0" />
<rect x="168.90" y="1468.52" width="4.40" height="1.50" fill="#000" stroke="none" stroke-width="0" />
<rect x="168.90" y="1460.49" width="4.40" height="1.50" fill="#000" stroke="none" stroke-width="0" />
<rect x="168.90" y="1454.80" width="4.40" height="1.50" fill="#000" stroke="none" stroke-width="0" />
<rect x="165.70" y="1450.38" width="7.60" height="1.50" fill="#000" stroke="none" stroke-width="0" />
<rect x="168.90" y="1446.77" width="4.40" height="1.50" fill="#000" stroke="none" stroke-width="0" />
<rect x="168.90" y="1443.71" width="4.40" height="1.50" fill="#000" stroke="none" stroke-width="0" />
<rect x="168.90" y="1441.07" width="4.40" height="1.50" fill="#000" stroke="none" stroke-width="0" />
<rect x="168.90" y="1438.74" width="4.40" height="1.50" fill="#000" stroke="none" stroke-width="0" />
<rect x="168.90" y="1425.24" width="4.40" height="1.50" fill="#000" stroke="none" stroke-width="0" />
<rect x="168.90" y="1418.57" width="4.40" height="1.50" fill="#000" stroke="none" stroke-width="0" />
<rect x="168.90" y="1413.83" width="4.40" height="1.50" fill="#000" stroke="none" stroke-width="0" />
<rect x="165.70" y="1410.16" width="7.60" height="1.50" fill="#000" stroke="none" stroke-width="0" />
<rect x="168.90" y="1407.16" width="4.40" height="1.50" fill="#000" stroke="none" stroke-width="0" />
<rect x="168.90" y="1404.62" width="4.40" height="1.50" fill="#000" stroke="none" stroke-width="0" />
<rect x="168.90" y="1402.42" width="4.40" height="1.50" fill="#000" stroke="none" stroke-width="0" />
<rect x="168.90" y="1400.48" width="4.40" height="1.50" fill="#000" stroke="none" stroke-width="0" />
<rect x="168.90" y="1387.61" width="4.40" height="1.50" fill="#000" stroke="none" stroke-width="0" />
<rect x="168.90" y="1381.10" width="4.40" height="1.50" fill="#000" stroke="none" stroke-width="0" />
<rect x="168.90" y="1376.47" width="4.40" height="1.50" fill="#000" stroke="none" stroke-width="0" />
<rect x="165.70" y="1372.89" width="7.60" height="1.50" fill="#000" stroke="none" stroke-width="0" />
<rect x="168.90" y="1369.96" width="4.40" height="1.50" fill="#000" stroke="none" stroke-width="0" />
<rect x="168.90" y="1367.48" width="4.40" height="1.50" fill="#000" stroke="none" stroke-width="0" />
<rect x="168.90" y="1365.34" width="4.40" height="1.50" fill="#000" stroke="none" stroke-width="0" />
<rect x="168.90" y="1363.44" width="4.40" height="1.50" fill="#000" stroke="none" stroke-width="0" />
<rect x="168.90" y="1350.43" width="4.40" height="1.50" fill="#000" stroke="none" stroke-width="0" />
<rect x="168.90" y="1343.81" width="4.40" height="1.50" fill="#000" stroke="none" stroke-width="0" />
<rect x="168.90" y="1339.11" width="4.40" height="1.50" fill="#000" stroke="none" stroke-width="0" />
<rect x="165.70" y="1335.47" width="7.60" height="1.50" fill="#000" stroke="none" stroke-width="0" />
<rect x="168.90" y="1332.49" width="4.40" height="1.50" fill="#000" stroke="none" stroke-width="0" />
<rect x="168.90" y="1329.97" width="4.40" height="1.50" fill="#000" stroke="none" stroke-width="0" />
<rect x="168.90" y="1327.79" width="4.40" height="1.50" fill="#000" stroke="none" stroke-width="0" />
<rect x="168.90" y="1325.87" width="4.40" height="1.50" fill="#000" stroke="none" stroke-width="0" />
<rect x="162.10" y="1536.30" width="11.20" height="2.80" fill="#000" stroke="none" stroke-width="0" />
<rect x="162.10" y="1506.50" width="11.20" height="8.00" fill="#000" stroke="none" stroke-width="0" />
<rect x="162.10" y="1481.60" width="11.20" height="2.80" fill="#000" stroke="none" stroke-width="0" />
<rect x="162.10" y="1436.00" width="11.20" height="2.80" fill="#000" stroke="none" stroke-width="0" />
<rect x="162.10" y="1398.10" width="11.20" height="2.80" fill="#000" stroke="none" stroke-width="0" />
<rect x="162.10" y="1361.10" width="11.20" height="2.80" fill="#000" stroke="none" stroke-width="0" />
<rect x="162.10" y="1323.50" width="11.20" height="2.80" fill="#000" stroke="none" stroke-width="0" />
<g filter="url(#cmap)">
<rect x="245.4" y="1379.1" width="127.6" height="128.6" fill="#000"/>
<g clip-path="url(#ol13)">
<rect x="245.4" y="1379.1" width="127.6" height="128.6" fill="#383838"/>
<ellipse cx="0" cy="0" rx="1" ry="1" transform="translate(291.79,1465.20) rotate(-41) scale(46.98,17.45)" fill="url(#pg14)" style="mix-blend-mode:lighten"/>
<ellipse cx="0" cy="0" rx="1" ry="1" transform="translate(311.64,1412.98) rotate(0) scale(29.43,28.36)" fill="url(#pg15)" style="mix-blend-mode:lighten"/>
<ellipse cx="0" cy="0" rx="1" ry="1" transform="translate(328.90,1419.88) rotate(0) scale(18.52,16.37)" fill="url(#pg16)" style="mix-blend-mode:lighten"/>
<ellipse cx="0" cy="0" rx="1" ry="1" transform="translate(317.68,1434.55) rotate(0) scale(14.67,9.49)" fill="url(#pg17)" style="mix-blend-mode:lighten"/>
<ellipse cx="0" cy="0" rx="1" ry="1" transform="translate(330.63,1457.00) rotate(0) scale(17.26,14.67)" fill="url(#pg18)" style="mix-blend-mode:lighten"/>
<ellipse cx="0" cy="0" rx="1" ry="1" transform="translate(290.92,1468.65) rotate(-40) scale(18.85,7.25)" fill="url(#pg19)" style="mix-blend-mode:lighten"/>
</g></g>
<line x1="318.10" y1="1316.60" x2="318.10" y2="1548.00" stroke="#111" stroke-width="1.5" stroke-linecap="butt"/>
<line x1="174.00" y1="1437.40" x2="466.70" y2="1437.40" stroke="#111" stroke-width="1.5" stroke-linecap="butt"/>
<text transform="translate(179.80,1335.00) scale(1.2000,1.0000)" font-family='"Liberation Sans", sans-serif' font-size="9.9" text-anchor="start" fill="#111" stroke="#111" stroke-width="0.2">Q1</text>
<text transform="translate(179.80,1348.60) scale(1.2000,1.0000)" font-family='"Liberation Sans", sans-serif' font-size="9.9" text-anchor="start" fill="#111" stroke="#111" stroke-width="0.2">20.2</text>
<text transform="translate(441.70,1335.00) scale(1.2000,1.0000)" font-family='"Liberation Sans", sans-serif' font-size="9.9" text-anchor="end" fill="#111" stroke="#111" stroke-width="0.2">Q2</text>
<text transform="translate(441.70,1348.60) scale(1.2000,1.0000)" font-family='"Liberation Sans", sans-serif' font-size="9.9" text-anchor="end" fill="#111" stroke="#111" stroke-width="0.2">15.7</text>
<text transform="translate(441.70,1521.20) scale(1.2000,1.0000)" font-family='"Liberation Sans", sans-serif' font-size="9.9" text-anchor="end" fill="#111" stroke="#111" stroke-width="0.2">Q3</text>
<text transform="translate(441.70,1535.60) scale(1.2000,1.0000)" font-family='"Liberation Sans", sans-serif' font-size="9.9" text-anchor="end" fill="#111" stroke="#111" stroke-width="0.2">6.72</text>
<text transform="translate(179.80,1521.20) scale(1.2000,1.0000)" font-family='"Liberation Sans", sans-serif' font-size="9.9" text-anchor="start" fill="#111" stroke="#111" stroke-width="0.2">Q4</text>
<text transform="translate(179.80,1535.60) scale(1.2000,1.0000)" font-family='"Liberation Sans", sans-serif' font-size="9.9" text-anchor="start" fill="#111" stroke="#111" stroke-width="0.2">57.4</text>
<text transform="translate(129.60,1336.50) scale(1.2800,1.0000)" font-family='"Liberation Sans", sans-serif' font-size="11.4" text-anchor="start" fill="#000" stroke="#000" stroke-width="0.25">10</text>
<text transform="translate(144.93,1328.52) scale(1.2800,1.0000)" font-family='"Liberation Sans", sans-serif' font-size="11.058" text-anchor="start" fill="#000" stroke="#000" stroke-width="0.25">7</text>
<text transform="translate(129.60,1369.50) scale(1.2800,1.0000)" font-family='"Liberation Sans", sans-serif' font-size="11.4" text-anchor="start" fill="#000" stroke="#000" stroke-width="0.25">10</text>
<text transform="translate(144.93,1361.52) scale(1.2800,1.0000)" font-family='"Liberation Sans", sans-serif' font-size="11.058" text-anchor="start" fill="#000" stroke="#000" stroke-width="0.25">6</text>
<text transform="translate(129.60,1406.50) scale(1.2800,1.0000)" font-family='"Liberation Sans", sans-serif' font-size="11.4" text-anchor="start" fill="#000" stroke="#000" stroke-width="0.25">10</text>
<text transform="translate(144.93,1398.52) scale(1.2800,1.0000)" font-family='"Liberation Sans", sans-serif' font-size="11.058" text-anchor="start" fill="#000" stroke="#000" stroke-width="0.25">5</text>
<text transform="translate(129.60,1444.40) scale(1.2800,1.0000)" font-family='"Liberation Sans", sans-serif' font-size="11.4" text-anchor="start" fill="#000" stroke="#000" stroke-width="0.25">10</text>
<text transform="translate(144.93,1436.42) scale(1.2800,1.0000)" font-family='"Liberation Sans", sans-serif' font-size="11.058" text-anchor="start" fill="#000" stroke="#000" stroke-width="0.25">4</text>
<text transform="translate(129.60,1490.00) scale(1.2800,1.0000)" font-family='"Liberation Sans", sans-serif' font-size="11.4" text-anchor="start" fill="#000" stroke="#000" stroke-width="0.25">10</text>
<text transform="translate(144.93,1482.02) scale(1.2800,1.0000)" font-family='"Liberation Sans", sans-serif' font-size="11.058" text-anchor="start" fill="#000" stroke="#000" stroke-width="0.25">3</text>
<text transform="translate(137.20,1514.10) scale(1.2800,1.0000)" font-family='"Liberation Sans", sans-serif' font-size="11.4" text-anchor="start" fill="#000" stroke="#000" stroke-width="0.25">0</text>
<text transform="translate(228.50,1577.60) scale(1.2800,1.0000)" font-family='"Liberation Sans", sans-serif' font-size="11.4" text-anchor="middle" fill="#000" stroke="#000" stroke-width="0.25">0</text>
<text transform="translate(312.20,1577.60) scale(1.2800,1.0000)" font-family='"Liberation Sans", sans-serif' font-size="11.4" text-anchor="start" fill="#000" stroke="#000" stroke-width="0.25">10</text>
<text transform="translate(329.33,1570.30) scale(1.2800,1.0000)" font-family='"Liberation Sans", sans-serif' font-size="11.058" text-anchor="start" fill="#000" stroke="#000" stroke-width="0.25">4</text>
<text transform="translate(407.80,1577.60) scale(1.2800,1.0000)" font-family='"Liberation Sans", sans-serif' font-size="11.4" text-anchor="start" fill="#000" stroke="#000" stroke-width="0.25">10</text>
<text transform="translate(424.93,1570.30) scale(1.2800,1.0000)" font-family='"Liberation Sans", sans-serif' font-size="11.058" text-anchor="start" fill="#000" stroke="#000" stroke-width="0.25">6</text>
<text transform="translate(225.50,1615.50) scale(1.2991,1.0000)" font-family='"Liberation Sans", sans-serif' font-size="14.3" text-anchor="start" fill="#000" stroke="#000" stroke-width="0.25">Comp-FL1-A :: FITC-A</text>
<text transform="translate(83.60,1432.80) scale(1.3000,1) rotate(-90) scale(1.0002,1.0000)" font-family='"Liberation Sans", sans-serif' font-size="14.7" text-anchor="middle" fill="#000" >Comp-FL2-A :: PE-A</text>
<text transform="translate(272.80,1647.50) scale(1.1924,1.0000)" font-family='"Liberation Sans", sans-serif' font-size="20.6" font-weight="bold" text-anchor="start" fill="#000" >si-ITGB4</text>
<rect x="596.40" y="1320.50" width="295.40" height="229.90" fill="#fff" stroke="#7d7d7d" stroke-width="1.4" />
<rect x="610.65" y="1551.10" width="1.80" height="3.80" fill="#000" stroke="none" stroke-width="0" />
<rect x="614.20" y="1551.10" width="1.80" height="3.80" fill="#000" stroke="none" stroke-width="0" />
<rect x="617.75" y="1551.10" width="1.80" height="3.80" fill="#000" stroke="none" stroke-width="0" />
<rect x="621.30" y="1551.10" width="1.80" height="3.80" fill="#000" stroke="none" stroke-width="0" />
<rect x="624.85" y="1551.10" width="1.80" height="6.20" fill="#000" stroke="none" stroke-width="0" />
<rect x="628.40" y="1551.10" width="1.80" height="3.80" fill="#000" stroke="none" stroke-width="0" />
<rect x="631.95" y="1551.10" width="1.80" height="3.80" fill="#000" stroke="none" stroke-width="0" />
<rect x="635.50" y="1551.10" width="1.80" height="3.80" fill="#000" stroke="none" stroke-width="0" />
<rect x="639.05" y="1551.10" width="1.80" height="3.80" fill="#000" stroke="none" stroke-width="0" />
<rect x="646.09" y="1551.10" width="1.80" height="3.80" fill="#000" stroke="none" stroke-width="0" />
<rect x="649.58" y="1551.10" width="1.80" height="3.80" fill="#000" stroke="none" stroke-width="0" />
<rect x="653.07" y="1551.10" width="1.80" height="3.80" fill="#000" stroke="none" stroke-width="0" />
<rect x="656.56" y="1551.10" width="1.80" height="3.80" fill="#000" stroke="none" stroke-width="0" />
<rect x="660.05" y="1551.10" width="1.80" height="6.20" fill="#000" stroke="none" stroke-width="0" />
<rect x="663.54" y="1551.10" width="1.80" height="3.80" fill="#000" stroke="none" stroke-width="0" />
<rect x="667.03" y="1551.10" width="1.80" height="3.80" fill="#000" stroke="none" stroke-width="0" />
<rect x="670.52" y="1551.10" width="1.80" height="3.80" fill="#000" stroke="none" stroke-width="0" />
<rect x="674.01" y="1551.10" width="1.80" height="3.80" fill="#000" stroke="none" stroke-width="0" />
<rect x="694.78" y="1551.10" width="1.80" height="3.80" fill="#000" stroke="none" stroke-width="0" />
<rect x="704.89" y="1551.10" width="1.80" height="3.80" fill="#000" stroke="none" stroke-width="0" />
<rect x="712.06" y="1551.10" width="1.80" height="3.80" fill="#000" stroke="none" stroke-width="0" />
<rect x="717.62" y="1551.10" width="1.80" height="6.20" fill="#000" stroke="none" stroke-width="0" />
<rect x="722.17" y="1551.10" width="1.80" height="3.80" fill="#000" stroke="none" stroke-width="0" />
<rect x="726.01" y="1551.10" width="1.80" height="3.80" fill="#000" stroke="none" stroke-width="0" />
<rect x="729.34" y="1551.10" width="1.80" height="3.80" fill="#000" stroke="none" stroke-width="0" />
<rect x="732.27" y="1551.10" width="1.80" height="3.80" fill="#000" stroke="none" stroke-width="0" />
<rect x="749.68" y="1551.10" width="1.80" height="3.80" fill="#000" stroke="none" stroke-width="0" />
<rect x="758.33" y="1551.10" width="1.80" height="3.80" fill="#000" stroke="none" stroke-width="0" />
<rect x="764.46" y="1551.10" width="1.80" height="3.80" fill="#000" stroke="none" stroke-width="0" />
<rect x="769.22" y="1551.10" width="1.80" height="6.20" fill="#000" stroke="none" stroke-width="0" />
<rect x="773.11" y="1551.10" width="1.80" height="3.80" fill="#000" stroke="none" stroke-width="0" />
<rect x="776.39" y="1551.10" width="1.80" height="3.80" fill="#000" stroke="none" stroke-width="0" />
<rect x="779.24" y="1551.10" width="1.80" height="3.80" fill="#000" stroke="none" stroke-width="0" />
<rect x="781.75" y="1551.10" width="1.80" height="3.80" fill="#000" stroke="none" stroke-width="0" />
<rect x="798.27" y="1551.10" width="1.80" height="3.80" fill="#000" stroke="none" stroke-width="0" />
<rect x="806.62" y="1551.10" width="1.80" height="3.80" fill="#000" stroke="none" stroke-width="0" />
<rect x="812.54" y="1551.10" width="1.80" height="3.80" fill="#000" stroke="none" stroke-width="0" />
<rect x="817.13" y="1551.10" width="1.80" height="6.20" fill="#000" stroke="none" stroke-width="0" />
<rect x="820.88" y="1551.10" width="1.80" height="3.80" fill="#000" stroke="none" stroke-width="0" />
<rect x="824.06" y="1551.10" width="1.80" height="3.80" fill="#000" stroke="none" stroke-width="0" />
<rect x="826.81" y="1551.10" width="1.80" height="3.80" fill="#000" stroke="none" stroke-width="0" />
<rect x="829.23" y="1551.10" width="1.80" height="3.80" fill="#000" stroke="none" stroke-width="0" />
<rect x="845.82" y="1551.10" width="1.80" height="3.80" fill="#000" stroke="none" stroke-width="0" />
<rect x="854.25" y="1551.10" width="1.80" height="3.80" fill="#000" stroke="none" stroke-width="0" />
<rect x="860.24" y="1551.10" width="1.80" height="3.80" fill="#000" stroke="none" stroke-width="0" />
<rect x="864.88" y="1551.10" width="1.80" height="6.20" fill="#000" stroke="none" stroke-width="0" />
<rect x="868.67" y="1551.10" width="1.80" height="3.80" fill="#000" stroke="none" stroke-width="0" />
<rect x="871.88" y="1551.10" width="1.80" height="3.80" fill="#000" stroke="none" stroke-width="0" />
<rect x="874.66" y="1551.10" width="1.80" height="3.80" fill="#000" stroke="none" stroke-width="0" />
<rect x="877.11" y="1551.10" width="1.80" height="3.80" fill="#000" stroke="none" stroke-width="0" />
<rect x="606.40" y="1551.10" width="3.20" height="9.20" fill="#000" stroke="none" stroke-width="0" />
<rect x="638.50" y="1551.10" width="10.00" height="9.20" fill="#000" stroke="none" stroke-width="0" />
<rect x="676.80" y="1551.10" width="3.20" height="9.20" fill="#000" stroke="none" stroke-width="0" />
<rect x="734.20" y="1551.10" width="3.20" height="9.20" fill="#000" stroke="none" stroke-width="0" />
<rect x="783.30" y="1551.10" width="3.20" height="9.20" fill="#000" stroke="none" stroke-width="0" />
<rect x="830.70" y="1551.10" width="3.20" height="9.20" fill="#000" stroke="none" stroke-width="0" />
<rect x="878.60" y="1551.10" width="3.20" height="9.20" fill="#000" stroke="none" stroke-width="0" />
<rect x="591.30" y="1537.13" width="4.40" height="1.50" fill="#000" stroke="none" stroke-width="0" />
<rect x="591.30" y="1534.31" width="4.40" height="1.50" fill="#000" stroke="none" stroke-width="0" />
<rect x="591.30" y="1531.49" width="4.40" height="1.50" fill="#000" stroke="none" stroke-width="0" />
<rect x="591.30" y="1528.67" width="4.40" height="1.50" fill="#000" stroke="none" stroke-width="0" />
<rect x="588.10" y="1525.85" width="7.60" height="1.50" fill="#000" stroke="none" stroke-width="0" />
<rect x="591.30" y="1523.03" width="4.40" height="1.50" fill="#000" stroke="none" stroke-width="0" />
<rect x="591.30" y="1520.21" width="4.40" height="1.50" fill="#000" stroke="none" stroke-width="0" />
<rect x="591.30" y="1517.39" width="4.40" height="1.50" fill="#000" stroke="none" stroke-width="0" />
<rect x="591.30" y="1514.57" width="4.40" height="1.50" fill="#000" stroke="none" stroke-width="0" />
<rect x="591.30" y="1509.09" width="4.40" height="1.50" fill="#000" stroke="none" stroke-width="0" />
<rect x="591.30" y="1506.43" width="4.40" height="1.50" fill="#000" stroke="none" stroke-width="0" />
<rect x="591.30" y="1503.77" width="4.40" height="1.50" fill="#000" stroke="none" stroke-width="0" />
<rect x="591.30" y="1501.11" width="4.40" height="1.50" fill="#000" stroke="none" stroke-width="0" />
<rect x="588.10" y="1498.45" width="7.60" height="1.50" fill="#000" stroke="none" stroke-width="0" />
<rect x="591.30" y="1495.79" width="4.40" height="1.50" fill="#000" stroke="none" stroke-width="0" />
<rect x="591.30" y="1493.13" width="4.40" height="1.50" fill="#000" stroke="none" stroke-width="0" />
<rect x="591.30" y="1490.47" width="4.40" height="1.50" fill="#000" stroke="none" stroke-width="0" />
<rect x="591.30" y="1487.81" width="4.40" height="1.50" fill="#000" stroke="none" stroke-width="0" />
<rect x="591.30" y="1471.69" width="4.40" height="1.50" fill="#000" stroke="none" stroke-width="0" />
<rect x="591.30" y="1463.82" width="4.40" height="1.50" fill="#000" stroke="none" stroke-width="0" />
<rect x="591.30" y="1458.24" width="4.40" height="1.50" fill="#000" stroke="none" stroke-width="0" />
<rect x="588.10" y="1453.91" width="7.60" height="1.50" fill="#000" stroke="none" stroke-width="0" />
<rect x="591.30" y="1450.37" width="4.40" height="1.50" fill="#000" stroke="none" stroke-width="0" />
<rect x="591.30" y="1447.37" width="4.40" height="1.50" fill="#000" stroke="none" stroke-width="0" />
<rect x="591.30" y="1444.78" width="4.40" height="1.50" fill="#000" stroke="none" stroke-width="0" />
<rect x="591.30" y="1442.50" width="4.40" height="1.50" fill="#000" stroke="none" stroke-width="0" />
<rect x="591.30" y="1428.95" width="4.40" height="1.50" fill="#000" stroke="none" stroke-width="0" />
<rect x="591.30" y="1422.22" width="4.40" height="1.50" fill="#000" stroke="none" stroke-width="0" />
<rect x="591.30" y="1417.45" width="4.40" height="1.50" fill="#000" stroke="none" stroke-width="0" />
<rect x="588.10" y="1413.75" width="7.60" height="1.50" fill="#000" stroke="none" stroke-width="0" />
<rect x="591.30" y="1410.72" width="4.40" height="1.50" fill="#000" stroke="none" stroke-width="0" />
<rect x="591.30" y="1408.17" width="4.40" height="1.50" fill="#000" stroke="none" stroke-width="0" />
<rect x="591.30" y="1405.95" width="4.40" height="1.50" fill="#000" stroke="none" stroke-width="0" />
<rect x="591.30" y="1404.00" width="4.40" height="1.50" fill="#000" stroke="none" stroke-width="0" />
<rect x="591.30" y="1391.14" width="4.40" height="1.50" fill="#000" stroke="none" stroke-width="0" />
<rect x="591.30" y="1384.64" width="4.40" height="1.50" fill="#000" stroke="none" stroke-width="0" />
<rect x="591.30" y="1380.03" width="4.40" height="1.50" fill="#000" stroke="none" stroke-width="0" />
<rect x="588.10" y="1376.46" width="7.60" height="1.50" fill="#000" stroke="none" stroke-width="0" />
<rect x="591.30" y="1373.54" width="4.40" height="1.50" fill="#000" stroke="none" stroke-width="0" />
<rect x="591.30" y="1371.07" width="4.40" height="1.50" fill="#000" stroke="none" stroke-width="0" />
<rect x="591.30" y="1368.93" width="4.40" height="1.50" fill="#000" stroke="none" stroke-width="0" />
<rect x="591.30" y="1367.04" width="4.40" height="1.50" fill="#000" stroke="none" stroke-width="0" />
<rect x="591.30" y="1354.03" width="4.40" height="1.50" fill="#000" stroke="none" stroke-width="0" />
<rect x="591.30" y="1347.41" width="4.40" height="1.50" fill="#000" stroke="none" stroke-width="0" />
<rect x="591.30" y="1342.71" width="4.40" height="1.50" fill="#000" stroke="none" stroke-width="0" />
<rect x="588.10" y="1339.07" width="7.60" height="1.50" fill="#000" stroke="none" stroke-width="0" />
<rect x="591.30" y="1336.09" width="4.40" height="1.50" fill="#000" stroke="none" stroke-width="0" />
<rect x="591.30" y="1333.57" width="4.40" height="1.50" fill="#000" stroke="none" stroke-width="0" />
<rect x="591.30" y="1331.39" width="4.40" height="1.50" fill="#000" stroke="none" stroke-width="0" />
<rect x="591.30" y="1329.47" width="4.40" height="1.50" fill="#000" stroke="none" stroke-width="0" />
<rect x="584.50" y="1539.30" width="11.20" height="2.80" fill="#000" stroke="none" stroke-width="0" />
<rect x="584.50" y="1508.50" width="11.20" height="8.00" fill="#000" stroke="none" stroke-width="0" />
<rect x="584.50" y="1484.50" width="11.20" height="2.80" fill="#000" stroke="none" stroke-width="0" />
<rect x="584.50" y="1439.80" width="11.20" height="2.80" fill="#000" stroke="none" stroke-width="0" />
<rect x="584.50" y="1401.60" width="11.20" height="2.80" fill="#000" stroke="none" stroke-width="0" />
<rect x="584.50" y="1364.70" width="11.20" height="2.80" fill="#000" stroke="none" stroke-width="0" />
<rect x="584.50" y="1327.10" width="11.20" height="2.80" fill="#000" stroke="none" stroke-width="0" />
<g filter="url(#cmap)">
<rect x="671.1" y="1383.7" width="132.5" height="126.5" fill="#000"/>
<g clip-path="url(#ol20)">
<rect x="671.1" y="1383.7" width="132.5" height="126.5" fill="#383838"/>
<ellipse cx="0" cy="0" rx="1" ry="1" transform="translate(716.18,1466.74) rotate(-41) scale(48.05,17.45)" fill="url(#pg21)" style="mix-blend-mode:lighten"/>
<ellipse cx="0" cy="0" rx="1" ry="1" transform="translate(752.00,1418.84) rotate(8) scale(34.89,23.98)" fill="url(#pg22)" style="mix-blend-mode:lighten"/>
<ellipse cx="0" cy="0" rx="1" ry="1" transform="translate(743.36,1435.24) rotate(0) scale(17.26,11.22)" fill="url(#pg23)" style="mix-blend-mode:lighten"/>
<ellipse cx="0" cy="0" rx="1" ry="1" transform="translate(761.49,1448.19) rotate(20) scale(15.54,8.63)" fill="url(#pg24)" style="mix-blend-mode:lighten"/>
<ellipse cx="0" cy="0" rx="1" ry="1" transform="translate(752.00,1468.04) rotate(0) scale(15.54,13.81)" fill="url(#pg25)" style="mix-blend-mode:lighten"/>
<ellipse cx="0" cy="0" rx="1" ry="1" transform="translate(715.74,1470.20) rotate(-40) scale(17.88,6.96)" fill="url(#pg26)" style="mix-blend-mode:lighten"/>
</g></g>
<line x1="741.70" y1="1320.50" x2="741.70" y2="1550.40" stroke="#111" stroke-width="1.5" stroke-linecap="butt"/>
<line x1="596.40" y1="1441.20" x2="891.80" y2="1441.20" stroke="#111" stroke-width="1.5" stroke-linecap="butt"/>
<text transform="translate(602.20,1338.90) scale(1.2000,1.0000)" font-family='"Liberation Sans", sans-serif' font-size="9.9" text-anchor="start" fill="#111" stroke="#111" stroke-width="0.2">Q1</text>
<text transform="translate(602.20,1352.50) scale(1.2000,1.0000)" font-family='"Liberation Sans", sans-serif' font-size="9.9" text-anchor="start" fill="#111" stroke="#111" stroke-width="0.2">11.9</text>
<text transform="translate(866.80,1338.90) scale(1.2000,1.0000)" font-family='"Liberation Sans", sans-serif' font-size="9.9" text-anchor="end" fill="#111" stroke="#111" stroke-width="0.2">Q2</text>
<text transform="translate(866.80,1352.50) scale(1.2000,1.0000)" font-family='"Liberation Sans", sans-serif' font-size="9.9" text-anchor="end" fill="#111" stroke="#111" stroke-width="0.2">21.7</text>
<text transform="translate(866.80,1523.60) scale(1.2000,1.0000)" font-family='"Liberation Sans", sans-serif' font-size="9.9" text-anchor="end" fill="#111" stroke="#111" stroke-width="0.2">Q3</text>
<text transform="translate(866.80,1538.00) scale(1.2000,1.0000)" font-family='"Liberation Sans", sans-serif' font-size="9.9" text-anchor="end" fill="#111" stroke="#111" stroke-width="0.2">8.86</text>
<text transform="translate(602.20,1523.60) scale(1.2000,1.0000)" font-family='"Liberation Sans", sans-serif' font-size="9.9" text-anchor="start" fill="#111" stroke="#111" stroke-width="0.2">Q4</text>
<text transform="translate(602.20,1538.00) scale(1.2000,1.0000)" font-family='"Liberation Sans", sans-serif' font-size="9.9" text-anchor="start" fill="#111" stroke="#111" stroke-width="0.2">57.6</text>
<text transform="translate(552.00,1340.10) scale(1.2800,1.0000)" font-family='"Liberation Sans", sans-serif' font-size="11.4" text-anchor="start" fill="#000" stroke="#000" stroke-width="0.25">10</text>
<text transform="translate(567.33,1332.12) scale(1.2800,1.0000)" font-family='"Liberation Sans", sans-serif' font-size="11.058" text-anchor="start" fill="#000" stroke="#000" stroke-width="0.25">7</text>
<text transform="translate(552.00,1373.10) scale(1.2800,1.0000)" font-family='"Liberation Sans", sans-serif' font-size="11.4" text-anchor="start" fill="#000" stroke="#000" stroke-width="0.25">10</text>
<text transform="translate(567.33,1365.12) scale(1.2800,1.0000)" font-family='"Liberation Sans", sans-serif' font-size="11.058" text-anchor="start" fill="#000" stroke="#000" stroke-width="0.25">6</text>
<text transform="translate(552.00,1410.00) scale(1.2800,1.0000)" font-family='"Liberation Sans", sans-serif' font-size="11.4" text-anchor="start" fill="#000" stroke="#000" stroke-width="0.25">10</text>
<text transform="translate(567.33,1402.02) scale(1.2800,1.0000)" font-family='"Liberation Sans", sans-serif' font-size="11.058" text-anchor="start" fill="#000" stroke="#000" stroke-width="0.25">5</text>
<text transform="translate(552.00,1448.20) scale(1.2800,1.0000)" font-family='"Liberation Sans", sans-serif' font-size="11.4" text-anchor="start" fill="#000" stroke="#000" stroke-width="0.25">10</text>
<text transform="translate(567.33,1440.22) scale(1.2800,1.0000)" font-family='"Liberation Sans", sans-serif' font-size="11.058" text-anchor="start" fill="#000" stroke="#000" stroke-width="0.25">4</text>
<text transform="translate(559.60,1516.10) scale(1.2800,1.0000)" font-family='"Liberation Sans", sans-serif' font-size="11.4" text-anchor="start" fill="#000" stroke="#000" stroke-width="0.25">0</text>
<text transform="translate(653.00,1580.00) scale(1.2800,1.0000)" font-family='"Liberation Sans", sans-serif' font-size="11.4" text-anchor="middle" fill="#000" stroke="#000" stroke-width="0.25">0</text>
<text transform="translate(736.70,1580.00) scale(1.2800,1.0000)" font-family='"Liberation Sans", sans-serif' font-size="11.4" text-anchor="start" fill="#000" stroke="#000" stroke-width="0.25">10</text>
<text transform="translate(753.83,1572.70) scale(1.2800,1.0000)" font-family='"Liberation Sans", sans-serif' font-size="11.058" text-anchor="start" fill="#000" stroke="#000" stroke-width="0.25">4</text>
<text transform="translate(832.90,1580.00) scale(1.2800,1.0000)" font-family='"Liberation Sans", sans-serif' font-size="11.4" text-anchor="start" fill="#000" stroke="#000" stroke-width="0.25">10</text>
<text transform="translate(850.03,1572.70) scale(1.2800,1.0000)" font-family='"Liberation Sans", sans-serif' font-size="11.058" text-anchor="start" fill="#000" stroke="#000" stroke-width="0.25">6</text>
<text transform="translate(649.40,1618.50) scale(1.3033,1.0000)" font-family='"Liberation Sans", sans-serif' font-size="14.3" text-anchor="start" fill="#000" stroke="#000" stroke-width="0.25">Comp-FL1-A :: FITC-A</text>
<text transform="translate(505.60,1435.70) scale(1.3000,1) rotate(-90) scale(1.0002,1.0000)" font-family='"Liberation Sans", sans-serif' font-size="14.7" text-anchor="middle" fill="#000" >Comp-FL2-A :: PE-A</text>
<text transform="translate(607.10,1647.50) scale(1.1884,1.0000)" font-family='"Liberation Sans", sans-serif' font-size="20.6" font-weight="bold" text-anchor="start" fill="#000" >si-ITGB4+Gemcitabine</text>
<rect x="190.30" y="1757.40" width="269.30" height="213.10" fill="#fff" stroke="#7d7d7d" stroke-width="1.4" />
<rect x="204.16" y="1971.20" width="2.10" height="4.40" fill="#000" stroke="none" stroke-width="0" />
<rect x="207.27" y="1971.20" width="2.10" height="4.40" fill="#000" stroke="none" stroke-width="0" />
<rect x="210.38" y="1971.20" width="2.10" height="4.40" fill="#000" stroke="none" stroke-width="0" />
<rect x="213.49" y="1971.20" width="2.10" height="4.40" fill="#000" stroke="none" stroke-width="0" />
<rect x="216.60" y="1971.20" width="2.10" height="7.00" fill="#000" stroke="none" stroke-width="0" />
<rect x="219.71" y="1971.20" width="2.10" height="4.40" fill="#000" stroke="none" stroke-width="0" />
<rect x="222.82" y="1971.20" width="2.10" height="4.40" fill="#000" stroke="none" stroke-width="0" />
<rect x="225.93" y="1971.20" width="2.10" height="4.40" fill="#000" stroke="none" stroke-width="0" />
<rect x="229.04" y="1971.20" width="2.10" height="4.40" fill="#000" stroke="none" stroke-width="0" />
<rect x="235.40" y="1971.20" width="2.10" height="4.40" fill="#000" stroke="none" stroke-width="0" />
<rect x="238.65" y="1971.20" width="2.10" height="4.40" fill="#000" stroke="none" stroke-width="0" />
<rect x="241.90" y="1971.20" width="2.10" height="4.40" fill="#000" stroke="none" stroke-width="0" />
<rect x="245.15" y="1971.20" width="2.10" height="4.40" fill="#000" stroke="none" stroke-width="0" />
<rect x="248.40" y="1971.20" width="2.10" height="7.00" fill="#000" stroke="none" stroke-width="0" />
<rect x="251.65" y="1971.20" width="2.10" height="4.40" fill="#000" stroke="none" stroke-width="0" />
<rect x="254.90" y="1971.20" width="2.10" height="4.40" fill="#000" stroke="none" stroke-width="0" />
<rect x="258.15" y="1971.20" width="2.10" height="4.40" fill="#000" stroke="none" stroke-width="0" />
<rect x="261.40" y="1971.20" width="2.10" height="4.40" fill="#000" stroke="none" stroke-width="0" />
<rect x="280.42" y="1971.20" width="2.10" height="4.40" fill="#000" stroke="none" stroke-width="0" />
<rect x="289.65" y="1971.20" width="2.10" height="4.40" fill="#000" stroke="none" stroke-width="0" />
<rect x="296.20" y="1971.20" width="2.10" height="4.40" fill="#000" stroke="none" stroke-width="0" />
<rect x="301.28" y="1971.20" width="2.10" height="7.00" fill="#000" stroke="none" stroke-width="0" />
<rect x="305.43" y="1971.20" width="2.10" height="4.40" fill="#000" stroke="none" stroke-width="0" />
<rect x="308.93" y="1971.20" width="2.10" height="4.40" fill="#000" stroke="none" stroke-width="0" />
<rect x="311.97" y="1971.20" width="2.10" height="4.40" fill="#000" stroke="none" stroke-width="0" />
<rect x="314.65" y="1971.20" width="2.10" height="4.40" fill="#000" stroke="none" stroke-width="0" />
<rect x="330.14" y="1971.20" width="2.10" height="4.40" fill="#000" stroke="none" stroke-width="0" />
<rect x="337.80" y="1971.20" width="2.10" height="4.40" fill="#000" stroke="none" stroke-width="0" />
<rect x="343.24" y="1971.20" width="2.10" height="4.40" fill="#000" stroke="none" stroke-width="0" />
<rect x="347.46" y="1971.20" width="2.10" height="7.00" fill="#000" stroke="none" stroke-width="0" />
<rect x="350.90" y="1971.20" width="2.10" height="4.40" fill="#000" stroke="none" stroke-width="0" />
<rect x="353.81" y="1971.20" width="2.10" height="4.40" fill="#000" stroke="none" stroke-width="0" />
<rect x="356.33" y="1971.20" width="2.10" height="4.40" fill="#000" stroke="none" stroke-width="0" />
<rect x="358.56" y="1971.20" width="2.10" height="4.40" fill="#000" stroke="none" stroke-width="0" />
<rect x="373.74" y="1971.20" width="2.10" height="4.40" fill="#000" stroke="none" stroke-width="0" />
<rect x="381.45" y="1971.20" width="2.10" height="4.40" fill="#000" stroke="none" stroke-width="0" />
<rect x="386.92" y="1971.20" width="2.10" height="4.40" fill="#000" stroke="none" stroke-width="0" />
<rect x="391.16" y="1971.20" width="2.10" height="7.00" fill="#000" stroke="none" stroke-width="0" />
<rect x="394.63" y="1971.20" width="2.10" height="4.40" fill="#000" stroke="none" stroke-width="0" />
<rect x="397.57" y="1971.20" width="2.10" height="4.40" fill="#000" stroke="none" stroke-width="0" />
<rect x="400.11" y="1971.20" width="2.10" height="4.40" fill="#000" stroke="none" stroke-width="0" />
<rect x="402.35" y="1971.20" width="2.10" height="4.40" fill="#000" stroke="none" stroke-width="0" />
<rect x="417.44" y="1971.20" width="2.10" height="4.40" fill="#000" stroke="none" stroke-width="0" />
<rect x="425.10" y="1971.20" width="2.10" height="4.40" fill="#000" stroke="none" stroke-width="0" />
<rect x="430.54" y="1971.20" width="2.10" height="4.40" fill="#000" stroke="none" stroke-width="0" />
<rect x="434.76" y="1971.20" width="2.10" height="7.00" fill="#000" stroke="none" stroke-width="0" />
<rect x="438.20" y="1971.20" width="2.10" height="4.40" fill="#000" stroke="none" stroke-width="0" />
<rect x="441.11" y="1971.20" width="2.10" height="4.40" fill="#000" stroke="none" stroke-width="0" />
<rect x="443.63" y="1971.20" width="2.10" height="4.40" fill="#000" stroke="none" stroke-width="0" />
<rect x="445.86" y="1971.20" width="2.10" height="4.40" fill="#000" stroke="none" stroke-width="0" />
<rect x="200.35" y="1971.20" width="3.50" height="10.90" fill="#000" stroke="none" stroke-width="0" />
<rect x="227.90" y="1971.20" width="10.60" height="10.90" fill="#000" stroke="none" stroke-width="0" />
<rect x="263.95" y="1971.20" width="3.50" height="10.90" fill="#000" stroke="none" stroke-width="0" />
<rect x="316.35" y="1971.20" width="3.50" height="10.90" fill="#000" stroke="none" stroke-width="0" />
<rect x="359.85" y="1971.20" width="3.50" height="10.90" fill="#000" stroke="none" stroke-width="0" />
<rect x="403.65" y="1971.20" width="3.50" height="10.90" fill="#000" stroke="none" stroke-width="0" />
<rect x="447.15" y="1971.20" width="3.50" height="10.90" fill="#000" stroke="none" stroke-width="0" />
<rect x="184.60" y="1957.05" width="5.00" height="1.80" fill="#000" stroke="none" stroke-width="0" />
<rect x="184.60" y="1954.60" width="5.00" height="1.80" fill="#000" stroke="none" stroke-width="0" />
<rect x="184.60" y="1952.15" width="5.00" height="1.80" fill="#000" stroke="none" stroke-width="0" />
<rect x="184.60" y="1949.70" width="5.00" height="1.80" fill="#000" stroke="none" stroke-width="0" />
<rect x="180.80" y="1947.25" width="8.80" height="1.80" fill="#000" stroke="none" stroke-width="0" />
<rect x="184.60" y="1944.80" width="5.00" height="1.80" fill="#000" stroke="none" stroke-width="0" />
<rect x="184.60" y="1942.35" width="5.00" height="1.80" fill="#000" stroke="none" stroke-width="0" />
<rect x="184.60" y="1939.90" width="5.00" height="1.80" fill="#000" stroke="none" stroke-width="0" />
<rect x="184.60" y="1937.45" width="5.00" height="1.80" fill="#000" stroke="none" stroke-width="0" />
<rect x="184.60" y="1932.48" width="5.00" height="1.80" fill="#000" stroke="none" stroke-width="0" />
<rect x="184.60" y="1929.96" width="5.00" height="1.80" fill="#000" stroke="none" stroke-width="0" />
<rect x="184.60" y="1927.44" width="5.00" height="1.80" fill="#000" stroke="none" stroke-width="0" />
<rect x="184.60" y="1924.92" width="5.00" height="1.80" fill="#000" stroke="none" stroke-width="0" />
<rect x="180.80" y="1922.40" width="8.80" height="1.80" fill="#000" stroke="none" stroke-width="0" />
<rect x="184.60" y="1919.88" width="5.00" height="1.80" fill="#000" stroke="none" stroke-width="0" />
<rect x="184.60" y="1917.36" width="5.00" height="1.80" fill="#000" stroke="none" stroke-width="0" />
<rect x="184.60" y="1914.84" width="5.00" height="1.80" fill="#000" stroke="none" stroke-width="0" />
<rect x="184.60" y="1912.32" width="5.00" height="1.80" fill="#000" stroke="none" stroke-width="0" />
<rect x="184.60" y="1897.16" width="5.00" height="1.80" fill="#000" stroke="none" stroke-width="0" />
<rect x="184.60" y="1889.76" width="5.00" height="1.80" fill="#000" stroke="none" stroke-width="0" />
<rect x="184.60" y="1884.51" width="5.00" height="1.80" fill="#000" stroke="none" stroke-width="0" />
<rect x="180.80" y="1880.44" width="8.80" height="1.80" fill="#000" stroke="none" stroke-width="0" />
<rect x="184.60" y="1877.12" width="5.00" height="1.80" fill="#000" stroke="none" stroke-width="0" />
<rect x="184.60" y="1874.31" width="5.00" height="1.80" fill="#000" stroke="none" stroke-width="0" />
<rect x="184.60" y="1871.87" width="5.00" height="1.80" fill="#000" stroke="none" stroke-width="0" />
<rect x="184.60" y="1869.72" width="5.00" height="1.80" fill="#000" stroke="none" stroke-width="0" />
<rect x="184.60" y="1857.38" width="5.00" height="1.80" fill="#000" stroke="none" stroke-width="0" />
<rect x="184.60" y="1851.29" width="5.00" height="1.80" fill="#000" stroke="none" stroke-width="0" />
<rect x="184.60" y="1846.97" width="5.00" height="1.80" fill="#000" stroke="none" stroke-width="0" />
<rect x="180.80" y="1843.62" width="8.80" height="1.80" fill="#000" stroke="none" stroke-width="0" />
<rect x="184.60" y="1840.88" width="5.00" height="1.80" fill="#000" stroke="none" stroke-width="0" />
<rect x="184.60" y="1838.56" width="5.00" height="1.80" fill="#000" stroke="none" stroke-width="0" />
<rect x="184.60" y="1836.55" width="5.00" height="1.80" fill="#000" stroke="none" stroke-width="0" />
<rect x="184.60" y="1834.78" width="5.00" height="1.80" fill="#000" stroke="none" stroke-width="0" />
<rect x="184.60" y="1822.84" width="5.00" height="1.80" fill="#000" stroke="none" stroke-width="0" />
<rect x="184.60" y="1816.79" width="5.00" height="1.80" fill="#000" stroke="none" stroke-width="0" />
<rect x="184.60" y="1812.49" width="5.00" height="1.80" fill="#000" stroke="none" stroke-width="0" />
<rect x="180.80" y="1809.16" width="8.80" height="1.80" fill="#000" stroke="none" stroke-width="0" />
<rect x="184.60" y="1806.43" width="5.00" height="1.80" fill="#000" stroke="none" stroke-width="0" />
<rect x="184.60" y="1804.13" width="5.00" height="1.80" fill="#000" stroke="none" stroke-width="0" />
<rect x="184.60" y="1802.13" width="5.00" height="1.80" fill="#000" stroke="none" stroke-width="0" />
<rect x="184.60" y="1800.37" width="5.00" height="1.80" fill="#000" stroke="none" stroke-width="0" />
<rect x="184.60" y="1788.38" width="5.00" height="1.80" fill="#000" stroke="none" stroke-width="0" />
<rect x="184.60" y="1782.29" width="5.00" height="1.80" fill="#000" stroke="none" stroke-width="0" />
<rect x="184.60" y="1777.97" width="5.00" height="1.80" fill="#000" stroke="none" stroke-width="0" />
<rect x="180.80" y="1774.62" width="8.80" height="1.80" fill="#000" stroke="none" stroke-width="0" />
<rect x="184.60" y="1771.88" width="5.00" height="1.80" fill="#000" stroke="none" stroke-width="0" />
<rect x="184.60" y="1769.56" width="5.00" height="1.80" fill="#000" stroke="none" stroke-width="0" />
<rect x="184.60" y="1767.55" width="5.00" height="1.80" fill="#000" stroke="none" stroke-width="0" />
<rect x="184.60" y="1765.78" width="5.00" height="1.80" fill="#000" stroke="none" stroke-width="0" />
<rect x="176.40" y="1958.75" width="13.20" height="3.30" fill="#000" stroke="none" stroke-width="0" />
<rect x="176.40" y="1931.90" width="13.20" height="8.00" fill="#000" stroke="none" stroke-width="0" />
<rect x="176.40" y="1909.05" width="13.20" height="3.30" fill="#000" stroke="none" stroke-width="0" />
<rect x="176.40" y="1867.05" width="13.20" height="3.30" fill="#000" stroke="none" stroke-width="0" />
<rect x="176.40" y="1832.45" width="13.20" height="3.30" fill="#000" stroke="none" stroke-width="0" />
<rect x="176.40" y="1798.05" width="13.20" height="3.30" fill="#000" stroke="none" stroke-width="0" />
<rect x="176.40" y="1763.45" width="13.20" height="3.30" fill="#000" stroke="none" stroke-width="0" />
<g filter="url(#cmap)">
<rect x="257.9" y="1830.1" width="103.7" height="105.5" fill="#000"/>
<g clip-path="url(#ol27)">
<rect x="257.9" y="1830.1" width="103.7" height="105.5" fill="#383838"/>
<ellipse cx="0" cy="0" rx="1" ry="1" transform="translate(301.05,1896.94) rotate(-38) scale(39.81,18.32)" fill="url(#pg28)" style="mix-blend-mode:lighten"/>
<ellipse cx="0" cy="0" rx="1" ry="1" transform="translate(302.90,1894.35) rotate(-38) scale(13.67,7.62)" fill="url(#pg29)" style="mix-blend-mode:lighten"/>
</g></g>
<line x1="320.50" y1="1757.40" x2="320.50" y2="1970.50" stroke="#111" stroke-width="1.5" stroke-linecap="butt"/>
<line x1="190.30" y1="1868.70" x2="459.60" y2="1868.70" stroke="#111" stroke-width="1.5" stroke-linecap="butt"/>
<text transform="translate(195.30,1774.00) scale(1.2000,1.0000)" font-family='"Liberation Sans", sans-serif' font-size="9.6" text-anchor="start" fill="#111" stroke="#111" stroke-width="0.2">Q1</text>
<text transform="translate(195.30,1787.80) scale(1.2000,1.0000)" font-family='"Liberation Sans", sans-serif' font-size="9.6" text-anchor="start" fill="#111" stroke="#111" stroke-width="0.2">2.54</text>
<text transform="translate(436.40,1774.00) scale(1.2000,1.0000)" font-family='"Liberation Sans", sans-serif' font-size="9.6" text-anchor="end" fill="#111" stroke="#111" stroke-width="0.2">Q2</text>
<text transform="translate(436.40,1787.80) scale(1.2000,1.0000)" font-family='"Liberation Sans", sans-serif' font-size="9.6" text-anchor="end" fill="#111" stroke="#111" stroke-width="0.2">1.83</text>
<text transform="translate(436.40,1945.10) scale(1.2000,1.0000)" font-family='"Liberation Sans", sans-serif' font-size="9.6" text-anchor="end" fill="#111" stroke="#111" stroke-width="0.2">Q3</text>
<text transform="translate(436.40,1958.60) scale(1.2000,1.0000)" font-family='"Liberation Sans", sans-serif' font-size="9.6" text-anchor="end" fill="#111" stroke="#111" stroke-width="0.2">2.42</text>
<text transform="translate(195.30,1945.10) scale(1.2000,1.0000)" font-family='"Liberation Sans", sans-serif' font-size="9.6" text-anchor="start" fill="#111" stroke="#111" stroke-width="0.2">Q4</text>
<text transform="translate(195.30,1958.60) scale(1.2000,1.0000)" font-family='"Liberation Sans", sans-serif' font-size="9.6" text-anchor="start" fill="#111" stroke="#111" stroke-width="0.2">93.2</text>
<text transform="translate(139.30,1780.70) scale(1.1500,1.0000)" font-family='"Liberation Sans", sans-serif' font-size="14.0" text-anchor="start" fill="#000" stroke="#000" stroke-width="0.25">10</text>
<text transform="translate(157.81,1771.46) scale(1.1500,1.0000)" font-family='"Liberation Sans", sans-serif' font-size="13.58" text-anchor="start" fill="#000" stroke="#000" stroke-width="0.25">7</text>
<text transform="translate(139.30,1807.90) scale(1.1500,1.0000)" font-family='"Liberation Sans", sans-serif' font-size="14.0" text-anchor="start" fill="#000" stroke="#000" stroke-width="0.25">10</text>
<text transform="translate(157.81,1798.66) scale(1.1500,1.0000)" font-family='"Liberation Sans", sans-serif' font-size="13.58" text-anchor="start" fill="#000" stroke="#000" stroke-width="0.25">6</text>
<text transform="translate(139.30,1842.30) scale(1.1500,1.0000)" font-family='"Liberation Sans", sans-serif' font-size="14.0" text-anchor="start" fill="#000" stroke="#000" stroke-width="0.25">10</text>
<text transform="translate(157.81,1833.06) scale(1.1500,1.0000)" font-family='"Liberation Sans", sans-serif' font-size="13.58" text-anchor="start" fill="#000" stroke="#000" stroke-width="0.25">5</text>
<text transform="translate(139.30,1876.90) scale(1.1500,1.0000)" font-family='"Liberation Sans", sans-serif' font-size="14.0" text-anchor="start" fill="#000" stroke="#000" stroke-width="0.25">10</text>
<text transform="translate(157.81,1867.66) scale(1.1500,1.0000)" font-family='"Liberation Sans", sans-serif' font-size="13.58" text-anchor="start" fill="#000" stroke="#000" stroke-width="0.25">4</text>
<text transform="translate(147.70,1940.70) scale(1.1500,1.0000)" font-family='"Liberation Sans", sans-serif' font-size="14.0" text-anchor="start" fill="#000" stroke="#000" stroke-width="0.25">0</text>
<text transform="translate(242.70,2004.80) scale(1.1500,1.0000)" font-family='"Liberation Sans", sans-serif' font-size="14.0" text-anchor="middle" fill="#000" stroke="#000" stroke-width="0.25">0</text>
<text transform="translate(318.10,2004.80) scale(1.1500,1.0000)" font-family='"Liberation Sans", sans-serif' font-size="14.0" text-anchor="start" fill="#000" stroke="#000" stroke-width="0.25">10</text>
<text transform="translate(336.91,1995.84) scale(1.1500,1.0000)" font-family='"Liberation Sans", sans-serif' font-size="13.58" text-anchor="start" fill="#000" stroke="#000" stroke-width="0.25">4</text>
<text transform="translate(406.30,2004.80) scale(1.1500,1.0000)" font-family='"Liberation Sans", sans-serif' font-size="14.0" text-anchor="start" fill="#000" stroke="#000" stroke-width="0.25">10</text>
<text transform="translate(425.11,1995.84) scale(1.1500,1.0000)" font-family='"Liberation Sans", sans-serif' font-size="13.58" text-anchor="start" fill="#000" stroke="#000" stroke-width="0.25">6</text>
<text transform="translate(217.50,2050.70) scale(1.3060,1.0000)" font-family='"Liberation Sans", sans-serif' font-size="16.2" text-anchor="start" fill="#000" stroke="#000" stroke-width="0.25">Comp-FL1-A :: FITC-A</text>
<text transform="translate(86.60,1863.50) scale(1.3000,1) rotate(-90) scale(1.0217,1.0000)" font-family='"Liberation Sans", sans-serif' font-size="17.0" text-anchor="middle" fill="#000" >Comp-FL2-A :: PE-A</text>
<text transform="translate(279.00,1747.90) scale(1.2127,1.0000)" font-family='"Liberation Sans", sans-serif' font-size="20.6" font-weight="bold" text-anchor="start" fill="#000" >Control</text>
<rect x="618.30" y="1757.40" width="269.30" height="213.10" fill="#fff" stroke="#7d7d7d" stroke-width="1.4" />
<rect x="632.25" y="1971.20" width="2.10" height="4.40" fill="#000" stroke="none" stroke-width="0" />
<rect x="635.35" y="1971.20" width="2.10" height="4.40" fill="#000" stroke="none" stroke-width="0" />
<rect x="638.45" y="1971.20" width="2.10" height="4.40" fill="#000" stroke="none" stroke-width="0" />
<rect x="641.55" y="1971.20" width="2.10" height="4.40" fill="#000" stroke="none" stroke-width="0" />
<rect x="644.65" y="1971.20" width="2.10" height="7.00" fill="#000" stroke="none" stroke-width="0" />
<rect x="647.75" y="1971.20" width="2.10" height="4.40" fill="#000" stroke="none" stroke-width="0" />
<rect x="650.85" y="1971.20" width="2.10" height="4.40" fill="#000" stroke="none" stroke-width="0" />
<rect x="653.95" y="1971.20" width="2.10" height="4.40" fill="#000" stroke="none" stroke-width="0" />
<rect x="657.05" y="1971.20" width="2.10" height="4.40" fill="#000" stroke="none" stroke-width="0" />
<rect x="663.41" y="1971.20" width="2.10" height="4.40" fill="#000" stroke="none" stroke-width="0" />
<rect x="666.67" y="1971.20" width="2.10" height="4.40" fill="#000" stroke="none" stroke-width="0" />
<rect x="669.93" y="1971.20" width="2.10" height="4.40" fill="#000" stroke="none" stroke-width="0" />
<rect x="673.19" y="1971.20" width="2.10" height="4.40" fill="#000" stroke="none" stroke-width="0" />
<rect x="676.45" y="1971.20" width="2.10" height="7.00" fill="#000" stroke="none" stroke-width="0" />
<rect x="679.71" y="1971.20" width="2.10" height="4.40" fill="#000" stroke="none" stroke-width="0" />
<rect x="682.97" y="1971.20" width="2.10" height="4.40" fill="#000" stroke="none" stroke-width="0" />
<rect x="686.23" y="1971.20" width="2.10" height="4.40" fill="#000" stroke="none" stroke-width="0" />
<rect x="689.49" y="1971.20" width="2.10" height="4.40" fill="#000" stroke="none" stroke-width="0" />
<rect x="708.34" y="1971.20" width="2.10" height="4.40" fill="#000" stroke="none" stroke-width="0" />
<rect x="717.46" y="1971.20" width="2.10" height="4.40" fill="#000" stroke="none" stroke-width="0" />
<rect x="723.94" y="1971.20" width="2.10" height="4.40" fill="#000" stroke="none" stroke-width="0" />
<rect x="728.96" y="1971.20" width="2.10" height="7.00" fill="#000" stroke="none" stroke-width="0" />
<rect x="733.06" y="1971.20" width="2.10" height="4.40" fill="#000" stroke="none" stroke-width="0" />
<rect x="736.53" y="1971.20" width="2.10" height="4.40" fill="#000" stroke="none" stroke-width="0" />
<rect x="739.53" y="1971.20" width="2.10" height="4.40" fill="#000" stroke="none" stroke-width="0" />
<rect x="742.18" y="1971.20" width="2.10" height="4.40" fill="#000" stroke="none" stroke-width="0" />
<rect x="757.92" y="1971.20" width="2.10" height="4.40" fill="#000" stroke="none" stroke-width="0" />
<rect x="765.73" y="1971.20" width="2.10" height="4.40" fill="#000" stroke="none" stroke-width="0" />
<rect x="771.28" y="1971.20" width="2.10" height="4.40" fill="#000" stroke="none" stroke-width="0" />
<rect x="775.58" y="1971.20" width="2.10" height="7.00" fill="#000" stroke="none" stroke-width="0" />
<rect x="779.10" y="1971.20" width="2.10" height="4.40" fill="#000" stroke="none" stroke-width="0" />
<rect x="782.07" y="1971.20" width="2.10" height="4.40" fill="#000" stroke="none" stroke-width="0" />
<rect x="784.65" y="1971.20" width="2.10" height="4.40" fill="#000" stroke="none" stroke-width="0" />
<rect x="786.92" y="1971.20" width="2.10" height="4.40" fill="#000" stroke="none" stroke-width="0" />
<rect x="802.32" y="1971.20" width="2.10" height="4.40" fill="#000" stroke="none" stroke-width="0" />
<rect x="810.13" y="1971.20" width="2.10" height="4.40" fill="#000" stroke="none" stroke-width="0" />
<rect x="815.68" y="1971.20" width="2.10" height="4.40" fill="#000" stroke="none" stroke-width="0" />
<rect x="819.98" y="1971.20" width="2.10" height="7.00" fill="#000" stroke="none" stroke-width="0" />
<rect x="823.50" y="1971.20" width="2.10" height="4.40" fill="#000" stroke="none" stroke-width="0" />
<rect x="826.47" y="1971.20" width="2.10" height="4.40" fill="#000" stroke="none" stroke-width="0" />
<rect x="829.05" y="1971.20" width="2.10" height="4.40" fill="#000" stroke="none" stroke-width="0" />
<rect x="831.32" y="1971.20" width="2.10" height="4.40" fill="#000" stroke="none" stroke-width="0" />
<rect x="846.26" y="1971.20" width="2.10" height="4.40" fill="#000" stroke="none" stroke-width="0" />
<rect x="853.82" y="1971.20" width="2.10" height="4.40" fill="#000" stroke="none" stroke-width="0" />
<rect x="859.18" y="1971.20" width="2.10" height="4.40" fill="#000" stroke="none" stroke-width="0" />
<rect x="863.34" y="1971.20" width="2.10" height="7.00" fill="#000" stroke="none" stroke-width="0" />
<rect x="866.73" y="1971.20" width="2.10" height="4.40" fill="#000" stroke="none" stroke-width="0" />
<rect x="869.60" y="1971.20" width="2.10" height="4.40" fill="#000" stroke="none" stroke-width="0" />
<rect x="872.09" y="1971.20" width="2.10" height="4.40" fill="#000" stroke="none" stroke-width="0" />
<rect x="874.29" y="1971.20" width="2.10" height="4.40" fill="#000" stroke="none" stroke-width="0" />
<rect x="628.45" y="1971.20" width="3.50" height="10.90" fill="#000" stroke="none" stroke-width="0" />
<rect x="655.90" y="1971.20" width="10.60" height="10.90" fill="#000" stroke="none" stroke-width="0" />
<rect x="692.05" y="1971.20" width="3.50" height="10.90" fill="#000" stroke="none" stroke-width="0" />
<rect x="743.85" y="1971.20" width="3.50" height="10.90" fill="#000" stroke="none" stroke-width="0" />
<rect x="788.25" y="1971.20" width="3.50" height="10.90" fill="#000" stroke="none" stroke-width="0" />
<rect x="832.65" y="1971.20" width="3.50" height="10.90" fill="#000" stroke="none" stroke-width="0" />
<rect x="875.55" y="1971.20" width="3.50" height="10.90" fill="#000" stroke="none" stroke-width="0" />
<rect x="612.60" y="1957.05" width="5.00" height="1.80" fill="#000" stroke="none" stroke-width="0" />
<rect x="612.60" y="1954.60" width="5.00" height="1.80" fill="#000" stroke="none" stroke-width="0" />
<rect x="612.60" y="1952.15" width="5.00" height="1.80" fill="#000" stroke="none" stroke-width="0" />
<rect x="612.60" y="1949.70" width="5.00" height="1.80" fill="#000" stroke="none" stroke-width="0" />
<rect x="608.80" y="1947.25" width="8.80" height="1.80" fill="#000" stroke="none" stroke-width="0" />
<rect x="612.60" y="1944.80" width="5.00" height="1.80" fill="#000" stroke="none" stroke-width="0" />
<rect x="612.60" y="1942.35" width="5.00" height="1.80" fill="#000" stroke="none" stroke-width="0" />
<rect x="612.60" y="1939.90" width="5.00" height="1.80" fill="#000" stroke="none" stroke-width="0" />
<rect x="612.60" y="1937.45" width="5.00" height="1.80" fill="#000" stroke="none" stroke-width="0" />
<rect x="612.60" y="1932.48" width="5.00" height="1.80" fill="#000" stroke="none" stroke-width="0" />
<rect x="612.60" y="1929.96" width="5.00" height="1.80" fill="#000" stroke="none" stroke-width="0" />
<rect x="612.60" y="1927.44" width="5.00" height="1.80" fill="#000" stroke="none" stroke-width="0" />
<rect x="612.60" y="1924.92" width="5.00" height="1.80" fill="#000" stroke="none" stroke-width="0" />
<rect x="608.80" y="1922.40" width="8.80" height="1.80" fill="#000" stroke="none" stroke-width="0" />
<rect x="612.60" y="1919.88" width="5.00" height="1.80" fill="#000" stroke="none" stroke-width="0" />
<rect x="612.60" y="1917.36" width="5.00" height="1.80" fill="#000" stroke="none" stroke-width="0" />
<rect x="612.60" y="1914.84" width="5.00" height="1.80" fill="#000" stroke="none" stroke-width="0" />
<rect x="612.60" y="1912.32" width="5.00" height="1.80" fill="#000" stroke="none" stroke-width="0" />
<rect x="612.60" y="1897.16" width="5.00" height="1.80" fill="#000" stroke="none" stroke-width="0" />
<rect x="612.60" y="1889.76" width="5.00" height="1.80" fill="#000" stroke="none" stroke-width="0" />
<rect x="612.60" y="1884.51" width="5.00" height="1.80" fill="#000" stroke="none" stroke-width="0" />
<rect x="608.80" y="1880.44" width="8.80" height="1.80" fill="#000" stroke="none" stroke-width="0" />
<rect x="612.60" y="1877.12" width="5.00" height="1.80" fill="#000" stroke="none" stroke-width="0" />
<rect x="612.60" y="1874.31" width="5.00" height="1.80" fill="#000" stroke="none" stroke-width="0" />
<rect x="612.60" y="1871.87" width="5.00" height="1.80" fill="#000" stroke="none" stroke-width="0" />
<rect x="612.60" y="1869.72" width="5.00" height="1.80" fill="#000" stroke="none" stroke-width="0" />
<rect x="612.60" y="1857.38" width="5.00" height="1.80" fill="#000" stroke="none" stroke-width="0" />
<rect x="612.60" y="1851.29" width="5.00" height="1.80" fill="#000" stroke="none" stroke-width="0" />
<rect x="612.60" y="1846.97" width="5.00" height="1.80" fill="#000" stroke="none" stroke-width="0" />
<rect x="608.80" y="1843.62" width="8.80" height="1.80" fill="#000" stroke="none" stroke-width="0" />
<rect x="612.60" y="1840.88" width="5.00" height="1.80" fill="#000" stroke="none" stroke-width="0" />
<rect x="612.60" y="1838.56" width="5.00" height="1.80" fill="#000" stroke="none" stroke-width="0" />
<rect x="612.60" y="1836.55" width="5.00" height="1.80" fill="#000" stroke="none" stroke-width="0" />
<rect x="612.60" y="1834.78" width="5.00" height="1.80" fill="#000" stroke="none" stroke-width="0" />
<rect x="612.60" y="1822.84" width="5.00" height="1.80" fill="#000" stroke="none" stroke-width="0" />
<rect x="612.60" y="1816.79" width="5.00" height="1.80" fill="#000" stroke="none" stroke-width="0" />
<rect x="612.60" y="1812.49" width="5.00" height="1.80" fill="#000" stroke="none" stroke-width="0" />
<rect x="608.80" y="1809.16" width="8.80" height="1.80" fill="#000" stroke="none" stroke-width="0" />
<rect x="612.60" y="1806.43" width="5.00" height="1.80" fill="#000" stroke="none" stroke-width="0" />
<rect x="612.60" y="1804.13" width="5.00" height="1.80" fill="#000" stroke="none" stroke-width="0" />
<rect x="612.60" y="1802.13" width="5.00" height="1.80" fill="#000" stroke="none" stroke-width="0" />
<rect x="612.60" y="1800.37" width="5.00" height="1.80" fill="#000" stroke="none" stroke-width="0" />
<rect x="612.60" y="1788.38" width="5.00" height="1.80" fill="#000" stroke="none" stroke-width="0" />
<rect x="612.60" y="1782.29" width="5.00" height="1.80" fill="#000" stroke="none" stroke-width="0" />
<rect x="612.60" y="1777.97" width="5.00" height="1.80" fill="#000" stroke="none" stroke-width="0" />
<rect x="608.80" y="1774.62" width="8.80" height="1.80" fill="#000" stroke="none" stroke-width="0" />
<rect x="612.60" y="1771.88" width="5.00" height="1.80" fill="#000" stroke="none" stroke-width="0" />
<rect x="612.60" y="1769.56" width="5.00" height="1.80" fill="#000" stroke="none" stroke-width="0" />
<rect x="612.60" y="1767.55" width="5.00" height="1.80" fill="#000" stroke="none" stroke-width="0" />
<rect x="612.60" y="1765.78" width="5.00" height="1.80" fill="#000" stroke="none" stroke-width="0" />
<rect x="604.40" y="1958.75" width="13.20" height="3.30" fill="#000" stroke="none" stroke-width="0" />
<rect x="604.40" y="1931.90" width="13.20" height="8.00" fill="#000" stroke="none" stroke-width="0" />
<rect x="604.40" y="1909.05" width="13.20" height="3.30" fill="#000" stroke="none" stroke-width="0" />
<rect x="604.40" y="1867.05" width="13.20" height="3.30" fill="#000" stroke="none" stroke-width="0" />
<rect x="604.40" y="1832.45" width="13.20" height="3.30" fill="#000" stroke="none" stroke-width="0" />
<rect x="604.40" y="1798.05" width="13.20" height="3.30" fill="#000" stroke="none" stroke-width="0" />
<rect x="604.40" y="1763.45" width="13.20" height="3.30" fill="#000" stroke="none" stroke-width="0" />
<g filter="url(#cmap)">
<rect x="695.3" y="1812.0" width="94.4" height="114.4" fill="#000"/>
<g clip-path="url(#ol30)">
<rect x="695.3" y="1812.0" width="94.4" height="114.4" fill="#383838"/>
<ellipse cx="0" cy="0" rx="1" ry="1" transform="translate(741.05,1889.16) rotate(-36) scale(43.92,16.73)" fill="url(#pg31)" style="mix-blend-mode:lighten"/>
<ellipse cx="0" cy="0" rx="1" ry="1" transform="translate(743.27,1835.89) rotate(-15) scale(17.02,11.10)" fill="url(#pg32)" style="mix-blend-mode:lighten"/>
<ellipse cx="0" cy="0" rx="1" ry="1" transform="translate(745.12,1883.24) rotate(-35) scale(12.43,6.21)" fill="url(#pg33)" style="mix-blend-mode:lighten"/>
</g></g>
<line x1="748.80" y1="1757.40" x2="748.80" y2="1970.50" stroke="#111" stroke-width="1.5" stroke-linecap="butt"/>
<line x1="618.30" y1="1868.70" x2="887.60" y2="1868.70" stroke="#111" stroke-width="1.5" stroke-linecap="butt"/>
<text transform="translate(623.30,1774.00) scale(1.2000,1.0000)" font-family='"Liberation Sans", sans-serif' font-size="9.6" text-anchor="start" fill="#111" stroke="#111" stroke-width="0.2">Q1</text>
<text transform="translate(623.30,1787.80) scale(1.2000,1.0000)" font-family='"Liberation Sans", sans-serif' font-size="9.6" text-anchor="start" fill="#111" stroke="#111" stroke-width="0.2">4.07</text>
<text transform="translate(864.40,1774.00) scale(1.2000,1.0000)" font-family='"Liberation Sans", sans-serif' font-size="9.6" text-anchor="end" fill="#111" stroke="#111" stroke-width="0.2">Q2</text>
<text transform="translate(864.40,1787.80) scale(1.2000,1.0000)" font-family='"Liberation Sans", sans-serif' font-size="9.6" text-anchor="end" fill="#111" stroke="#111" stroke-width="0.2">4.93</text>
<text transform="translate(864.40,1945.10) scale(1.2000,1.0000)" font-family='"Liberation Sans", sans-serif' font-size="9.6" text-anchor="end" fill="#111" stroke="#111" stroke-width="0.2">Q3</text>
<text transform="translate(864.40,1958.60) scale(1.2000,1.0000)" font-family='"Liberation Sans", sans-serif' font-size="9.6" text-anchor="end" fill="#111" stroke="#111" stroke-width="0.2">22.6</text>
<text transform="translate(623.30,1945.10) scale(1.2000,1.0000)" font-family='"Liberation Sans", sans-serif' font-size="9.6" text-anchor="start" fill="#111" stroke="#111" stroke-width="0.2">Q4</text>
<text transform="translate(623.30,1958.60) scale(1.2000,1.0000)" font-family='"Liberation Sans", sans-serif' font-size="9.6" text-anchor="start" fill="#111" stroke="#111" stroke-width="0.2">68.4</text>
<text transform="translate(567.30,1780.70) scale(1.1500,1.0000)" font-family='"Liberation Sans", sans-serif' font-size="14.0" text-anchor="start" fill="#000" stroke="#000" stroke-width="0.25">10</text>
<text transform="translate(585.81,1771.46) scale(1.1500,1.0000)" font-family='"Liberation Sans", sans-serif' font-size="13.58" text-anchor="start" fill="#000" stroke="#000" stroke-width="0.25">7</text>
<text transform="translate(567.30,1807.90) scale(1.1500,1.0000)" font-family='"Liberation Sans", sans-serif' font-size="14.0" text-anchor="start" fill="#000" stroke="#000" stroke-width="0.25">10</text>
<text transform="translate(585.81,1798.66) scale(1.1500,1.0000)" font-family='"Liberation Sans", sans-serif' font-size="13.58" text-anchor="start" fill="#000" stroke="#000" stroke-width="0.25">6</text>
<text transform="translate(567.30,1842.30) scale(1.1500,1.0000)" font-family='"Liberation Sans", sans-serif' font-size="14.0" text-anchor="start" fill="#000" stroke="#000" stroke-width="0.25">10</text>
<text transform="translate(585.81,1833.06) scale(1.1500,1.0000)" font-family='"Liberation Sans", sans-serif' font-size="13.58" text-anchor="start" fill="#000" stroke="#000" stroke-width="0.25">5</text>
<text transform="translate(567.30,1876.90) scale(1.1500,1.0000)" font-family='"Liberation Sans", sans-serif' font-size="14.0" text-anchor="start" fill="#000" stroke="#000" stroke-width="0.25">10</text>
<text transform="translate(585.81,1867.66) scale(1.1500,1.0000)" font-family='"Liberation Sans", sans-serif' font-size="13.58" text-anchor="start" fill="#000" stroke="#000" stroke-width="0.25">4</text>
<text transform="translate(575.70,1940.70) scale(1.1500,1.0000)" font-family='"Liberation Sans", sans-serif' font-size="14.0" text-anchor="start" fill="#000" stroke="#000" stroke-width="0.25">0</text>
<text transform="translate(670.70,2004.80) scale(1.1500,1.0000)" font-family='"Liberation Sans", sans-serif' font-size="14.0" text-anchor="middle" fill="#000" stroke="#000" stroke-width="0.25">0</text>
<text transform="translate(745.60,2004.80) scale(1.1500,1.0000)" font-family='"Liberation Sans", sans-serif' font-size="14.0" text-anchor="start" fill="#000" stroke="#000" stroke-width="0.25">10</text>
<text transform="translate(764.41,1995.84) scale(1.1500,1.0000)" font-family='"Liberation Sans", sans-serif' font-size="13.58" text-anchor="start" fill="#000" stroke="#000" stroke-width="0.25">4</text>
<text transform="translate(834.40,2004.80) scale(1.1500,1.0000)" font-family='"Liberation Sans", sans-serif' font-size="14.0" text-anchor="start" fill="#000" stroke="#000" stroke-width="0.25">10</text>
<text transform="translate(853.21,1995.84) scale(1.1500,1.0000)" font-family='"Liberation Sans", sans-serif' font-size="13.58" text-anchor="start" fill="#000" stroke="#000" stroke-width="0.25">6</text>
<text transform="translate(645.50,2050.70) scale(1.3023,1.0000)" font-family='"Liberation Sans", sans-serif' font-size="16.2" text-anchor="start" fill="#000" stroke="#000" stroke-width="0.25">Comp-FL1-A :: FITC-A</text>
<text transform="translate(515.00,1863.50) scale(1.3000,1) rotate(-90) scale(1.0217,1.0000)" font-family='"Liberation Sans", sans-serif' font-size="17.0" text-anchor="middle" fill="#000" >Comp-FL2-A :: PE-A</text>
<text transform="translate(665.10,1747.90) scale(1.1825,1.0000)" font-family='"Liberation Sans", sans-serif' font-size="20.6" font-weight="bold" text-anchor="start" fill="#000" >Gemcitabine</text>
<rect x="192.40" y="2113.90" width="275.20" height="213.30" fill="#fff" stroke="#7d7d7d" stroke-width="1.4" />
<rect x="206.40" y="2327.90" width="2.10" height="4.40" fill="#000" stroke="none" stroke-width="0" />
<rect x="209.65" y="2327.90" width="2.10" height="4.40" fill="#000" stroke="none" stroke-width="0" />
<rect x="212.90" y="2327.90" width="2.10" height="4.40" fill="#000" stroke="none" stroke-width="0" />
<rect x="216.15" y="2327.90" width="2.10" height="4.40" fill="#000" stroke="none" stroke-width="0" />
<rect x="219.40" y="2327.90" width="2.10" height="7.00" fill="#000" stroke="none" stroke-width="0" />
<rect x="222.65" y="2327.90" width="2.10" height="4.40" fill="#000" stroke="none" stroke-width="0" />
<rect x="225.90" y="2327.90" width="2.10" height="4.40" fill="#000" stroke="none" stroke-width="0" />
<rect x="229.15" y="2327.90" width="2.10" height="4.40" fill="#000" stroke="none" stroke-width="0" />
<rect x="232.40" y="2327.90" width="2.10" height="4.40" fill="#000" stroke="none" stroke-width="0" />
<rect x="238.76" y="2327.90" width="2.10" height="4.40" fill="#000" stroke="none" stroke-width="0" />
<rect x="241.87" y="2327.90" width="2.10" height="4.40" fill="#000" stroke="none" stroke-width="0" />
<rect x="244.98" y="2327.90" width="2.10" height="4.40" fill="#000" stroke="none" stroke-width="0" />
<rect x="248.09" y="2327.90" width="2.10" height="4.40" fill="#000" stroke="none" stroke-width="0" />
<rect x="251.20" y="2327.90" width="2.10" height="7.00" fill="#000" stroke="none" stroke-width="0" />
<rect x="254.31" y="2327.90" width="2.10" height="4.40" fill="#000" stroke="none" stroke-width="0" />
<rect x="257.42" y="2327.90" width="2.10" height="4.40" fill="#000" stroke="none" stroke-width="0" />
<rect x="260.53" y="2327.90" width="2.10" height="4.40" fill="#000" stroke="none" stroke-width="0" />
<rect x="263.64" y="2327.90" width="2.10" height="4.40" fill="#000" stroke="none" stroke-width="0" />
<rect x="283.07" y="2327.90" width="2.10" height="4.40" fill="#000" stroke="none" stroke-width="0" />
<rect x="292.61" y="2327.90" width="2.10" height="4.40" fill="#000" stroke="none" stroke-width="0" />
<rect x="299.38" y="2327.90" width="2.10" height="4.40" fill="#000" stroke="none" stroke-width="0" />
<rect x="304.63" y="2327.90" width="2.10" height="7.00" fill="#000" stroke="none" stroke-width="0" />
<rect x="308.93" y="2327.90" width="2.10" height="4.40" fill="#000" stroke="none" stroke-width="0" />
<rect x="312.55" y="2327.90" width="2.10" height="4.40" fill="#000" stroke="none" stroke-width="0" />
<rect x="315.70" y="2327.90" width="2.10" height="4.40" fill="#000" stroke="none" stroke-width="0" />
<rect x="318.47" y="2327.90" width="2.10" height="4.40" fill="#000" stroke="none" stroke-width="0" />
<rect x="334.74" y="2327.90" width="2.10" height="4.40" fill="#000" stroke="none" stroke-width="0" />
<rect x="342.80" y="2327.90" width="2.10" height="4.40" fill="#000" stroke="none" stroke-width="0" />
<rect x="348.52" y="2327.90" width="2.10" height="4.40" fill="#000" stroke="none" stroke-width="0" />
<rect x="352.96" y="2327.90" width="2.10" height="7.00" fill="#000" stroke="none" stroke-width="0" />
<rect x="356.59" y="2327.90" width="2.10" height="4.40" fill="#000" stroke="none" stroke-width="0" />
<rect x="359.66" y="2327.90" width="2.10" height="4.40" fill="#000" stroke="none" stroke-width="0" />
<rect x="362.31" y="2327.90" width="2.10" height="4.40" fill="#000" stroke="none" stroke-width="0" />
<rect x="364.65" y="2327.90" width="2.10" height="4.40" fill="#000" stroke="none" stroke-width="0" />
<rect x="380.03" y="2327.90" width="2.10" height="4.40" fill="#000" stroke="none" stroke-width="0" />
<rect x="387.79" y="2327.90" width="2.10" height="4.40" fill="#000" stroke="none" stroke-width="0" />
<rect x="393.30" y="2327.90" width="2.10" height="4.40" fill="#000" stroke="none" stroke-width="0" />
<rect x="397.57" y="2327.90" width="2.10" height="7.00" fill="#000" stroke="none" stroke-width="0" />
<rect x="401.07" y="2327.90" width="2.10" height="4.40" fill="#000" stroke="none" stroke-width="0" />
<rect x="404.02" y="2327.90" width="2.10" height="4.40" fill="#000" stroke="none" stroke-width="0" />
<rect x="406.58" y="2327.90" width="2.10" height="4.40" fill="#000" stroke="none" stroke-width="0" />
<rect x="408.83" y="2327.90" width="2.10" height="4.40" fill="#000" stroke="none" stroke-width="0" />
<rect x="424.31" y="2327.90" width="2.10" height="4.40" fill="#000" stroke="none" stroke-width="0" />
<rect x="432.18" y="2327.90" width="2.10" height="4.40" fill="#000" stroke="none" stroke-width="0" />
<rect x="437.76" y="2327.90" width="2.10" height="4.40" fill="#000" stroke="none" stroke-width="0" />
<rect x="442.09" y="2327.90" width="2.10" height="7.00" fill="#000" stroke="none" stroke-width="0" />
<rect x="445.63" y="2327.90" width="2.10" height="4.40" fill="#000" stroke="none" stroke-width="0" />
<rect x="448.63" y="2327.90" width="2.10" height="4.40" fill="#000" stroke="none" stroke-width="0" />
<rect x="451.22" y="2327.90" width="2.10" height="4.40" fill="#000" stroke="none" stroke-width="0" />
<rect x="453.50" y="2327.90" width="2.10" height="4.40" fill="#000" stroke="none" stroke-width="0" />
<rect x="202.45" y="2327.90" width="3.50" height="10.90" fill="#000" stroke="none" stroke-width="0" />
<rect x="231.40" y="2327.90" width="10.60" height="10.90" fill="#000" stroke="none" stroke-width="0" />
<rect x="266.05" y="2327.90" width="3.50" height="10.90" fill="#000" stroke="none" stroke-width="0" />
<rect x="320.25" y="2327.90" width="3.50" height="10.90" fill="#000" stroke="none" stroke-width="0" />
<rect x="366.05" y="2327.90" width="3.50" height="10.90" fill="#000" stroke="none" stroke-width="0" />
<rect x="410.15" y="2327.90" width="3.50" height="10.90" fill="#000" stroke="none" stroke-width="0" />
<rect x="454.85" y="2327.90" width="3.50" height="10.90" fill="#000" stroke="none" stroke-width="0" />
<rect x="186.70" y="2313.48" width="5.00" height="1.80" fill="#000" stroke="none" stroke-width="0" />
<rect x="186.70" y="2310.96" width="5.00" height="1.80" fill="#000" stroke="none" stroke-width="0" />
<rect x="186.70" y="2308.44" width="5.00" height="1.80" fill="#000" stroke="none" stroke-width="0" />
<rect x="186.70" y="2305.92" width="5.00" height="1.80" fill="#000" stroke="none" stroke-width="0" />
<rect x="182.90" y="2303.40" width="8.80" height="1.80" fill="#000" stroke="none" stroke-width="0" />
<rect x="186.70" y="2300.88" width="5.00" height="1.80" fill="#000" stroke="none" stroke-width="0" />
<rect x="186.70" y="2298.36" width="5.00" height="1.80" fill="#000" stroke="none" stroke-width="0" />
<rect x="186.70" y="2295.84" width="5.00" height="1.80" fill="#000" stroke="none" stroke-width="0" />
<rect x="186.70" y="2293.32" width="5.00" height="1.80" fill="#000" stroke="none" stroke-width="0" />
<rect x="186.70" y="2288.40" width="5.00" height="1.80" fill="#000" stroke="none" stroke-width="0" />
<rect x="186.70" y="2286.00" width="5.00" height="1.80" fill="#000" stroke="none" stroke-width="0" />
<rect x="186.70" y="2283.60" width="5.00" height="1.80" fill="#000" stroke="none" stroke-width="0" />
<rect x="186.70" y="2281.20" width="5.00" height="1.80" fill="#000" stroke="none" stroke-width="0" />
<rect x="182.90" y="2278.80" width="8.80" height="1.80" fill="#000" stroke="none" stroke-width="0" />
<rect x="186.70" y="2276.40" width="5.00" height="1.80" fill="#000" stroke="none" stroke-width="0" />
<rect x="186.70" y="2274.00" width="5.00" height="1.80" fill="#000" stroke="none" stroke-width="0" />
<rect x="186.70" y="2271.60" width="5.00" height="1.80" fill="#000" stroke="none" stroke-width="0" />
<rect x="186.70" y="2269.20" width="5.00" height="1.80" fill="#000" stroke="none" stroke-width="0" />
<rect x="186.70" y="2253.98" width="5.00" height="1.80" fill="#000" stroke="none" stroke-width="0" />
<rect x="186.70" y="2246.47" width="5.00" height="1.80" fill="#000" stroke="none" stroke-width="0" />
<rect x="186.70" y="2241.15" width="5.00" height="1.80" fill="#000" stroke="none" stroke-width="0" />
<rect x="182.90" y="2237.02" width="8.80" height="1.80" fill="#000" stroke="none" stroke-width="0" />
<rect x="186.70" y="2233.65" width="5.00" height="1.80" fill="#000" stroke="none" stroke-width="0" />
<rect x="186.70" y="2230.80" width="5.00" height="1.80" fill="#000" stroke="none" stroke-width="0" />
<rect x="186.70" y="2228.33" width="5.00" height="1.80" fill="#000" stroke="none" stroke-width="0" />
<rect x="186.70" y="2226.15" width="5.00" height="1.80" fill="#000" stroke="none" stroke-width="0" />
<rect x="186.70" y="2213.69" width="5.00" height="1.80" fill="#000" stroke="none" stroke-width="0" />
<rect x="186.70" y="2207.55" width="5.00" height="1.80" fill="#000" stroke="none" stroke-width="0" />
<rect x="186.70" y="2203.19" width="5.00" height="1.80" fill="#000" stroke="none" stroke-width="0" />
<rect x="182.90" y="2199.81" width="8.80" height="1.80" fill="#000" stroke="none" stroke-width="0" />
<rect x="186.70" y="2197.04" width="5.00" height="1.80" fill="#000" stroke="none" stroke-width="0" />
<rect x="186.70" y="2194.71" width="5.00" height="1.80" fill="#000" stroke="none" stroke-width="0" />
<rect x="186.70" y="2192.68" width="5.00" height="1.80" fill="#000" stroke="none" stroke-width="0" />
<rect x="186.70" y="2190.90" width="5.00" height="1.80" fill="#000" stroke="none" stroke-width="0" />
<rect x="186.70" y="2179.06" width="5.00" height="1.80" fill="#000" stroke="none" stroke-width="0" />
<rect x="186.70" y="2173.08" width="5.00" height="1.80" fill="#000" stroke="none" stroke-width="0" />
<rect x="186.70" y="2168.83" width="5.00" height="1.80" fill="#000" stroke="none" stroke-width="0" />
<rect x="182.90" y="2165.54" width="8.80" height="1.80" fill="#000" stroke="none" stroke-width="0" />
<rect x="186.70" y="2162.84" width="5.00" height="1.80" fill="#000" stroke="none" stroke-width="0" />
<rect x="186.70" y="2160.57" width="5.00" height="1.80" fill="#000" stroke="none" stroke-width="0" />
<rect x="186.70" y="2158.59" width="5.00" height="1.80" fill="#000" stroke="none" stroke-width="0" />
<rect x="186.70" y="2156.86" width="5.00" height="1.80" fill="#000" stroke="none" stroke-width="0" />
<rect x="186.70" y="2145.03" width="5.00" height="1.80" fill="#000" stroke="none" stroke-width="0" />
<rect x="186.70" y="2139.03" width="5.00" height="1.80" fill="#000" stroke="none" stroke-width="0" />
<rect x="186.70" y="2134.77" width="5.00" height="1.80" fill="#000" stroke="none" stroke-width="0" />
<rect x="182.90" y="2131.47" width="8.80" height="1.80" fill="#000" stroke="none" stroke-width="0" />
<rect x="186.70" y="2128.77" width="5.00" height="1.80" fill="#000" stroke="none" stroke-width="0" />
<rect x="186.70" y="2126.48" width="5.00" height="1.80" fill="#000" stroke="none" stroke-width="0" />
<rect x="186.70" y="2124.50" width="5.00" height="1.80" fill="#000" stroke="none" stroke-width="0" />
<rect x="186.70" y="2122.76" width="5.00" height="1.80" fill="#000" stroke="none" stroke-width="0" />
<rect x="178.50" y="2315.25" width="13.20" height="3.30" fill="#000" stroke="none" stroke-width="0" />
<rect x="178.50" y="2287.70" width="13.20" height="8.00" fill="#000" stroke="none" stroke-width="0" />
<rect x="178.50" y="2266.05" width="13.20" height="3.30" fill="#000" stroke="none" stroke-width="0" />
<rect x="178.50" y="2223.45" width="13.20" height="3.30" fill="#000" stroke="none" stroke-width="0" />
<rect x="178.50" y="2188.55" width="13.20" height="3.30" fill="#000" stroke="none" stroke-width="0" />
<rect x="178.50" y="2154.55" width="13.20" height="3.30" fill="#000" stroke="none" stroke-width="0" />
<rect x="178.50" y="2120.45" width="13.20" height="3.30" fill="#000" stroke="none" stroke-width="0" />
<g filter="url(#cmap)">
<rect x="272.9" y="2170.7" width="102.9" height="110.3" fill="#000"/>
<g clip-path="url(#ol34)">
<rect x="272.9" y="2170.7" width="102.9" height="110.3" fill="#383838"/>
<ellipse cx="0" cy="0" rx="1" ry="1" transform="translate(315.31,2244.53) rotate(-34) scale(35.60,15.70)" fill="url(#pg35)" style="mix-blend-mode:lighten"/>
<ellipse cx="0" cy="0" rx="1" ry="1" transform="translate(316.79,2241.20) rotate(-33) scale(11.19,6.21)" fill="url(#pg36)" style="mix-blend-mode:lighten"/>
</g></g>
<line x1="325.50" y1="2113.90" x2="325.50" y2="2327.20" stroke="#111" stroke-width="1.5" stroke-linecap="butt"/>
<line x1="192.40" y1="2225.10" x2="467.60" y2="2225.10" stroke="#111" stroke-width="1.5" stroke-linecap="butt"/>
<text transform="translate(197.40,2130.50) scale(1.2000,1.0000)" font-family='"Liberation Sans", sans-serif' font-size="9.6" text-anchor="start" fill="#111" stroke="#111" stroke-width="0.2">Q1</text>
<text transform="translate(197.40,2144.30) scale(1.2000,1.0000)" font-family='"Liberation Sans", sans-serif' font-size="9.6" text-anchor="start" fill="#111" stroke="#111" stroke-width="0.2">0.79</text>
<text transform="translate(444.40,2130.50) scale(1.2000,1.0000)" font-family='"Liberation Sans", sans-serif' font-size="9.6" text-anchor="end" fill="#111" stroke="#111" stroke-width="0.2">Q2</text>
<text transform="translate(444.40,2144.30) scale(1.2000,1.0000)" font-family='"Liberation Sans", sans-serif' font-size="9.6" text-anchor="end" fill="#111" stroke="#111" stroke-width="0.2">2.85</text>
<text transform="translate(444.40,2301.80) scale(1.2000,1.0000)" font-family='"Liberation Sans", sans-serif' font-size="9.6" text-anchor="end" fill="#111" stroke="#111" stroke-width="0.2">Q3</text>
<text transform="translate(444.40,2315.30) scale(1.2000,1.0000)" font-family='"Liberation Sans", sans-serif' font-size="9.6" text-anchor="end" fill="#111" stroke="#111" stroke-width="0.2">10.4</text>
<text transform="translate(197.40,2301.80) scale(1.2000,1.0000)" font-family='"Liberation Sans", sans-serif' font-size="9.6" text-anchor="start" fill="#111" stroke="#111" stroke-width="0.2">Q4</text>
<text transform="translate(197.40,2315.30) scale(1.2000,1.0000)" font-family='"Liberation Sans", sans-serif' font-size="9.6" text-anchor="start" fill="#111" stroke="#111" stroke-width="0.2">86.0</text>
<text transform="translate(141.80,2137.70) scale(1.1500,1.0000)" font-family='"Liberation Sans", sans-serif' font-size="14.0" text-anchor="start" fill="#000" stroke="#000" stroke-width="0.25">10</text>
<text transform="translate(160.31,2128.46) scale(1.1500,1.0000)" font-family='"Liberation Sans", sans-serif' font-size="13.58" text-anchor="start" fill="#000" stroke="#000" stroke-width="0.25">7</text>
<text transform="translate(141.80,2164.40) scale(1.1500,1.0000)" font-family='"Liberation Sans", sans-serif' font-size="14.0" text-anchor="start" fill="#000" stroke="#000" stroke-width="0.25">10</text>
<text transform="translate(160.31,2155.16) scale(1.1500,1.0000)" font-family='"Liberation Sans", sans-serif' font-size="13.58" text-anchor="start" fill="#000" stroke="#000" stroke-width="0.25">6</text>
<text transform="translate(141.80,2198.40) scale(1.1500,1.0000)" font-family='"Liberation Sans", sans-serif' font-size="14.0" text-anchor="start" fill="#000" stroke="#000" stroke-width="0.25">10</text>
<text transform="translate(160.31,2189.16) scale(1.1500,1.0000)" font-family='"Liberation Sans", sans-serif' font-size="13.58" text-anchor="start" fill="#000" stroke="#000" stroke-width="0.25">5</text>
<text transform="translate(141.80,2233.30) scale(1.1500,1.0000)" font-family='"Liberation Sans", sans-serif' font-size="14.0" text-anchor="start" fill="#000" stroke="#000" stroke-width="0.25">10</text>
<text transform="translate(160.31,2224.06) scale(1.1500,1.0000)" font-family='"Liberation Sans", sans-serif' font-size="13.58" text-anchor="start" fill="#000" stroke="#000" stroke-width="0.25">4</text>
<text transform="translate(150.20,2296.50) scale(1.1500,1.0000)" font-family='"Liberation Sans", sans-serif' font-size="14.0" text-anchor="start" fill="#000" stroke="#000" stroke-width="0.25">0</text>
<text transform="translate(246.50,2361.30) scale(1.1500,1.0000)" font-family='"Liberation Sans", sans-serif' font-size="14.0" text-anchor="middle" fill="#000" stroke="#000" stroke-width="0.25">0</text>
<text transform="translate(322.00,2361.30) scale(1.1500,1.0000)" font-family='"Liberation Sans", sans-serif' font-size="14.0" text-anchor="start" fill="#000" stroke="#000" stroke-width="0.25">10</text>
<text transform="translate(340.81,2352.34) scale(1.1500,1.0000)" font-family='"Liberation Sans", sans-serif' font-size="13.58" text-anchor="start" fill="#000" stroke="#000" stroke-width="0.25">4</text>
<text transform="translate(412.80,2361.30) scale(1.1500,1.0000)" font-family='"Liberation Sans", sans-serif' font-size="14.0" text-anchor="start" fill="#000" stroke="#000" stroke-width="0.25">10</text>
<text transform="translate(431.61,2352.34) scale(1.1500,1.0000)" font-family='"Liberation Sans", sans-serif' font-size="13.58" text-anchor="start" fill="#000" stroke="#000" stroke-width="0.25">6</text>
<text transform="translate(221.40,2406.80) scale(1.3060,1.0000)" font-family='"Liberation Sans", sans-serif' font-size="16.2" text-anchor="start" fill="#000" stroke="#000" stroke-width="0.25">Comp-FL1-A :: FITC-A</text>
<text transform="translate(89.00,2219.50) scale(1.3000,1) rotate(-90) scale(1.0282,1.0000)" font-family='"Liberation Sans", sans-serif' font-size="17.0" text-anchor="middle" fill="#000" >Comp-FL2-A :: PE-A</text>
<text transform="translate(272.80,2441.80) scale(1.1924,1.0000)" font-family='"Liberation Sans", sans-serif' font-size="20.6" font-weight="bold" text-anchor="start" fill="#000" >si-ITGB4</text>
<rect x="612.70" y="2121.90" width="278.50" height="212.70" fill="#fff" stroke="#7d7d7d" stroke-width="1.4" />
<rect x="626.41" y="2335.30" width="2.10" height="4.40" fill="#000" stroke="none" stroke-width="0" />
<rect x="629.67" y="2335.30" width="2.10" height="4.40" fill="#000" stroke="none" stroke-width="0" />
<rect x="632.93" y="2335.30" width="2.10" height="4.40" fill="#000" stroke="none" stroke-width="0" />
<rect x="636.19" y="2335.30" width="2.10" height="4.40" fill="#000" stroke="none" stroke-width="0" />
<rect x="639.45" y="2335.30" width="2.10" height="7.00" fill="#000" stroke="none" stroke-width="0" />
<rect x="642.71" y="2335.30" width="2.10" height="4.40" fill="#000" stroke="none" stroke-width="0" />
<rect x="645.97" y="2335.30" width="2.10" height="4.40" fill="#000" stroke="none" stroke-width="0" />
<rect x="649.23" y="2335.30" width="2.10" height="4.40" fill="#000" stroke="none" stroke-width="0" />
<rect x="652.49" y="2335.30" width="2.10" height="4.40" fill="#000" stroke="none" stroke-width="0" />
<rect x="659.09" y="2335.30" width="2.10" height="4.40" fill="#000" stroke="none" stroke-width="0" />
<rect x="662.43" y="2335.30" width="2.10" height="4.40" fill="#000" stroke="none" stroke-width="0" />
<rect x="665.77" y="2335.30" width="2.10" height="4.40" fill="#000" stroke="none" stroke-width="0" />
<rect x="669.11" y="2335.30" width="2.10" height="4.40" fill="#000" stroke="none" stroke-width="0" />
<rect x="672.45" y="2335.30" width="2.10" height="7.00" fill="#000" stroke="none" stroke-width="0" />
<rect x="675.79" y="2335.30" width="2.10" height="4.40" fill="#000" stroke="none" stroke-width="0" />
<rect x="679.13" y="2335.30" width="2.10" height="4.40" fill="#000" stroke="none" stroke-width="0" />
<rect x="682.47" y="2335.30" width="2.10" height="4.40" fill="#000" stroke="none" stroke-width="0" />
<rect x="685.81" y="2335.30" width="2.10" height="4.40" fill="#000" stroke="none" stroke-width="0" />
<rect x="705.38" y="2335.30" width="2.10" height="4.40" fill="#000" stroke="none" stroke-width="0" />
<rect x="714.87" y="2335.30" width="2.10" height="4.40" fill="#000" stroke="none" stroke-width="0" />
<rect x="721.60" y="2335.30" width="2.10" height="4.40" fill="#000" stroke="none" stroke-width="0" />
<rect x="726.82" y="2335.30" width="2.10" height="7.00" fill="#000" stroke="none" stroke-width="0" />
<rect x="731.09" y="2335.30" width="2.10" height="4.40" fill="#000" stroke="none" stroke-width="0" />
<rect x="734.70" y="2335.30" width="2.10" height="4.40" fill="#000" stroke="none" stroke-width="0" />
<rect x="737.83" y="2335.30" width="2.10" height="4.40" fill="#000" stroke="none" stroke-width="0" />
<rect x="740.58" y="2335.30" width="2.10" height="4.40" fill="#000" stroke="none" stroke-width="0" />
<rect x="756.60" y="2335.30" width="2.10" height="4.40" fill="#000" stroke="none" stroke-width="0" />
<rect x="764.52" y="2335.30" width="2.10" height="4.40" fill="#000" stroke="none" stroke-width="0" />
<rect x="770.14" y="2335.30" width="2.10" height="4.40" fill="#000" stroke="none" stroke-width="0" />
<rect x="774.50" y="2335.30" width="2.10" height="7.00" fill="#000" stroke="none" stroke-width="0" />
<rect x="778.07" y="2335.30" width="2.10" height="4.40" fill="#000" stroke="none" stroke-width="0" />
<rect x="781.08" y="2335.30" width="2.10" height="4.40" fill="#000" stroke="none" stroke-width="0" />
<rect x="783.69" y="2335.30" width="2.10" height="4.40" fill="#000" stroke="none" stroke-width="0" />
<rect x="785.99" y="2335.30" width="2.10" height="4.40" fill="#000" stroke="none" stroke-width="0" />
<rect x="801.93" y="2335.30" width="2.10" height="4.40" fill="#000" stroke="none" stroke-width="0" />
<rect x="810.05" y="2335.30" width="2.10" height="4.40" fill="#000" stroke="none" stroke-width="0" />
<rect x="815.80" y="2335.30" width="2.10" height="4.40" fill="#000" stroke="none" stroke-width="0" />
<rect x="820.27" y="2335.30" width="2.10" height="7.00" fill="#000" stroke="none" stroke-width="0" />
<rect x="823.92" y="2335.30" width="2.10" height="4.40" fill="#000" stroke="none" stroke-width="0" />
<rect x="827.01" y="2335.30" width="2.10" height="4.40" fill="#000" stroke="none" stroke-width="0" />
<rect x="829.68" y="2335.30" width="2.10" height="4.40" fill="#000" stroke="none" stroke-width="0" />
<rect x="832.04" y="2335.30" width="2.10" height="4.40" fill="#000" stroke="none" stroke-width="0" />
<rect x="847.70" y="2335.30" width="2.10" height="4.40" fill="#000" stroke="none" stroke-width="0" />
<rect x="855.62" y="2335.30" width="2.10" height="4.40" fill="#000" stroke="none" stroke-width="0" />
<rect x="861.24" y="2335.30" width="2.10" height="4.40" fill="#000" stroke="none" stroke-width="0" />
<rect x="865.60" y="2335.30" width="2.10" height="7.00" fill="#000" stroke="none" stroke-width="0" />
<rect x="869.17" y="2335.30" width="2.10" height="4.40" fill="#000" stroke="none" stroke-width="0" />
<rect x="872.18" y="2335.30" width="2.10" height="4.40" fill="#000" stroke="none" stroke-width="0" />
<rect x="874.79" y="2335.30" width="2.10" height="4.40" fill="#000" stroke="none" stroke-width="0" />
<rect x="877.09" y="2335.30" width="2.10" height="4.40" fill="#000" stroke="none" stroke-width="0" />
<rect x="622.45" y="2335.30" width="3.50" height="10.90" fill="#000" stroke="none" stroke-width="0" />
<rect x="651.50" y="2335.30" width="10.60" height="10.90" fill="#000" stroke="none" stroke-width="0" />
<rect x="688.45" y="2335.30" width="3.50" height="10.90" fill="#000" stroke="none" stroke-width="0" />
<rect x="742.35" y="2335.30" width="3.50" height="10.90" fill="#000" stroke="none" stroke-width="0" />
<rect x="787.35" y="2335.30" width="3.50" height="10.90" fill="#000" stroke="none" stroke-width="0" />
<rect x="833.45" y="2335.30" width="3.50" height="10.90" fill="#000" stroke="none" stroke-width="0" />
<rect x="878.45" y="2335.30" width="3.50" height="10.90" fill="#000" stroke="none" stroke-width="0" />
<rect x="607.00" y="2320.94" width="5.00" height="1.80" fill="#000" stroke="none" stroke-width="0" />
<rect x="607.00" y="2318.48" width="5.00" height="1.80" fill="#000" stroke="none" stroke-width="0" />
<rect x="607.00" y="2316.02" width="5.00" height="1.80" fill="#000" stroke="none" stroke-width="0" />
<rect x="607.00" y="2313.56" width="5.00" height="1.80" fill="#000" stroke="none" stroke-width="0" />
<rect x="603.20" y="2311.10" width="8.80" height="1.80" fill="#000" stroke="none" stroke-width="0" />
<rect x="607.00" y="2308.64" width="5.00" height="1.80" fill="#000" stroke="none" stroke-width="0" />
<rect x="607.00" y="2306.18" width="5.00" height="1.80" fill="#000" stroke="none" stroke-width="0" />
<rect x="607.00" y="2303.72" width="5.00" height="1.80" fill="#000" stroke="none" stroke-width="0" />
<rect x="607.00" y="2301.26" width="5.00" height="1.80" fill="#000" stroke="none" stroke-width="0" />
<rect x="607.00" y="2296.37" width="5.00" height="1.80" fill="#000" stroke="none" stroke-width="0" />
<rect x="607.00" y="2293.94" width="5.00" height="1.80" fill="#000" stroke="none" stroke-width="0" />
<rect x="607.00" y="2291.51" width="5.00" height="1.80" fill="#000" stroke="none" stroke-width="0" />
<rect x="607.00" y="2289.08" width="5.00" height="1.80" fill="#000" stroke="none" stroke-width="0" />
<rect x="603.20" y="2286.65" width="8.80" height="1.80" fill="#000" stroke="none" stroke-width="0" />
<rect x="607.00" y="2284.22" width="5.00" height="1.80" fill="#000" stroke="none" stroke-width="0" />
<rect x="607.00" y="2281.79" width="5.00" height="1.80" fill="#000" stroke="none" stroke-width="0" />
<rect x="607.00" y="2279.36" width="5.00" height="1.80" fill="#000" stroke="none" stroke-width="0" />
<rect x="607.00" y="2276.93" width="5.00" height="1.80" fill="#000" stroke="none" stroke-width="0" />
<rect x="607.00" y="2261.77" width="5.00" height="1.80" fill="#000" stroke="none" stroke-width="0" />
<rect x="607.00" y="2254.32" width="5.00" height="1.80" fill="#000" stroke="none" stroke-width="0" />
<rect x="607.00" y="2249.03" width="5.00" height="1.80" fill="#000" stroke="none" stroke-width="0" />
<rect x="603.20" y="2244.93" width="8.80" height="1.80" fill="#000" stroke="none" stroke-width="0" />
<rect x="607.00" y="2241.58" width="5.00" height="1.80" fill="#000" stroke="none" stroke-width="0" />
<rect x="607.00" y="2238.75" width="5.00" height="1.80" fill="#000" stroke="none" stroke-width="0" />
<rect x="607.00" y="2236.30" width="5.00" height="1.80" fill="#000" stroke="none" stroke-width="0" />
<rect x="607.00" y="2234.14" width="5.00" height="1.80" fill="#000" stroke="none" stroke-width="0" />
<rect x="607.00" y="2221.69" width="5.00" height="1.80" fill="#000" stroke="none" stroke-width="0" />
<rect x="607.00" y="2215.55" width="5.00" height="1.80" fill="#000" stroke="none" stroke-width="0" />
<rect x="607.00" y="2211.19" width="5.00" height="1.80" fill="#000" stroke="none" stroke-width="0" />
<rect x="603.20" y="2207.81" width="8.80" height="1.80" fill="#000" stroke="none" stroke-width="0" />
<rect x="607.00" y="2205.04" width="5.00" height="1.80" fill="#000" stroke="none" stroke-width="0" />
<rect x="607.00" y="2202.71" width="5.00" height="1.80" fill="#000" stroke="none" stroke-width="0" />
<rect x="607.00" y="2200.68" width="5.00" height="1.80" fill="#000" stroke="none" stroke-width="0" />
<rect x="607.00" y="2198.90" width="5.00" height="1.80" fill="#000" stroke="none" stroke-width="0" />
<rect x="607.00" y="2187.06" width="5.00" height="1.80" fill="#000" stroke="none" stroke-width="0" />
<rect x="607.00" y="2181.08" width="5.00" height="1.80" fill="#000" stroke="none" stroke-width="0" />
<rect x="607.00" y="2176.83" width="5.00" height="1.80" fill="#000" stroke="none" stroke-width="0" />
<rect x="603.20" y="2173.54" width="8.80" height="1.80" fill="#000" stroke="none" stroke-width="0" />
<rect x="607.00" y="2170.84" width="5.00" height="1.80" fill="#000" stroke="none" stroke-width="0" />
<rect x="607.00" y="2168.57" width="5.00" height="1.80" fill="#000" stroke="none" stroke-width="0" />
<rect x="607.00" y="2166.59" width="5.00" height="1.80" fill="#000" stroke="none" stroke-width="0" />
<rect x="607.00" y="2164.86" width="5.00" height="1.80" fill="#000" stroke="none" stroke-width="0" />
<rect x="607.00" y="2153.03" width="5.00" height="1.80" fill="#000" stroke="none" stroke-width="0" />
<rect x="607.00" y="2147.03" width="5.00" height="1.80" fill="#000" stroke="none" stroke-width="0" />
<rect x="607.00" y="2142.77" width="5.00" height="1.80" fill="#000" stroke="none" stroke-width="0" />
<rect x="603.20" y="2139.47" width="8.80" height="1.80" fill="#000" stroke="none" stroke-width="0" />
<rect x="607.00" y="2136.77" width="5.00" height="1.80" fill="#000" stroke="none" stroke-width="0" />
<rect x="607.00" y="2134.48" width="5.00" height="1.80" fill="#000" stroke="none" stroke-width="0" />
<rect x="607.00" y="2132.50" width="5.00" height="1.80" fill="#000" stroke="none" stroke-width="0" />
<rect x="607.00" y="2130.76" width="5.00" height="1.80" fill="#000" stroke="none" stroke-width="0" />
<rect x="598.80" y="2322.65" width="13.20" height="3.30" fill="#000" stroke="none" stroke-width="0" />
<rect x="598.80" y="2295.70" width="13.20" height="8.00" fill="#000" stroke="none" stroke-width="0" />
<rect x="598.80" y="2273.75" width="13.20" height="3.30" fill="#000" stroke="none" stroke-width="0" />
<rect x="598.80" y="2231.45" width="13.20" height="3.30" fill="#000" stroke="none" stroke-width="0" />
<rect x="598.80" y="2196.55" width="13.20" height="3.30" fill="#000" stroke="none" stroke-width="0" />
<rect x="598.80" y="2162.55" width="13.20" height="3.30" fill="#000" stroke="none" stroke-width="0" />
<rect x="598.80" y="2128.45" width="13.20" height="3.30" fill="#000" stroke="none" stroke-width="0" />
<g filter="url(#cmap)">
<rect x="705.7" y="2178.6" width="77.8" height="102.9" fill="#000"/>
<g clip-path="url(#ol37)">
<rect x="705.7" y="2178.6" width="77.8" height="102.9" fill="#383838"/>
<ellipse cx="0" cy="0" rx="1" ry="1" transform="translate(744.75,2246.94) rotate(-33) scale(31.40,13.08)" fill="url(#pg38)" style="mix-blend-mode:lighten"/>
<ellipse cx="0" cy="0" rx="1" ry="1" transform="translate(731.43,2258.78) rotate(-40) scale(17.02,9.62)" fill="url(#pg39)" style="mix-blend-mode:lighten"/>
<ellipse cx="0" cy="0" rx="1" ry="1" transform="translate(745.49,2203.29) rotate(0) scale(14.80,13.32)" fill="url(#pg40)" style="mix-blend-mode:lighten"/>
<ellipse cx="0" cy="0" rx="1" ry="1" transform="translate(748.44,2242.50) rotate(-30) scale(9.94,5.63)" fill="url(#pg41)" style="mix-blend-mode:lighten"/>
</g></g>
<line x1="747.60" y1="2121.90" x2="747.60" y2="2334.60" stroke="#111" stroke-width="1.5" stroke-linecap="butt"/>
<line x1="612.70" y1="2233.10" x2="891.20" y2="2233.10" stroke="#111" stroke-width="1.5" stroke-linecap="butt"/>
<text transform="translate(617.70,2138.50) scale(1.2000,1.0000)" font-family='"Liberation Sans", sans-serif' font-size="9.6" text-anchor="start" fill="#111" stroke="#111" stroke-width="0.2">Q1</text>
<text transform="translate(617.70,2152.30) scale(1.2000,1.0000)" font-family='"Liberation Sans", sans-serif' font-size="9.6" text-anchor="start" fill="#111" stroke="#111" stroke-width="0.2">3.31</text>
<text transform="translate(868.00,2138.50) scale(1.2000,1.0000)" font-family='"Liberation Sans", sans-serif' font-size="9.6" text-anchor="end" fill="#111" stroke="#111" stroke-width="0.2">Q2</text>
<text transform="translate(868.00,2152.30) scale(1.2000,1.0000)" font-family='"Liberation Sans", sans-serif' font-size="9.6" text-anchor="end" fill="#111" stroke="#111" stroke-width="0.2">6.11</text>
<text transform="translate(868.00,2309.20) scale(1.2000,1.0000)" font-family='"Liberation Sans", sans-serif' font-size="9.6" text-anchor="end" fill="#111" stroke="#111" stroke-width="0.2">Q3</text>
<text transform="translate(868.00,2322.70) scale(1.2000,1.0000)" font-family='"Liberation Sans", sans-serif' font-size="9.6" text-anchor="end" fill="#111" stroke="#111" stroke-width="0.2">50.3</text>
<text transform="translate(617.70,2309.20) scale(1.2000,1.0000)" font-family='"Liberation Sans", sans-serif' font-size="9.6" text-anchor="start" fill="#111" stroke="#111" stroke-width="0.2">Q4</text>
<text transform="translate(617.70,2322.70) scale(1.2000,1.0000)" font-family='"Liberation Sans", sans-serif' font-size="9.6" text-anchor="start" fill="#111" stroke="#111" stroke-width="0.2">40.3</text>
<text transform="translate(561.50,2145.70) scale(1.1500,1.0000)" font-family='"Liberation Sans", sans-serif' font-size="14.0" text-anchor="start" fill="#000" stroke="#000" stroke-width="0.25">10</text>
<text transform="translate(580.01,2136.46) scale(1.1500,1.0000)" font-family='"Liberation Sans", sans-serif' font-size="13.58" text-anchor="start" fill="#000" stroke="#000" stroke-width="0.25">7</text>
<text transform="translate(561.50,2172.40) scale(1.1500,1.0000)" font-family='"Liberation Sans", sans-serif' font-size="14.0" text-anchor="start" fill="#000" stroke="#000" stroke-width="0.25">10</text>
<text transform="translate(580.01,2163.16) scale(1.1500,1.0000)" font-family='"Liberation Sans", sans-serif' font-size="13.58" text-anchor="start" fill="#000" stroke="#000" stroke-width="0.25">6</text>
<text transform="translate(561.50,2206.40) scale(1.1500,1.0000)" font-family='"Liberation Sans", sans-serif' font-size="14.0" text-anchor="start" fill="#000" stroke="#000" stroke-width="0.25">10</text>
<text transform="translate(580.01,2197.16) scale(1.1500,1.0000)" font-family='"Liberation Sans", sans-serif' font-size="13.58" text-anchor="start" fill="#000" stroke="#000" stroke-width="0.25">5</text>
<text transform="translate(561.50,2241.30) scale(1.1500,1.0000)" font-family='"Liberation Sans", sans-serif' font-size="14.0" text-anchor="start" fill="#000" stroke="#000" stroke-width="0.25">10</text>
<text transform="translate(580.01,2232.06) scale(1.1500,1.0000)" font-family='"Liberation Sans", sans-serif' font-size="13.58" text-anchor="start" fill="#000" stroke="#000" stroke-width="0.25">4</text>
<text transform="translate(569.90,2304.50) scale(1.1500,1.0000)" font-family='"Liberation Sans", sans-serif' font-size="14.0" text-anchor="start" fill="#000" stroke="#000" stroke-width="0.25">0</text>
<text transform="translate(667.20,2369.20) scale(1.1500,1.0000)" font-family='"Liberation Sans", sans-serif' font-size="14.0" text-anchor="middle" fill="#000" stroke="#000" stroke-width="0.25">0</text>
<text transform="translate(744.10,2369.20) scale(1.1500,1.0000)" font-family='"Liberation Sans", sans-serif' font-size="14.0" text-anchor="start" fill="#000" stroke="#000" stroke-width="0.25">10</text>
<text transform="translate(762.91,2360.24) scale(1.1500,1.0000)" font-family='"Liberation Sans", sans-serif' font-size="13.58" text-anchor="start" fill="#000" stroke="#000" stroke-width="0.25">4</text>
<text transform="translate(835.80,2369.20) scale(1.1500,1.0000)" font-family='"Liberation Sans", sans-serif' font-size="14.0" text-anchor="start" fill="#000" stroke="#000" stroke-width="0.25">10</text>
<text transform="translate(854.61,2360.24) scale(1.1500,1.0000)" font-family='"Liberation Sans", sans-serif' font-size="13.58" text-anchor="start" fill="#000" stroke="#000" stroke-width="0.25">6</text>
<text transform="translate(643.50,2414.20) scale(1.3060,1.0000)" font-family='"Liberation Sans", sans-serif' font-size="16.2" text-anchor="start" fill="#000" stroke="#000" stroke-width="0.25">Comp-FL1-A :: FITC-A</text>
<text transform="translate(509.00,2227.60) scale(1.3000,1) rotate(-90) scale(1.0262,1.0000)" font-family='"Liberation Sans", sans-serif' font-size="17.0" text-anchor="middle" fill="#000" >Comp-FL2-A :: PE-A</text>
<text transform="translate(607.10,2441.80) scale(1.1884,1.0000)" font-family='"Liberation Sans", sans-serif' font-size="20.6" font-weight="bold" text-anchor="start" fill="#000" >si-ITGB4+Gemcitabine</text>
</svg>
</body></html>
